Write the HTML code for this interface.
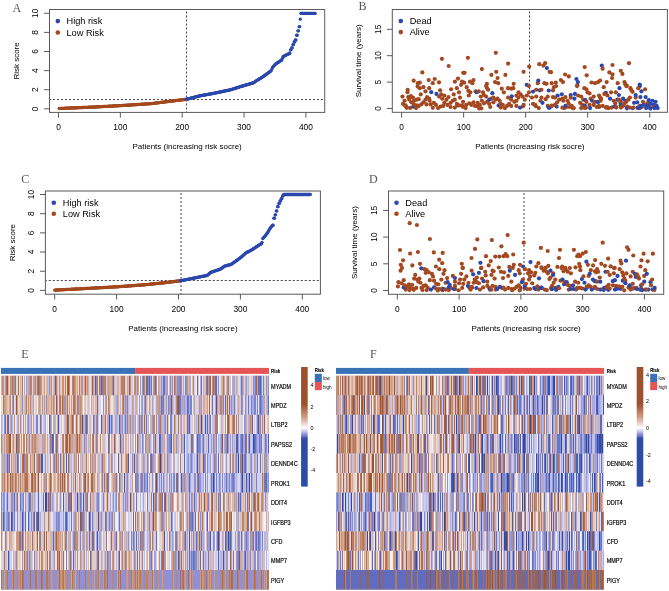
<!DOCTYPE html><html><head><meta charset="utf-8"><style>html,body{margin:0;padding:0;background:#fff}svg{display:block;will-change:transform}</style></head><body><svg width="669" height="591" viewBox="0 0 669 591" font-family="Liberation Sans, sans-serif" fill="#000">
<rect width="669" height="591" fill="#fff"/>
<line x1="186.5" y1="9.5" x2="186.5" y2="112.4" stroke="#444" stroke-width="1.0" stroke-dasharray="2 2" stroke-dashoffset="2"/>
<line x1="49.5" y1="99.5" x2="324.7" y2="99.5" stroke="#444" stroke-width="1" stroke-dasharray="2 2" stroke-dashoffset="0.6"/>
<circle cx="59.12" cy="108.49" r="1.65" fill="#a4491f"/>
<circle cx="59.74" cy="108.46" r="1.65" fill="#a4491f"/>
<circle cx="60.36" cy="108.44" r="1.65" fill="#a4491f"/>
<circle cx="60.97" cy="108.41" r="1.65" fill="#a4491f"/>
<circle cx="61.59" cy="108.38" r="1.65" fill="#a4491f"/>
<circle cx="62.21" cy="108.36" r="1.65" fill="#a4491f"/>
<circle cx="62.83" cy="108.33" r="1.65" fill="#a4491f"/>
<circle cx="63.45" cy="108.31" r="1.65" fill="#a4491f"/>
<circle cx="64.07" cy="108.28" r="1.65" fill="#a4491f"/>
<circle cx="64.69" cy="108.25" r="1.65" fill="#a4491f"/>
<circle cx="65.3" cy="108.23" r="1.65" fill="#a4491f"/>
<circle cx="65.92" cy="108.2" r="1.65" fill="#a4491f"/>
<circle cx="66.54" cy="108.18" r="1.65" fill="#a4491f"/>
<circle cx="67.16" cy="108.15" r="1.65" fill="#a4491f"/>
<circle cx="67.78" cy="108.12" r="1.65" fill="#a4491f"/>
<circle cx="68.4" cy="108.1" r="1.65" fill="#a4491f"/>
<circle cx="69.01" cy="108.07" r="1.65" fill="#a4491f"/>
<circle cx="69.63" cy="108.04" r="1.65" fill="#a4491f"/>
<circle cx="70.25" cy="108.02" r="1.65" fill="#a4491f"/>
<circle cx="70.87" cy="107.99" r="1.65" fill="#a4491f"/>
<circle cx="71.49" cy="107.97" r="1.65" fill="#a4491f"/>
<circle cx="72.11" cy="107.94" r="1.65" fill="#a4491f"/>
<circle cx="72.73" cy="107.91" r="1.65" fill="#a4491f"/>
<circle cx="73.34" cy="107.89" r="1.65" fill="#a4491f"/>
<circle cx="73.96" cy="107.86" r="1.65" fill="#a4491f"/>
<circle cx="74.58" cy="107.84" r="1.65" fill="#a4491f"/>
<circle cx="75.2" cy="107.81" r="1.65" fill="#a4491f"/>
<circle cx="75.82" cy="107.78" r="1.65" fill="#a4491f"/>
<circle cx="76.44" cy="107.76" r="1.65" fill="#a4491f"/>
<circle cx="77.06" cy="107.73" r="1.65" fill="#a4491f"/>
<circle cx="77.67" cy="107.71" r="1.65" fill="#a4491f"/>
<circle cx="78.29" cy="107.68" r="1.65" fill="#a4491f"/>
<circle cx="78.91" cy="107.65" r="1.65" fill="#a4491f"/>
<circle cx="79.53" cy="107.63" r="1.65" fill="#a4491f"/>
<circle cx="80.15" cy="107.6" r="1.65" fill="#a4491f"/>
<circle cx="80.77" cy="107.58" r="1.65" fill="#a4491f"/>
<circle cx="81.38" cy="107.55" r="1.65" fill="#a4491f"/>
<circle cx="82" cy="107.52" r="1.65" fill="#a4491f"/>
<circle cx="82.62" cy="107.5" r="1.65" fill="#a4491f"/>
<circle cx="83.24" cy="107.47" r="1.65" fill="#a4491f"/>
<circle cx="83.86" cy="107.45" r="1.65" fill="#a4491f"/>
<circle cx="84.48" cy="107.42" r="1.65" fill="#a4491f"/>
<circle cx="85.1" cy="107.39" r="1.65" fill="#a4491f"/>
<circle cx="85.71" cy="107.37" r="1.65" fill="#a4491f"/>
<circle cx="86.33" cy="107.34" r="1.65" fill="#a4491f"/>
<circle cx="86.95" cy="107.32" r="1.65" fill="#a4491f"/>
<circle cx="87.57" cy="107.29" r="1.65" fill="#a4491f"/>
<circle cx="88.19" cy="107.26" r="1.65" fill="#a4491f"/>
<circle cx="88.81" cy="107.24" r="1.65" fill="#a4491f"/>
<circle cx="89.43" cy="107.21" r="1.65" fill="#a4491f"/>
<circle cx="90.04" cy="107.19" r="1.65" fill="#a4491f"/>
<circle cx="90.66" cy="107.16" r="1.65" fill="#a4491f"/>
<circle cx="91.28" cy="107.13" r="1.65" fill="#a4491f"/>
<circle cx="91.9" cy="107.11" r="1.65" fill="#a4491f"/>
<circle cx="92.52" cy="107.08" r="1.65" fill="#a4491f"/>
<circle cx="93.14" cy="107.06" r="1.65" fill="#a4491f"/>
<circle cx="93.75" cy="107.03" r="1.65" fill="#a4491f"/>
<circle cx="94.37" cy="107" r="1.65" fill="#a4491f"/>
<circle cx="94.99" cy="106.98" r="1.65" fill="#a4491f"/>
<circle cx="95.61" cy="106.94" r="1.65" fill="#a4491f"/>
<circle cx="96.23" cy="106.91" r="1.65" fill="#a4491f"/>
<circle cx="96.85" cy="106.88" r="1.65" fill="#a4491f"/>
<circle cx="97.47" cy="106.84" r="1.65" fill="#a4491f"/>
<circle cx="98.08" cy="106.81" r="1.65" fill="#a4491f"/>
<circle cx="98.7" cy="106.78" r="1.65" fill="#a4491f"/>
<circle cx="99.32" cy="106.74" r="1.65" fill="#a4491f"/>
<circle cx="99.94" cy="106.71" r="1.65" fill="#a4491f"/>
<circle cx="100.56" cy="106.68" r="1.65" fill="#a4491f"/>
<circle cx="101.18" cy="106.64" r="1.65" fill="#a4491f"/>
<circle cx="101.8" cy="106.61" r="1.65" fill="#a4491f"/>
<circle cx="102.41" cy="106.58" r="1.65" fill="#a4491f"/>
<circle cx="103.03" cy="106.55" r="1.65" fill="#a4491f"/>
<circle cx="103.65" cy="106.51" r="1.65" fill="#a4491f"/>
<circle cx="104.27" cy="106.48" r="1.65" fill="#a4491f"/>
<circle cx="104.89" cy="106.45" r="1.65" fill="#a4491f"/>
<circle cx="105.51" cy="106.41" r="1.65" fill="#a4491f"/>
<circle cx="106.12" cy="106.38" r="1.65" fill="#a4491f"/>
<circle cx="106.74" cy="106.35" r="1.65" fill="#a4491f"/>
<circle cx="107.36" cy="106.31" r="1.65" fill="#a4491f"/>
<circle cx="107.98" cy="106.28" r="1.65" fill="#a4491f"/>
<circle cx="108.6" cy="106.25" r="1.65" fill="#a4491f"/>
<circle cx="109.22" cy="106.21" r="1.65" fill="#a4491f"/>
<circle cx="109.84" cy="106.18" r="1.65" fill="#a4491f"/>
<circle cx="110.45" cy="106.15" r="1.65" fill="#a4491f"/>
<circle cx="111.07" cy="106.12" r="1.65" fill="#a4491f"/>
<circle cx="111.69" cy="106.08" r="1.65" fill="#a4491f"/>
<circle cx="112.31" cy="106.05" r="1.65" fill="#a4491f"/>
<circle cx="112.93" cy="106.02" r="1.65" fill="#a4491f"/>
<circle cx="113.55" cy="105.98" r="1.65" fill="#a4491f"/>
<circle cx="114.17" cy="105.95" r="1.65" fill="#a4491f"/>
<circle cx="114.78" cy="105.92" r="1.65" fill="#a4491f"/>
<circle cx="115.4" cy="105.88" r="1.65" fill="#a4491f"/>
<circle cx="116.02" cy="105.85" r="1.65" fill="#a4491f"/>
<circle cx="116.64" cy="105.82" r="1.65" fill="#a4491f"/>
<circle cx="117.26" cy="105.78" r="1.65" fill="#a4491f"/>
<circle cx="117.88" cy="105.75" r="1.65" fill="#a4491f"/>
<circle cx="118.49" cy="105.72" r="1.65" fill="#a4491f"/>
<circle cx="119.11" cy="105.69" r="1.65" fill="#a4491f"/>
<circle cx="119.73" cy="105.65" r="1.65" fill="#a4491f"/>
<circle cx="120.35" cy="105.62" r="1.65" fill="#a4491f"/>
<circle cx="120.97" cy="105.59" r="1.65" fill="#a4491f"/>
<circle cx="121.59" cy="105.55" r="1.65" fill="#a4491f"/>
<circle cx="122.21" cy="105.51" r="1.65" fill="#a4491f"/>
<circle cx="122.82" cy="105.47" r="1.65" fill="#a4491f"/>
<circle cx="123.44" cy="105.43" r="1.65" fill="#a4491f"/>
<circle cx="124.06" cy="105.39" r="1.65" fill="#a4491f"/>
<circle cx="124.68" cy="105.35" r="1.65" fill="#a4491f"/>
<circle cx="125.3" cy="105.31" r="1.65" fill="#a4491f"/>
<circle cx="125.92" cy="105.27" r="1.65" fill="#a4491f"/>
<circle cx="126.54" cy="105.23" r="1.65" fill="#a4491f"/>
<circle cx="127.15" cy="105.19" r="1.65" fill="#a4491f"/>
<circle cx="127.77" cy="105.15" r="1.65" fill="#a4491f"/>
<circle cx="128.39" cy="105.11" r="1.65" fill="#a4491f"/>
<circle cx="129.01" cy="105.07" r="1.65" fill="#a4491f"/>
<circle cx="129.63" cy="105.03" r="1.65" fill="#a4491f"/>
<circle cx="130.25" cy="104.99" r="1.65" fill="#a4491f"/>
<circle cx="130.86" cy="104.95" r="1.65" fill="#a4491f"/>
<circle cx="131.48" cy="104.91" r="1.65" fill="#a4491f"/>
<circle cx="132.1" cy="104.87" r="1.65" fill="#a4491f"/>
<circle cx="132.72" cy="104.83" r="1.65" fill="#a4491f"/>
<circle cx="133.34" cy="104.79" r="1.65" fill="#a4491f"/>
<circle cx="133.96" cy="104.75" r="1.65" fill="#a4491f"/>
<circle cx="134.58" cy="104.71" r="1.65" fill="#a4491f"/>
<circle cx="135.19" cy="104.67" r="1.65" fill="#a4491f"/>
<circle cx="135.81" cy="104.63" r="1.65" fill="#a4491f"/>
<circle cx="136.43" cy="104.59" r="1.65" fill="#a4491f"/>
<circle cx="137.05" cy="104.55" r="1.65" fill="#a4491f"/>
<circle cx="137.67" cy="104.51" r="1.65" fill="#a4491f"/>
<circle cx="138.29" cy="104.47" r="1.65" fill="#a4491f"/>
<circle cx="138.91" cy="104.43" r="1.65" fill="#a4491f"/>
<circle cx="139.52" cy="104.39" r="1.65" fill="#a4491f"/>
<circle cx="140.14" cy="104.35" r="1.65" fill="#a4491f"/>
<circle cx="140.76" cy="104.31" r="1.65" fill="#a4491f"/>
<circle cx="141.38" cy="104.27" r="1.65" fill="#a4491f"/>
<circle cx="142" cy="104.23" r="1.65" fill="#a4491f"/>
<circle cx="142.62" cy="104.19" r="1.65" fill="#a4491f"/>
<circle cx="143.23" cy="104.15" r="1.65" fill="#a4491f"/>
<circle cx="143.85" cy="104.11" r="1.65" fill="#a4491f"/>
<circle cx="144.47" cy="104.07" r="1.65" fill="#a4491f"/>
<circle cx="145.09" cy="104.02" r="1.65" fill="#a4491f"/>
<circle cx="145.71" cy="103.98" r="1.65" fill="#a4491f"/>
<circle cx="146.33" cy="103.94" r="1.65" fill="#a4491f"/>
<circle cx="146.95" cy="103.9" r="1.65" fill="#a4491f"/>
<circle cx="147.56" cy="103.86" r="1.65" fill="#a4491f"/>
<circle cx="148.18" cy="103.82" r="1.65" fill="#a4491f"/>
<circle cx="148.8" cy="103.78" r="1.65" fill="#a4491f"/>
<circle cx="149.42" cy="103.74" r="1.65" fill="#a4491f"/>
<circle cx="150.04" cy="103.7" r="1.65" fill="#a4491f"/>
<circle cx="150.66" cy="103.66" r="1.65" fill="#a4491f"/>
<circle cx="151.28" cy="103.6" r="1.65" fill="#a4491f"/>
<circle cx="151.89" cy="103.53" r="1.65" fill="#a4491f"/>
<circle cx="152.51" cy="103.45" r="1.65" fill="#a4491f"/>
<circle cx="153.13" cy="103.38" r="1.65" fill="#a4491f"/>
<circle cx="153.75" cy="103.3" r="1.65" fill="#a4491f"/>
<circle cx="154.37" cy="103.22" r="1.65" fill="#a4491f"/>
<circle cx="154.99" cy="103.15" r="1.65" fill="#a4491f"/>
<circle cx="155.6" cy="103.07" r="1.65" fill="#a4491f"/>
<circle cx="156.22" cy="102.99" r="1.65" fill="#a4491f"/>
<circle cx="156.84" cy="102.92" r="1.65" fill="#a4491f"/>
<circle cx="157.46" cy="102.84" r="1.65" fill="#a4491f"/>
<circle cx="158.08" cy="102.76" r="1.65" fill="#a4491f"/>
<circle cx="158.7" cy="102.69" r="1.65" fill="#a4491f"/>
<circle cx="159.32" cy="102.61" r="1.65" fill="#a4491f"/>
<circle cx="159.93" cy="102.54" r="1.65" fill="#a4491f"/>
<circle cx="160.55" cy="102.46" r="1.65" fill="#a4491f"/>
<circle cx="161.17" cy="102.38" r="1.65" fill="#a4491f"/>
<circle cx="161.79" cy="102.31" r="1.65" fill="#a4491f"/>
<circle cx="162.41" cy="102.23" r="1.65" fill="#a4491f"/>
<circle cx="163.03" cy="102.15" r="1.65" fill="#a4491f"/>
<circle cx="163.65" cy="102.08" r="1.65" fill="#a4491f"/>
<circle cx="164.26" cy="102" r="1.65" fill="#a4491f"/>
<circle cx="164.88" cy="101.92" r="1.65" fill="#a4491f"/>
<circle cx="165.5" cy="101.85" r="1.65" fill="#a4491f"/>
<circle cx="166.12" cy="101.77" r="1.65" fill="#a4491f"/>
<circle cx="166.74" cy="101.69" r="1.65" fill="#a4491f"/>
<circle cx="167.36" cy="101.62" r="1.65" fill="#a4491f"/>
<circle cx="167.97" cy="101.54" r="1.65" fill="#a4491f"/>
<circle cx="168.59" cy="101.47" r="1.65" fill="#a4491f"/>
<circle cx="169.21" cy="101.39" r="1.65" fill="#a4491f"/>
<circle cx="169.83" cy="101.31" r="1.65" fill="#a4491f"/>
<circle cx="170.45" cy="101.24" r="1.65" fill="#a4491f"/>
<circle cx="171.07" cy="101.16" r="1.65" fill="#a4491f"/>
<circle cx="171.69" cy="101.08" r="1.65" fill="#a4491f"/>
<circle cx="172.3" cy="101.01" r="1.65" fill="#a4491f"/>
<circle cx="172.92" cy="100.93" r="1.65" fill="#a4491f"/>
<circle cx="173.54" cy="100.85" r="1.65" fill="#a4491f"/>
<circle cx="174.16" cy="100.78" r="1.65" fill="#a4491f"/>
<circle cx="174.78" cy="100.7" r="1.65" fill="#a4491f"/>
<circle cx="175.4" cy="100.63" r="1.65" fill="#a4491f"/>
<circle cx="176.02" cy="100.55" r="1.65" fill="#a4491f"/>
<circle cx="176.63" cy="100.47" r="1.65" fill="#a4491f"/>
<circle cx="177.25" cy="100.4" r="1.65" fill="#a4491f"/>
<circle cx="177.87" cy="100.32" r="1.65" fill="#a4491f"/>
<circle cx="178.49" cy="100.24" r="1.65" fill="#a4491f"/>
<circle cx="179.11" cy="100.17" r="1.65" fill="#a4491f"/>
<circle cx="179.73" cy="100.09" r="1.65" fill="#a4491f"/>
<circle cx="180.34" cy="100.01" r="1.65" fill="#a4491f"/>
<circle cx="180.96" cy="99.94" r="1.65" fill="#a4491f"/>
<circle cx="181.58" cy="99.86" r="1.65" fill="#a4491f"/>
<circle cx="182.2" cy="99.78" r="1.65" fill="#a4491f"/>
<circle cx="182.82" cy="99.71" r="1.65" fill="#a4491f"/>
<circle cx="183.44" cy="99.63" r="1.65" fill="#a4491f"/>
<circle cx="184.06" cy="99.56" r="1.65" fill="#a4491f"/>
<circle cx="184.67" cy="99.48" r="1.65" fill="#a4491f"/>
<circle cx="185.29" cy="99.4" r="1.65" fill="#a4491f"/>
<circle cx="185.91" cy="99.33" r="1.65" fill="#a4491f"/>
<circle cx="186.53" cy="99.25" r="1.65" fill="#2a48ad"/>
<circle cx="187.15" cy="99.09" r="1.65" fill="#2a48ad"/>
<circle cx="187.77" cy="98.93" r="1.65" fill="#2a48ad"/>
<circle cx="188.39" cy="98.77" r="1.65" fill="#2a48ad"/>
<circle cx="189" cy="98.61" r="1.65" fill="#2a48ad"/>
<circle cx="189.62" cy="98.45" r="1.65" fill="#2a48ad"/>
<circle cx="190.24" cy="98.29" r="1.65" fill="#2a48ad"/>
<circle cx="190.86" cy="98.13" r="1.65" fill="#2a48ad"/>
<circle cx="191.48" cy="97.97" r="1.65" fill="#2a48ad"/>
<circle cx="192.1" cy="97.81" r="1.65" fill="#2a48ad"/>
<circle cx="192.71" cy="97.65" r="1.65" fill="#2a48ad"/>
<circle cx="193.33" cy="97.49" r="1.65" fill="#2a48ad"/>
<circle cx="193.95" cy="97.33" r="1.65" fill="#2a48ad"/>
<circle cx="194.57" cy="97.17" r="1.65" fill="#2a48ad"/>
<circle cx="195.19" cy="97.01" r="1.65" fill="#2a48ad"/>
<circle cx="195.81" cy="96.85" r="1.65" fill="#2a48ad"/>
<circle cx="196.43" cy="96.69" r="1.65" fill="#2a48ad"/>
<circle cx="197.04" cy="96.53" r="1.65" fill="#2a48ad"/>
<circle cx="197.66" cy="96.37" r="1.65" fill="#2a48ad"/>
<circle cx="198.28" cy="96.21" r="1.65" fill="#2a48ad"/>
<circle cx="198.9" cy="96.05" r="1.65" fill="#2a48ad"/>
<circle cx="199.52" cy="95.92" r="1.65" fill="#2a48ad"/>
<circle cx="200.14" cy="95.81" r="1.65" fill="#2a48ad"/>
<circle cx="200.76" cy="95.69" r="1.65" fill="#2a48ad"/>
<circle cx="201.37" cy="95.58" r="1.65" fill="#2a48ad"/>
<circle cx="201.99" cy="95.47" r="1.65" fill="#2a48ad"/>
<circle cx="202.61" cy="95.35" r="1.65" fill="#2a48ad"/>
<circle cx="203.23" cy="95.24" r="1.65" fill="#2a48ad"/>
<circle cx="203.85" cy="95.12" r="1.65" fill="#2a48ad"/>
<circle cx="204.47" cy="95.01" r="1.65" fill="#2a48ad"/>
<circle cx="205.08" cy="94.89" r="1.65" fill="#2a48ad"/>
<circle cx="205.7" cy="94.78" r="1.65" fill="#2a48ad"/>
<circle cx="206.32" cy="94.66" r="1.65" fill="#2a48ad"/>
<circle cx="206.94" cy="94.55" r="1.65" fill="#2a48ad"/>
<circle cx="207.56" cy="94.43" r="1.65" fill="#2a48ad"/>
<circle cx="208.18" cy="94.32" r="1.65" fill="#2a48ad"/>
<circle cx="208.8" cy="94.21" r="1.65" fill="#2a48ad"/>
<circle cx="209.41" cy="94.09" r="1.65" fill="#2a48ad"/>
<circle cx="210.03" cy="93.98" r="1.65" fill="#2a48ad"/>
<circle cx="210.65" cy="93.86" r="1.65" fill="#2a48ad"/>
<circle cx="211.27" cy="93.75" r="1.65" fill="#2a48ad"/>
<circle cx="211.89" cy="93.63" r="1.65" fill="#2a48ad"/>
<circle cx="212.51" cy="93.52" r="1.65" fill="#2a48ad"/>
<circle cx="213.12" cy="93.4" r="1.65" fill="#2a48ad"/>
<circle cx="213.74" cy="93.29" r="1.65" fill="#2a48ad"/>
<circle cx="214.36" cy="93.18" r="1.65" fill="#2a48ad"/>
<circle cx="214.98" cy="93.06" r="1.65" fill="#2a48ad"/>
<circle cx="215.6" cy="92.95" r="1.65" fill="#2a48ad"/>
<circle cx="216.22" cy="92.82" r="1.65" fill="#2a48ad"/>
<circle cx="216.84" cy="92.68" r="1.65" fill="#2a48ad"/>
<circle cx="217.45" cy="92.55" r="1.65" fill="#2a48ad"/>
<circle cx="218.07" cy="92.42" r="1.65" fill="#2a48ad"/>
<circle cx="218.69" cy="92.29" r="1.65" fill="#2a48ad"/>
<circle cx="219.31" cy="92.16" r="1.65" fill="#2a48ad"/>
<circle cx="219.93" cy="92.02" r="1.65" fill="#2a48ad"/>
<circle cx="220.55" cy="91.89" r="1.65" fill="#2a48ad"/>
<circle cx="221.17" cy="91.76" r="1.65" fill="#2a48ad"/>
<circle cx="221.78" cy="91.63" r="1.65" fill="#2a48ad"/>
<circle cx="222.4" cy="91.5" r="1.65" fill="#2a48ad"/>
<circle cx="223.02" cy="91.36" r="1.65" fill="#2a48ad"/>
<circle cx="223.64" cy="91.23" r="1.65" fill="#2a48ad"/>
<circle cx="224.26" cy="91.1" r="1.65" fill="#2a48ad"/>
<circle cx="224.88" cy="90.97" r="1.65" fill="#2a48ad"/>
<circle cx="225.5" cy="90.84" r="1.65" fill="#2a48ad"/>
<circle cx="226.11" cy="90.7" r="1.65" fill="#2a48ad"/>
<circle cx="226.73" cy="90.57" r="1.65" fill="#2a48ad"/>
<circle cx="227.35" cy="90.44" r="1.65" fill="#2a48ad"/>
<circle cx="227.97" cy="90.31" r="1.65" fill="#2a48ad"/>
<circle cx="228.59" cy="90.18" r="1.65" fill="#2a48ad"/>
<circle cx="229.21" cy="90.04" r="1.65" fill="#2a48ad"/>
<circle cx="229.82" cy="89.91" r="1.65" fill="#2a48ad"/>
<circle cx="230.44" cy="89.78" r="1.65" fill="#2a48ad"/>
<circle cx="231.06" cy="89.62" r="1.65" fill="#2a48ad"/>
<circle cx="231.68" cy="89.42" r="1.65" fill="#2a48ad"/>
<circle cx="232.3" cy="89.22" r="1.65" fill="#2a48ad"/>
<circle cx="232.92" cy="89.03" r="1.65" fill="#2a48ad"/>
<circle cx="233.54" cy="88.83" r="1.65" fill="#2a48ad"/>
<circle cx="234.15" cy="88.63" r="1.65" fill="#2a48ad"/>
<circle cx="234.77" cy="88.43" r="1.65" fill="#2a48ad"/>
<circle cx="235.39" cy="88.23" r="1.65" fill="#2a48ad"/>
<circle cx="236.01" cy="88.04" r="1.65" fill="#2a48ad"/>
<circle cx="236.63" cy="87.84" r="1.65" fill="#2a48ad"/>
<circle cx="237.25" cy="87.64" r="1.65" fill="#2a48ad"/>
<circle cx="237.87" cy="87.44" r="1.65" fill="#2a48ad"/>
<circle cx="238.48" cy="87.24" r="1.65" fill="#2a48ad"/>
<circle cx="239.1" cy="87.05" r="1.65" fill="#2a48ad"/>
<circle cx="239.72" cy="86.85" r="1.65" fill="#2a48ad"/>
<circle cx="240.34" cy="86.65" r="1.65" fill="#2a48ad"/>
<circle cx="240.96" cy="86.45" r="1.65" fill="#2a48ad"/>
<circle cx="241.58" cy="86.27" r="1.65" fill="#2a48ad"/>
<circle cx="242.19" cy="86.09" r="1.65" fill="#2a48ad"/>
<circle cx="242.81" cy="85.91" r="1.65" fill="#2a48ad"/>
<circle cx="243.43" cy="85.73" r="1.65" fill="#2a48ad"/>
<circle cx="244.05" cy="85.55" r="1.65" fill="#2a48ad"/>
<circle cx="244.67" cy="85.37" r="1.65" fill="#2a48ad"/>
<circle cx="245.29" cy="85.19" r="1.65" fill="#2a48ad"/>
<circle cx="245.91" cy="85.01" r="1.65" fill="#2a48ad"/>
<circle cx="246.52" cy="84.83" r="1.65" fill="#2a48ad"/>
<circle cx="247.14" cy="84.64" r="1.65" fill="#2a48ad"/>
<circle cx="247.76" cy="84.46" r="1.65" fill="#2a48ad"/>
<circle cx="248.38" cy="84.28" r="1.65" fill="#2a48ad"/>
<circle cx="249" cy="84.1" r="1.65" fill="#2a48ad"/>
<circle cx="249.62" cy="83.92" r="1.65" fill="#2a48ad"/>
<circle cx="250.24" cy="83.74" r="1.65" fill="#2a48ad"/>
<circle cx="250.85" cy="83.56" r="1.65" fill="#2a48ad"/>
<circle cx="251.47" cy="83.38" r="1.65" fill="#2a48ad"/>
<circle cx="252.09" cy="83.2" r="1.65" fill="#2a48ad"/>
<circle cx="252.71" cy="83.02" r="1.65" fill="#2a48ad"/>
<circle cx="253.33" cy="82.84" r="1.65" fill="#2a48ad"/>
<circle cx="253.95" cy="82.54" r="1.65" fill="#2a48ad"/>
<circle cx="254.56" cy="82.06" r="1.65" fill="#2a48ad"/>
<circle cx="255.18" cy="81.58" r="1.65" fill="#2a48ad"/>
<circle cx="255.8" cy="81.11" r="1.65" fill="#2a48ad"/>
<circle cx="256.42" cy="80.67" r="1.65" fill="#2a48ad"/>
<circle cx="257.04" cy="80.31" r="1.65" fill="#2a48ad"/>
<circle cx="257.66" cy="79.94" r="1.65" fill="#2a48ad"/>
<circle cx="258.28" cy="79.57" r="1.65" fill="#2a48ad"/>
<circle cx="258.89" cy="79.21" r="1.65" fill="#2a48ad"/>
<circle cx="259.51" cy="78.84" r="1.65" fill="#2a48ad"/>
<circle cx="260.13" cy="78.47" r="1.65" fill="#2a48ad"/>
<circle cx="260.75" cy="78.11" r="1.65" fill="#2a48ad"/>
<circle cx="261.37" cy="77.74" r="1.65" fill="#2a48ad"/>
<circle cx="261.99" cy="77.32" r="1.65" fill="#2a48ad"/>
<circle cx="262.61" cy="76.88" r="1.65" fill="#2a48ad"/>
<circle cx="263.22" cy="76.44" r="1.65" fill="#2a48ad"/>
<circle cx="263.84" cy="76.01" r="1.65" fill="#2a48ad"/>
<circle cx="264.46" cy="75.57" r="1.65" fill="#2a48ad"/>
<circle cx="265.08" cy="75.13" r="1.65" fill="#2a48ad"/>
<circle cx="265.7" cy="74.7" r="1.65" fill="#2a48ad"/>
<circle cx="266.32" cy="74.26" r="1.65" fill="#2a48ad"/>
<circle cx="266.93" cy="73.83" r="1.65" fill="#2a48ad"/>
<circle cx="267.55" cy="73.39" r="1.65" fill="#2a48ad"/>
<circle cx="268.17" cy="72.94" r="1.65" fill="#2a48ad"/>
<circle cx="268.79" cy="72.46" r="1.65" fill="#2a48ad"/>
<circle cx="269.41" cy="71.98" r="1.65" fill="#2a48ad"/>
<circle cx="270.03" cy="71.51" r="1.65" fill="#2a48ad"/>
<circle cx="270.65" cy="71.03" r="1.65" fill="#2a48ad"/>
<circle cx="271.26" cy="70.55" r="1.65" fill="#2a48ad"/>
<circle cx="271.88" cy="69.11" r="1.65" fill="#2a48ad"/>
<circle cx="272.5" cy="67.57" r="1.65" fill="#2a48ad"/>
<circle cx="273.12" cy="66.72" r="1.65" fill="#2a48ad"/>
<circle cx="273.74" cy="66.04" r="1.65" fill="#2a48ad"/>
<circle cx="274.36" cy="65.37" r="1.65" fill="#2a48ad"/>
<circle cx="274.98" cy="64.7" r="1.65" fill="#2a48ad"/>
<circle cx="275.59" cy="64.02" r="1.65" fill="#2a48ad"/>
<circle cx="276.21" cy="63.55" r="1.65" fill="#2a48ad"/>
<circle cx="276.83" cy="63.16" r="1.65" fill="#2a48ad"/>
<circle cx="277.45" cy="62.77" r="1.65" fill="#2a48ad"/>
<circle cx="278.07" cy="62.38" r="1.65" fill="#2a48ad"/>
<circle cx="278.69" cy="61.99" r="1.65" fill="#2a48ad"/>
<circle cx="279.3" cy="61.6" r="1.65" fill="#2a48ad"/>
<circle cx="279.92" cy="61.22" r="1.65" fill="#2a48ad"/>
<circle cx="280.54" cy="60.83" r="1.65" fill="#2a48ad"/>
<circle cx="281.16" cy="60.44" r="1.65" fill="#2a48ad"/>
<circle cx="281.78" cy="59.94" r="1.65" fill="#2a48ad"/>
<circle cx="282.4" cy="58.34" r="1.65" fill="#2a48ad"/>
<circle cx="283.02" cy="56.75" r="1.65" fill="#2a48ad"/>
<circle cx="283.63" cy="56.39" r="1.65" fill="#2a48ad"/>
<circle cx="284.25" cy="56.02" r="1.65" fill="#2a48ad"/>
<circle cx="284.87" cy="55.66" r="1.65" fill="#2a48ad"/>
<circle cx="285.49" cy="55.3" r="1.65" fill="#2a48ad"/>
<circle cx="286.11" cy="54.99" r="1.65" fill="#2a48ad"/>
<circle cx="286.73" cy="54.7" r="1.65" fill="#2a48ad"/>
<circle cx="287.35" cy="54.41" r="1.65" fill="#2a48ad"/>
<circle cx="287.96" cy="54.12" r="1.65" fill="#2a48ad"/>
<circle cx="288.58" cy="54.12" r="1.65" fill="#2a48ad"/>
<circle cx="289.2" cy="53.23" r="1.65" fill="#2a48ad"/>
<circle cx="289.82" cy="53.23" r="1.65" fill="#2a48ad"/>
<circle cx="290.44" cy="49.85" r="1.65" fill="#2a48ad"/>
<circle cx="291.06" cy="49.85" r="1.65" fill="#2a48ad"/>
<circle cx="291.67" cy="47.82" r="1.65" fill="#2a48ad"/>
<circle cx="292.29" cy="47.82" r="1.65" fill="#2a48ad"/>
<circle cx="292.91" cy="44.68" r="1.65" fill="#2a48ad"/>
<circle cx="293.53" cy="44.68" r="1.65" fill="#2a48ad"/>
<circle cx="294.15" cy="41.97" r="1.65" fill="#2a48ad"/>
<circle cx="294.77" cy="41.97" r="1.65" fill="#2a48ad"/>
<circle cx="295.39" cy="39.94" r="1.65" fill="#2a48ad"/>
<circle cx="296" cy="39.94" r="1.65" fill="#2a48ad"/>
<circle cx="296.62" cy="35.27" r="1.65" fill="#2a48ad"/>
<circle cx="297.24" cy="35.27" r="1.65" fill="#2a48ad"/>
<circle cx="297.86" cy="30.82" r="1.65" fill="#2a48ad"/>
<circle cx="298.48" cy="30.82" r="1.65" fill="#2a48ad"/>
<circle cx="299.1" cy="26.68" r="1.65" fill="#2a48ad"/>
<circle cx="299.72" cy="26.68" r="1.65" fill="#2a48ad"/>
<circle cx="300.33" cy="19.13" r="1.65" fill="#2a48ad"/>
<circle cx="300.95" cy="13.3" r="1.65" fill="#2a48ad"/>
<circle cx="301.57" cy="13.3" r="1.65" fill="#2a48ad"/>
<circle cx="302.19" cy="13.3" r="1.65" fill="#2a48ad"/>
<circle cx="302.81" cy="13.3" r="1.65" fill="#2a48ad"/>
<circle cx="303.43" cy="13.3" r="1.65" fill="#2a48ad"/>
<circle cx="304.04" cy="13.3" r="1.65" fill="#2a48ad"/>
<circle cx="304.66" cy="13.3" r="1.65" fill="#2a48ad"/>
<circle cx="305.28" cy="13.3" r="1.65" fill="#2a48ad"/>
<circle cx="305.9" cy="13.3" r="1.65" fill="#2a48ad"/>
<circle cx="306.52" cy="13.3" r="1.65" fill="#2a48ad"/>
<circle cx="307.14" cy="13.3" r="1.65" fill="#2a48ad"/>
<circle cx="307.76" cy="13.3" r="1.65" fill="#2a48ad"/>
<circle cx="308.37" cy="13.3" r="1.65" fill="#2a48ad"/>
<circle cx="308.99" cy="13.3" r="1.65" fill="#2a48ad"/>
<circle cx="309.61" cy="13.3" r="1.65" fill="#2a48ad"/>
<circle cx="310.23" cy="13.3" r="1.65" fill="#2a48ad"/>
<circle cx="310.85" cy="13.3" r="1.65" fill="#2a48ad"/>
<circle cx="311.47" cy="13.3" r="1.65" fill="#2a48ad"/>
<circle cx="312.09" cy="13.3" r="1.65" fill="#2a48ad"/>
<circle cx="312.7" cy="13.3" r="1.65" fill="#2a48ad"/>
<circle cx="313.32" cy="13.3" r="1.65" fill="#2a48ad"/>
<circle cx="313.94" cy="13.3" r="1.65" fill="#2a48ad"/>
<circle cx="314.56" cy="13.3" r="1.65" fill="#2a48ad"/>
<circle cx="315.18" cy="13.3" r="1.65" fill="#2a48ad"/>
<rect x="49.5" y="9.5" width="275.2" height="102.9" fill="none" stroke="#5a5a5a" stroke-width="1"/>
<line x1="58.5" y1="112.4" x2="58.5" y2="117.7" stroke="#5a5a5a"/>
<text x="58.5" y="129.8" text-anchor="middle" font-size="8.4">0</text>
<line x1="120.35" y1="112.4" x2="120.35" y2="117.7" stroke="#5a5a5a"/>
<text x="120.35" y="129.8" text-anchor="middle" font-size="8.4">100</text>
<line x1="182.2" y1="112.4" x2="182.2" y2="117.7" stroke="#5a5a5a"/>
<text x="182.2" y="129.8" text-anchor="middle" font-size="8.4">200</text>
<line x1="244.05" y1="112.4" x2="244.05" y2="117.7" stroke="#5a5a5a"/>
<text x="244.05" y="129.8" text-anchor="middle" font-size="8.4">300</text>
<line x1="305.9" y1="112.4" x2="305.9" y2="117.7" stroke="#5a5a5a"/>
<text x="305.9" y="129.8" text-anchor="middle" font-size="8.4">400</text>
<line x1="44.1" y1="108.8" x2="49.5" y2="108.8" stroke="#5a5a5a"/>
<text transform="translate(38.2 108.8) rotate(-90)" text-anchor="middle" font-size="8.4">0</text>
<line x1="44.1" y1="89.7" x2="49.5" y2="89.7" stroke="#5a5a5a"/>
<text transform="translate(38.2 89.7) rotate(-90)" text-anchor="middle" font-size="8.4">2</text>
<line x1="44.1" y1="70.6" x2="49.5" y2="70.6" stroke="#5a5a5a"/>
<text transform="translate(38.2 70.6) rotate(-90)" text-anchor="middle" font-size="8.4">4</text>
<line x1="44.1" y1="51.5" x2="49.5" y2="51.5" stroke="#5a5a5a"/>
<text transform="translate(38.2 51.5) rotate(-90)" text-anchor="middle" font-size="8.4">6</text>
<line x1="44.1" y1="32.4" x2="49.5" y2="32.4" stroke="#5a5a5a"/>
<text transform="translate(38.2 32.4) rotate(-90)" text-anchor="middle" font-size="8.4">8</text>
<line x1="44.1" y1="13.3" x2="49.5" y2="13.3" stroke="#5a5a5a"/>
<text transform="translate(38.2 13.3) rotate(-90)" text-anchor="middle" font-size="8.4">10</text>
<text x="187.1" y="149.4" text-anchor="middle" font-size="8.0">Patients (increasing risk socre)</text>
<text transform="translate(19.2 60.95) rotate(-90)" text-anchor="middle" font-size="8.0">Risk score</text>
<text x="12.6" y="11.7" font-family="Liberation Serif, serif" font-size="12" fill="#555">A</text>
<circle cx="57.8" cy="21.1" r="2.3" fill="#2a48ad"/>
<circle cx="57.8" cy="32.5" r="2.3" fill="#a4491f"/>
<text x="66.5" y="24.4" font-size="9.2">High risk</text>
<text x="66.5" y="35.8" font-size="9.2">Low Risk</text>
<line x1="181" y1="191" x2="181" y2="294.2" stroke="#444" stroke-width="1.0" stroke-dasharray="2 2" stroke-dashoffset="2"/>
<line x1="45.4" y1="280.5" x2="320.4" y2="280.5" stroke="#444" stroke-width="1" stroke-dasharray="2 2" stroke-dashoffset="0.6"/>
<circle cx="54.7" cy="290.11" r="1.65" fill="#a4491f"/>
<circle cx="55.32" cy="290.08" r="1.65" fill="#a4491f"/>
<circle cx="55.94" cy="290.05" r="1.65" fill="#a4491f"/>
<circle cx="56.56" cy="290.02" r="1.65" fill="#a4491f"/>
<circle cx="57.18" cy="289.98" r="1.65" fill="#a4491f"/>
<circle cx="57.8" cy="289.95" r="1.65" fill="#a4491f"/>
<circle cx="58.41" cy="289.92" r="1.65" fill="#a4491f"/>
<circle cx="59.03" cy="289.89" r="1.65" fill="#a4491f"/>
<circle cx="59.65" cy="289.86" r="1.65" fill="#a4491f"/>
<circle cx="60.27" cy="289.82" r="1.65" fill="#a4491f"/>
<circle cx="60.89" cy="289.79" r="1.65" fill="#a4491f"/>
<circle cx="61.51" cy="289.76" r="1.65" fill="#a4491f"/>
<circle cx="62.13" cy="289.73" r="1.65" fill="#a4491f"/>
<circle cx="62.75" cy="289.69" r="1.65" fill="#a4491f"/>
<circle cx="63.37" cy="289.66" r="1.65" fill="#a4491f"/>
<circle cx="63.98" cy="289.63" r="1.65" fill="#a4491f"/>
<circle cx="64.6" cy="289.6" r="1.65" fill="#a4491f"/>
<circle cx="65.22" cy="289.57" r="1.65" fill="#a4491f"/>
<circle cx="65.84" cy="289.53" r="1.65" fill="#a4491f"/>
<circle cx="66.46" cy="289.5" r="1.65" fill="#a4491f"/>
<circle cx="67.08" cy="289.47" r="1.65" fill="#a4491f"/>
<circle cx="67.7" cy="289.44" r="1.65" fill="#a4491f"/>
<circle cx="68.32" cy="289.41" r="1.65" fill="#a4491f"/>
<circle cx="68.94" cy="289.37" r="1.65" fill="#a4491f"/>
<circle cx="69.56" cy="289.34" r="1.65" fill="#a4491f"/>
<circle cx="70.17" cy="289.31" r="1.65" fill="#a4491f"/>
<circle cx="70.79" cy="289.28" r="1.65" fill="#a4491f"/>
<circle cx="71.41" cy="289.24" r="1.65" fill="#a4491f"/>
<circle cx="72.03" cy="289.21" r="1.65" fill="#a4491f"/>
<circle cx="72.65" cy="289.18" r="1.65" fill="#a4491f"/>
<circle cx="73.27" cy="289.15" r="1.65" fill="#a4491f"/>
<circle cx="73.89" cy="289.12" r="1.65" fill="#a4491f"/>
<circle cx="74.51" cy="289.08" r="1.65" fill="#a4491f"/>
<circle cx="75.13" cy="289.05" r="1.65" fill="#a4491f"/>
<circle cx="75.75" cy="289.02" r="1.65" fill="#a4491f"/>
<circle cx="76.37" cy="288.99" r="1.65" fill="#a4491f"/>
<circle cx="76.98" cy="288.96" r="1.65" fill="#a4491f"/>
<circle cx="77.6" cy="288.92" r="1.65" fill="#a4491f"/>
<circle cx="78.22" cy="288.89" r="1.65" fill="#a4491f"/>
<circle cx="78.84" cy="288.86" r="1.65" fill="#a4491f"/>
<circle cx="79.46" cy="288.83" r="1.65" fill="#a4491f"/>
<circle cx="80.08" cy="288.79" r="1.65" fill="#a4491f"/>
<circle cx="80.7" cy="288.76" r="1.65" fill="#a4491f"/>
<circle cx="81.32" cy="288.73" r="1.65" fill="#a4491f"/>
<circle cx="81.94" cy="288.7" r="1.65" fill="#a4491f"/>
<circle cx="82.56" cy="288.67" r="1.65" fill="#a4491f"/>
<circle cx="83.17" cy="288.63" r="1.65" fill="#a4491f"/>
<circle cx="83.79" cy="288.6" r="1.65" fill="#a4491f"/>
<circle cx="84.41" cy="288.57" r="1.65" fill="#a4491f"/>
<circle cx="85.03" cy="288.54" r="1.65" fill="#a4491f"/>
<circle cx="85.65" cy="288.51" r="1.65" fill="#a4491f"/>
<circle cx="86.27" cy="288.47" r="1.65" fill="#a4491f"/>
<circle cx="86.89" cy="288.44" r="1.65" fill="#a4491f"/>
<circle cx="87.51" cy="288.41" r="1.65" fill="#a4491f"/>
<circle cx="88.13" cy="288.38" r="1.65" fill="#a4491f"/>
<circle cx="88.75" cy="288.34" r="1.65" fill="#a4491f"/>
<circle cx="89.36" cy="288.31" r="1.65" fill="#a4491f"/>
<circle cx="89.98" cy="288.28" r="1.65" fill="#a4491f"/>
<circle cx="90.6" cy="288.25" r="1.65" fill="#a4491f"/>
<circle cx="91.22" cy="288.21" r="1.65" fill="#a4491f"/>
<circle cx="91.84" cy="288.18" r="1.65" fill="#a4491f"/>
<circle cx="92.46" cy="288.14" r="1.65" fill="#a4491f"/>
<circle cx="93.08" cy="288.11" r="1.65" fill="#a4491f"/>
<circle cx="93.7" cy="288.07" r="1.65" fill="#a4491f"/>
<circle cx="94.32" cy="288.04" r="1.65" fill="#a4491f"/>
<circle cx="94.94" cy="288" r="1.65" fill="#a4491f"/>
<circle cx="95.55" cy="287.97" r="1.65" fill="#a4491f"/>
<circle cx="96.17" cy="287.93" r="1.65" fill="#a4491f"/>
<circle cx="96.79" cy="287.9" r="1.65" fill="#a4491f"/>
<circle cx="97.41" cy="287.87" r="1.65" fill="#a4491f"/>
<circle cx="98.03" cy="287.83" r="1.65" fill="#a4491f"/>
<circle cx="98.65" cy="287.8" r="1.65" fill="#a4491f"/>
<circle cx="99.27" cy="287.76" r="1.65" fill="#a4491f"/>
<circle cx="99.89" cy="287.73" r="1.65" fill="#a4491f"/>
<circle cx="100.51" cy="287.69" r="1.65" fill="#a4491f"/>
<circle cx="101.12" cy="287.66" r="1.65" fill="#a4491f"/>
<circle cx="101.74" cy="287.62" r="1.65" fill="#a4491f"/>
<circle cx="102.36" cy="287.59" r="1.65" fill="#a4491f"/>
<circle cx="102.98" cy="287.55" r="1.65" fill="#a4491f"/>
<circle cx="103.6" cy="287.52" r="1.65" fill="#a4491f"/>
<circle cx="104.22" cy="287.49" r="1.65" fill="#a4491f"/>
<circle cx="104.84" cy="287.45" r="1.65" fill="#a4491f"/>
<circle cx="105.46" cy="287.42" r="1.65" fill="#a4491f"/>
<circle cx="106.08" cy="287.38" r="1.65" fill="#a4491f"/>
<circle cx="106.7" cy="287.35" r="1.65" fill="#a4491f"/>
<circle cx="107.31" cy="287.31" r="1.65" fill="#a4491f"/>
<circle cx="107.93" cy="287.28" r="1.65" fill="#a4491f"/>
<circle cx="108.55" cy="287.24" r="1.65" fill="#a4491f"/>
<circle cx="109.17" cy="287.21" r="1.65" fill="#a4491f"/>
<circle cx="109.79" cy="287.17" r="1.65" fill="#a4491f"/>
<circle cx="110.41" cy="287.14" r="1.65" fill="#a4491f"/>
<circle cx="111.03" cy="287.11" r="1.65" fill="#a4491f"/>
<circle cx="111.65" cy="287.07" r="1.65" fill="#a4491f"/>
<circle cx="112.27" cy="287.04" r="1.65" fill="#a4491f"/>
<circle cx="112.89" cy="287" r="1.65" fill="#a4491f"/>
<circle cx="113.5" cy="286.97" r="1.65" fill="#a4491f"/>
<circle cx="114.12" cy="286.93" r="1.65" fill="#a4491f"/>
<circle cx="114.74" cy="286.9" r="1.65" fill="#a4491f"/>
<circle cx="115.36" cy="286.86" r="1.65" fill="#a4491f"/>
<circle cx="115.98" cy="286.83" r="1.65" fill="#a4491f"/>
<circle cx="116.6" cy="286.79" r="1.65" fill="#a4491f"/>
<circle cx="117.22" cy="286.76" r="1.65" fill="#a4491f"/>
<circle cx="117.84" cy="286.73" r="1.65" fill="#a4491f"/>
<circle cx="118.46" cy="286.69" r="1.65" fill="#a4491f"/>
<circle cx="119.08" cy="286.66" r="1.65" fill="#a4491f"/>
<circle cx="119.7" cy="286.61" r="1.65" fill="#a4491f"/>
<circle cx="120.31" cy="286.56" r="1.65" fill="#a4491f"/>
<circle cx="120.93" cy="286.52" r="1.65" fill="#a4491f"/>
<circle cx="121.55" cy="286.47" r="1.65" fill="#a4491f"/>
<circle cx="122.17" cy="286.42" r="1.65" fill="#a4491f"/>
<circle cx="122.79" cy="286.38" r="1.65" fill="#a4491f"/>
<circle cx="123.41" cy="286.33" r="1.65" fill="#a4491f"/>
<circle cx="124.03" cy="286.28" r="1.65" fill="#a4491f"/>
<circle cx="124.65" cy="286.24" r="1.65" fill="#a4491f"/>
<circle cx="125.27" cy="286.19" r="1.65" fill="#a4491f"/>
<circle cx="125.89" cy="286.14" r="1.65" fill="#a4491f"/>
<circle cx="126.5" cy="286.1" r="1.65" fill="#a4491f"/>
<circle cx="127.12" cy="286.05" r="1.65" fill="#a4491f"/>
<circle cx="127.74" cy="286.01" r="1.65" fill="#a4491f"/>
<circle cx="128.36" cy="285.96" r="1.65" fill="#a4491f"/>
<circle cx="128.98" cy="285.91" r="1.65" fill="#a4491f"/>
<circle cx="129.6" cy="285.87" r="1.65" fill="#a4491f"/>
<circle cx="130.22" cy="285.82" r="1.65" fill="#a4491f"/>
<circle cx="130.84" cy="285.77" r="1.65" fill="#a4491f"/>
<circle cx="131.46" cy="285.73" r="1.65" fill="#a4491f"/>
<circle cx="132.07" cy="285.68" r="1.65" fill="#a4491f"/>
<circle cx="132.69" cy="285.63" r="1.65" fill="#a4491f"/>
<circle cx="133.31" cy="285.59" r="1.65" fill="#a4491f"/>
<circle cx="133.93" cy="285.54" r="1.65" fill="#a4491f"/>
<circle cx="134.55" cy="285.5" r="1.65" fill="#a4491f"/>
<circle cx="135.17" cy="285.45" r="1.65" fill="#a4491f"/>
<circle cx="135.79" cy="285.4" r="1.65" fill="#a4491f"/>
<circle cx="136.41" cy="285.36" r="1.65" fill="#a4491f"/>
<circle cx="137.03" cy="285.31" r="1.65" fill="#a4491f"/>
<circle cx="137.65" cy="285.26" r="1.65" fill="#a4491f"/>
<circle cx="138.26" cy="285.22" r="1.65" fill="#a4491f"/>
<circle cx="138.88" cy="285.17" r="1.65" fill="#a4491f"/>
<circle cx="139.5" cy="285.12" r="1.65" fill="#a4491f"/>
<circle cx="140.12" cy="285.08" r="1.65" fill="#a4491f"/>
<circle cx="140.74" cy="285.03" r="1.65" fill="#a4491f"/>
<circle cx="141.36" cy="284.98" r="1.65" fill="#a4491f"/>
<circle cx="141.98" cy="284.94" r="1.65" fill="#a4491f"/>
<circle cx="142.6" cy="284.89" r="1.65" fill="#a4491f"/>
<circle cx="143.22" cy="284.85" r="1.65" fill="#a4491f"/>
<circle cx="143.84" cy="284.8" r="1.65" fill="#a4491f"/>
<circle cx="144.45" cy="284.75" r="1.65" fill="#a4491f"/>
<circle cx="145.07" cy="284.71" r="1.65" fill="#a4491f"/>
<circle cx="145.69" cy="284.66" r="1.65" fill="#a4491f"/>
<circle cx="146.31" cy="284.6" r="1.65" fill="#a4491f"/>
<circle cx="146.93" cy="284.54" r="1.65" fill="#a4491f"/>
<circle cx="147.55" cy="284.47" r="1.65" fill="#a4491f"/>
<circle cx="148.17" cy="284.41" r="1.65" fill="#a4491f"/>
<circle cx="148.79" cy="284.34" r="1.65" fill="#a4491f"/>
<circle cx="149.41" cy="284.28" r="1.65" fill="#a4491f"/>
<circle cx="150.03" cy="284.21" r="1.65" fill="#a4491f"/>
<circle cx="150.64" cy="284.15" r="1.65" fill="#a4491f"/>
<circle cx="151.26" cy="284.08" r="1.65" fill="#a4491f"/>
<circle cx="151.88" cy="284.02" r="1.65" fill="#a4491f"/>
<circle cx="152.5" cy="283.96" r="1.65" fill="#a4491f"/>
<circle cx="153.12" cy="283.89" r="1.65" fill="#a4491f"/>
<circle cx="153.74" cy="283.83" r="1.65" fill="#a4491f"/>
<circle cx="154.36" cy="283.76" r="1.65" fill="#a4491f"/>
<circle cx="154.98" cy="283.7" r="1.65" fill="#a4491f"/>
<circle cx="155.6" cy="283.63" r="1.65" fill="#a4491f"/>
<circle cx="156.22" cy="283.57" r="1.65" fill="#a4491f"/>
<circle cx="156.84" cy="283.5" r="1.65" fill="#a4491f"/>
<circle cx="157.45" cy="283.44" r="1.65" fill="#a4491f"/>
<circle cx="158.07" cy="283.37" r="1.65" fill="#a4491f"/>
<circle cx="158.69" cy="283.31" r="1.65" fill="#a4491f"/>
<circle cx="159.31" cy="283.25" r="1.65" fill="#a4491f"/>
<circle cx="159.93" cy="283.18" r="1.65" fill="#a4491f"/>
<circle cx="160.55" cy="283.12" r="1.65" fill="#a4491f"/>
<circle cx="161.17" cy="283.05" r="1.65" fill="#a4491f"/>
<circle cx="161.79" cy="282.99" r="1.65" fill="#a4491f"/>
<circle cx="162.41" cy="282.92" r="1.65" fill="#a4491f"/>
<circle cx="163.03" cy="282.86" r="1.65" fill="#a4491f"/>
<circle cx="163.64" cy="282.79" r="1.65" fill="#a4491f"/>
<circle cx="164.26" cy="282.73" r="1.65" fill="#a4491f"/>
<circle cx="164.88" cy="282.67" r="1.65" fill="#a4491f"/>
<circle cx="165.5" cy="282.6" r="1.65" fill="#a4491f"/>
<circle cx="166.12" cy="282.54" r="1.65" fill="#a4491f"/>
<circle cx="166.74" cy="282.46" r="1.65" fill="#a4491f"/>
<circle cx="167.36" cy="282.38" r="1.65" fill="#a4491f"/>
<circle cx="167.98" cy="282.3" r="1.65" fill="#a4491f"/>
<circle cx="168.6" cy="282.22" r="1.65" fill="#a4491f"/>
<circle cx="169.22" cy="282.14" r="1.65" fill="#a4491f"/>
<circle cx="169.83" cy="282.06" r="1.65" fill="#a4491f"/>
<circle cx="170.45" cy="281.98" r="1.65" fill="#a4491f"/>
<circle cx="171.07" cy="281.9" r="1.65" fill="#a4491f"/>
<circle cx="171.69" cy="281.82" r="1.65" fill="#a4491f"/>
<circle cx="172.31" cy="281.74" r="1.65" fill="#a4491f"/>
<circle cx="172.93" cy="281.66" r="1.65" fill="#a4491f"/>
<circle cx="173.55" cy="281.59" r="1.65" fill="#a4491f"/>
<circle cx="174.17" cy="281.51" r="1.65" fill="#a4491f"/>
<circle cx="174.79" cy="281.43" r="1.65" fill="#a4491f"/>
<circle cx="175.41" cy="281.35" r="1.65" fill="#a4491f"/>
<circle cx="176.02" cy="281.27" r="1.65" fill="#a4491f"/>
<circle cx="176.64" cy="281.19" r="1.65" fill="#a4491f"/>
<circle cx="177.26" cy="281.11" r="1.65" fill="#a4491f"/>
<circle cx="177.88" cy="281.03" r="1.65" fill="#a4491f"/>
<circle cx="178.5" cy="280.95" r="1.65" fill="#a4491f"/>
<circle cx="179.12" cy="280.87" r="1.65" fill="#a4491f"/>
<circle cx="179.74" cy="280.79" r="1.65" fill="#a4491f"/>
<circle cx="180.36" cy="280.81" r="1.65" fill="#2a48ad"/>
<circle cx="180.98" cy="280.68" r="1.65" fill="#2a48ad"/>
<circle cx="181.59" cy="280.56" r="1.65" fill="#2a48ad"/>
<circle cx="182.21" cy="280.43" r="1.65" fill="#2a48ad"/>
<circle cx="182.83" cy="280.3" r="1.65" fill="#2a48ad"/>
<circle cx="183.45" cy="280.18" r="1.65" fill="#2a48ad"/>
<circle cx="184.07" cy="280.05" r="1.65" fill="#2a48ad"/>
<circle cx="184.69" cy="279.92" r="1.65" fill="#2a48ad"/>
<circle cx="185.31" cy="279.8" r="1.65" fill="#2a48ad"/>
<circle cx="185.93" cy="279.67" r="1.65" fill="#2a48ad"/>
<circle cx="186.55" cy="279.54" r="1.65" fill="#2a48ad"/>
<circle cx="187.17" cy="279.42" r="1.65" fill="#2a48ad"/>
<circle cx="187.79" cy="279.29" r="1.65" fill="#2a48ad"/>
<circle cx="188.4" cy="279.16" r="1.65" fill="#2a48ad"/>
<circle cx="189.02" cy="279.04" r="1.65" fill="#2a48ad"/>
<circle cx="189.64" cy="278.91" r="1.65" fill="#2a48ad"/>
<circle cx="190.26" cy="278.78" r="1.65" fill="#2a48ad"/>
<circle cx="190.88" cy="278.66" r="1.65" fill="#2a48ad"/>
<circle cx="191.5" cy="278.54" r="1.65" fill="#2a48ad"/>
<circle cx="192.12" cy="278.42" r="1.65" fill="#2a48ad"/>
<circle cx="192.74" cy="278.3" r="1.65" fill="#2a48ad"/>
<circle cx="193.36" cy="278.17" r="1.65" fill="#2a48ad"/>
<circle cx="193.98" cy="278.05" r="1.65" fill="#2a48ad"/>
<circle cx="194.59" cy="277.93" r="1.65" fill="#2a48ad"/>
<circle cx="195.21" cy="277.81" r="1.65" fill="#2a48ad"/>
<circle cx="195.83" cy="277.69" r="1.65" fill="#2a48ad"/>
<circle cx="196.45" cy="277.56" r="1.65" fill="#2a48ad"/>
<circle cx="197.07" cy="277.44" r="1.65" fill="#2a48ad"/>
<circle cx="197.69" cy="277.32" r="1.65" fill="#2a48ad"/>
<circle cx="198.31" cy="277.2" r="1.65" fill="#2a48ad"/>
<circle cx="198.93" cy="277.08" r="1.65" fill="#2a48ad"/>
<circle cx="199.55" cy="276.95" r="1.65" fill="#2a48ad"/>
<circle cx="200.17" cy="276.83" r="1.65" fill="#2a48ad"/>
<circle cx="200.78" cy="276.71" r="1.65" fill="#2a48ad"/>
<circle cx="201.4" cy="276.58" r="1.65" fill="#2a48ad"/>
<circle cx="202.02" cy="276.45" r="1.65" fill="#2a48ad"/>
<circle cx="202.64" cy="276.32" r="1.65" fill="#2a48ad"/>
<circle cx="203.26" cy="276.2" r="1.65" fill="#2a48ad"/>
<circle cx="203.88" cy="276.07" r="1.65" fill="#2a48ad"/>
<circle cx="204.5" cy="275.94" r="1.65" fill="#2a48ad"/>
<circle cx="205.12" cy="275.81" r="1.65" fill="#2a48ad"/>
<circle cx="205.74" cy="275.69" r="1.65" fill="#2a48ad"/>
<circle cx="206.36" cy="275.56" r="1.65" fill="#2a48ad"/>
<circle cx="206.97" cy="275.43" r="1.65" fill="#2a48ad"/>
<circle cx="207.59" cy="275.17" r="1.65" fill="#2a48ad"/>
<circle cx="208.21" cy="274.6" r="1.65" fill="#2a48ad"/>
<circle cx="208.83" cy="274.03" r="1.65" fill="#2a48ad"/>
<circle cx="209.45" cy="273.46" r="1.65" fill="#2a48ad"/>
<circle cx="210.07" cy="272.89" r="1.65" fill="#2a48ad"/>
<circle cx="210.69" cy="272.35" r="1.65" fill="#2a48ad"/>
<circle cx="211.31" cy="272.14" r="1.65" fill="#2a48ad"/>
<circle cx="211.93" cy="271.94" r="1.65" fill="#2a48ad"/>
<circle cx="212.55" cy="271.73" r="1.65" fill="#2a48ad"/>
<circle cx="213.16" cy="271.53" r="1.65" fill="#2a48ad"/>
<circle cx="213.78" cy="271.32" r="1.65" fill="#2a48ad"/>
<circle cx="214.4" cy="271.11" r="1.65" fill="#2a48ad"/>
<circle cx="215.02" cy="270.91" r="1.65" fill="#2a48ad"/>
<circle cx="215.64" cy="270.7" r="1.65" fill="#2a48ad"/>
<circle cx="216.26" cy="270.5" r="1.65" fill="#2a48ad"/>
<circle cx="216.88" cy="270.29" r="1.65" fill="#2a48ad"/>
<circle cx="217.5" cy="270.09" r="1.65" fill="#2a48ad"/>
<circle cx="218.12" cy="269.88" r="1.65" fill="#2a48ad"/>
<circle cx="218.74" cy="269.67" r="1.65" fill="#2a48ad"/>
<circle cx="219.35" cy="269.47" r="1.65" fill="#2a48ad"/>
<circle cx="219.97" cy="269.26" r="1.65" fill="#2a48ad"/>
<circle cx="220.59" cy="269.06" r="1.65" fill="#2a48ad"/>
<circle cx="221.21" cy="268.64" r="1.65" fill="#2a48ad"/>
<circle cx="221.83" cy="268.16" r="1.65" fill="#2a48ad"/>
<circle cx="222.45" cy="267.69" r="1.65" fill="#2a48ad"/>
<circle cx="223.07" cy="267.22" r="1.65" fill="#2a48ad"/>
<circle cx="223.69" cy="266.75" r="1.65" fill="#2a48ad"/>
<circle cx="224.31" cy="266.28" r="1.65" fill="#2a48ad"/>
<circle cx="224.93" cy="265.97" r="1.65" fill="#2a48ad"/>
<circle cx="225.54" cy="265.82" r="1.65" fill="#2a48ad"/>
<circle cx="226.16" cy="265.67" r="1.65" fill="#2a48ad"/>
<circle cx="226.78" cy="265.51" r="1.65" fill="#2a48ad"/>
<circle cx="227.4" cy="265.36" r="1.65" fill="#2a48ad"/>
<circle cx="228.02" cy="265.21" r="1.65" fill="#2a48ad"/>
<circle cx="228.64" cy="265.06" r="1.65" fill="#2a48ad"/>
<circle cx="229.26" cy="264.91" r="1.65" fill="#2a48ad"/>
<circle cx="229.88" cy="264.76" r="1.65" fill="#2a48ad"/>
<circle cx="230.5" cy="264.61" r="1.65" fill="#2a48ad"/>
<circle cx="231.12" cy="264.38" r="1.65" fill="#2a48ad"/>
<circle cx="231.73" cy="263.94" r="1.65" fill="#2a48ad"/>
<circle cx="232.35" cy="263.51" r="1.65" fill="#2a48ad"/>
<circle cx="232.97" cy="263.08" r="1.65" fill="#2a48ad"/>
<circle cx="233.59" cy="262.65" r="1.65" fill="#2a48ad"/>
<circle cx="234.21" cy="262.21" r="1.65" fill="#2a48ad"/>
<circle cx="234.83" cy="261.78" r="1.65" fill="#2a48ad"/>
<circle cx="235.45" cy="261.35" r="1.65" fill="#2a48ad"/>
<circle cx="236.07" cy="260.91" r="1.65" fill="#2a48ad"/>
<circle cx="236.69" cy="260.46" r="1.65" fill="#2a48ad"/>
<circle cx="237.31" cy="260" r="1.65" fill="#2a48ad"/>
<circle cx="237.92" cy="259.54" r="1.65" fill="#2a48ad"/>
<circle cx="238.54" cy="259.09" r="1.65" fill="#2a48ad"/>
<circle cx="239.16" cy="258.63" r="1.65" fill="#2a48ad"/>
<circle cx="239.78" cy="258.18" r="1.65" fill="#2a48ad"/>
<circle cx="240.4" cy="257.72" r="1.65" fill="#2a48ad"/>
<circle cx="241.02" cy="257.26" r="1.65" fill="#2a48ad"/>
<circle cx="241.64" cy="256.73" r="1.65" fill="#2a48ad"/>
<circle cx="242.26" cy="256.19" r="1.65" fill="#2a48ad"/>
<circle cx="242.88" cy="255.64" r="1.65" fill="#2a48ad"/>
<circle cx="243.5" cy="255.1" r="1.65" fill="#2a48ad"/>
<circle cx="244.11" cy="254.56" r="1.65" fill="#2a48ad"/>
<circle cx="244.73" cy="254.01" r="1.65" fill="#2a48ad"/>
<circle cx="245.35" cy="253.47" r="1.65" fill="#2a48ad"/>
<circle cx="245.97" cy="252.93" r="1.65" fill="#2a48ad"/>
<circle cx="246.59" cy="252.52" r="1.65" fill="#2a48ad"/>
<circle cx="247.21" cy="252.21" r="1.65" fill="#2a48ad"/>
<circle cx="247.83" cy="251.9" r="1.65" fill="#2a48ad"/>
<circle cx="248.45" cy="251.59" r="1.65" fill="#2a48ad"/>
<circle cx="249.07" cy="251.28" r="1.65" fill="#2a48ad"/>
<circle cx="249.69" cy="250.97" r="1.65" fill="#2a48ad"/>
<circle cx="250.3" cy="250.65" r="1.65" fill="#2a48ad"/>
<circle cx="250.92" cy="250.34" r="1.65" fill="#2a48ad"/>
<circle cx="251.54" cy="249.97" r="1.65" fill="#2a48ad"/>
<circle cx="252.16" cy="249.57" r="1.65" fill="#2a48ad"/>
<circle cx="252.78" cy="249.16" r="1.65" fill="#2a48ad"/>
<circle cx="253.4" cy="248.75" r="1.65" fill="#2a48ad"/>
<circle cx="254.02" cy="248.35" r="1.65" fill="#2a48ad"/>
<circle cx="254.64" cy="247.94" r="1.65" fill="#2a48ad"/>
<circle cx="255.26" cy="247.53" r="1.65" fill="#2a48ad"/>
<circle cx="255.88" cy="247.13" r="1.65" fill="#2a48ad"/>
<circle cx="256.49" cy="246.72" r="1.65" fill="#2a48ad"/>
<circle cx="257.11" cy="246.31" r="1.65" fill="#2a48ad"/>
<circle cx="257.73" cy="245.91" r="1.65" fill="#2a48ad"/>
<circle cx="258.35" cy="245.5" r="1.65" fill="#2a48ad"/>
<circle cx="258.97" cy="245.1" r="1.65" fill="#2a48ad"/>
<circle cx="259.59" cy="244.74" r="1.65" fill="#2a48ad"/>
<circle cx="260.21" cy="244.38" r="1.65" fill="#2a48ad"/>
<circle cx="260.83" cy="244.02" r="1.65" fill="#2a48ad"/>
<circle cx="261.45" cy="243.66" r="1.65" fill="#2a48ad"/>
<circle cx="262.06" cy="242.3" r="1.65" fill="#2a48ad"/>
<circle cx="262.68" cy="238.61" r="1.65" fill="#2a48ad"/>
<circle cx="263.3" cy="237.99" r="1.65" fill="#2a48ad"/>
<circle cx="263.92" cy="237.36" r="1.65" fill="#2a48ad"/>
<circle cx="264.54" cy="236.71" r="1.65" fill="#2a48ad"/>
<circle cx="265.16" cy="235.87" r="1.65" fill="#2a48ad"/>
<circle cx="265.78" cy="235.04" r="1.65" fill="#2a48ad"/>
<circle cx="266.4" cy="234.2" r="1.65" fill="#2a48ad"/>
<circle cx="267.02" cy="233.37" r="1.65" fill="#2a48ad"/>
<circle cx="267.64" cy="232.54" r="1.65" fill="#2a48ad"/>
<circle cx="268.25" cy="231.52" r="1.65" fill="#2a48ad"/>
<circle cx="268.87" cy="230.42" r="1.65" fill="#2a48ad"/>
<circle cx="269.49" cy="229.33" r="1.65" fill="#2a48ad"/>
<circle cx="270.11" cy="228.23" r="1.65" fill="#2a48ad"/>
<circle cx="270.73" cy="227.33" r="1.65" fill="#2a48ad"/>
<circle cx="271.35" cy="226.63" r="1.65" fill="#2a48ad"/>
<circle cx="271.97" cy="225.93" r="1.65" fill="#2a48ad"/>
<circle cx="272.59" cy="225.23" r="1.65" fill="#2a48ad"/>
<circle cx="273.21" cy="225.23" r="1.65" fill="#2a48ad"/>
<circle cx="273.83" cy="218.19" r="1.65" fill="#2a48ad"/>
<circle cx="274.44" cy="218.19" r="1.65" fill="#2a48ad"/>
<circle cx="275.06" cy="214.83" r="1.65" fill="#2a48ad"/>
<circle cx="275.68" cy="214.83" r="1.65" fill="#2a48ad"/>
<circle cx="276.3" cy="210.95" r="1.65" fill="#2a48ad"/>
<circle cx="276.92" cy="210.95" r="1.65" fill="#2a48ad"/>
<circle cx="277.54" cy="206.71" r="1.65" fill="#2a48ad"/>
<circle cx="278.16" cy="206.71" r="1.65" fill="#2a48ad"/>
<circle cx="278.78" cy="203.42" r="1.65" fill="#2a48ad"/>
<circle cx="279.4" cy="203.42" r="1.65" fill="#2a48ad"/>
<circle cx="280.02" cy="200.97" r="1.65" fill="#2a48ad"/>
<circle cx="280.63" cy="200.97" r="1.65" fill="#2a48ad"/>
<circle cx="281.25" cy="198.69" r="1.65" fill="#2a48ad"/>
<circle cx="281.87" cy="198.69" r="1.65" fill="#2a48ad"/>
<circle cx="282.49" cy="195.88" r="1.65" fill="#2a48ad"/>
<circle cx="283.11" cy="195.88" r="1.65" fill="#2a48ad"/>
<circle cx="283.73" cy="194.5" r="1.65" fill="#2a48ad"/>
<circle cx="284.35" cy="194.5" r="1.65" fill="#2a48ad"/>
<circle cx="284.97" cy="194.5" r="1.65" fill="#2a48ad"/>
<circle cx="285.59" cy="194.5" r="1.65" fill="#2a48ad"/>
<circle cx="286.21" cy="194.5" r="1.65" fill="#2a48ad"/>
<circle cx="286.82" cy="194.5" r="1.65" fill="#2a48ad"/>
<circle cx="287.44" cy="194.5" r="1.65" fill="#2a48ad"/>
<circle cx="288.06" cy="194.5" r="1.65" fill="#2a48ad"/>
<circle cx="288.68" cy="194.5" r="1.65" fill="#2a48ad"/>
<circle cx="289.3" cy="194.5" r="1.65" fill="#2a48ad"/>
<circle cx="289.92" cy="194.5" r="1.65" fill="#2a48ad"/>
<circle cx="290.54" cy="194.5" r="1.65" fill="#2a48ad"/>
<circle cx="291.16" cy="194.5" r="1.65" fill="#2a48ad"/>
<circle cx="291.78" cy="194.5" r="1.65" fill="#2a48ad"/>
<circle cx="292.4" cy="194.5" r="1.65" fill="#2a48ad"/>
<circle cx="293.01" cy="194.5" r="1.65" fill="#2a48ad"/>
<circle cx="293.63" cy="194.5" r="1.65" fill="#2a48ad"/>
<circle cx="294.25" cy="194.5" r="1.65" fill="#2a48ad"/>
<circle cx="294.87" cy="194.5" r="1.65" fill="#2a48ad"/>
<circle cx="295.49" cy="194.5" r="1.65" fill="#2a48ad"/>
<circle cx="296.11" cy="194.5" r="1.65" fill="#2a48ad"/>
<circle cx="296.73" cy="194.5" r="1.65" fill="#2a48ad"/>
<circle cx="297.35" cy="194.5" r="1.65" fill="#2a48ad"/>
<circle cx="297.97" cy="194.5" r="1.65" fill="#2a48ad"/>
<circle cx="298.59" cy="194.5" r="1.65" fill="#2a48ad"/>
<circle cx="299.2" cy="194.5" r="1.65" fill="#2a48ad"/>
<circle cx="299.82" cy="194.5" r="1.65" fill="#2a48ad"/>
<circle cx="300.44" cy="194.5" r="1.65" fill="#2a48ad"/>
<circle cx="301.06" cy="194.5" r="1.65" fill="#2a48ad"/>
<circle cx="301.68" cy="194.5" r="1.65" fill="#2a48ad"/>
<circle cx="302.3" cy="194.5" r="1.65" fill="#2a48ad"/>
<circle cx="302.92" cy="194.5" r="1.65" fill="#2a48ad"/>
<circle cx="303.54" cy="194.5" r="1.65" fill="#2a48ad"/>
<circle cx="304.16" cy="194.5" r="1.65" fill="#2a48ad"/>
<circle cx="304.78" cy="194.5" r="1.65" fill="#2a48ad"/>
<circle cx="305.39" cy="194.5" r="1.65" fill="#2a48ad"/>
<circle cx="306.01" cy="194.5" r="1.65" fill="#2a48ad"/>
<circle cx="306.63" cy="194.5" r="1.65" fill="#2a48ad"/>
<circle cx="307.25" cy="194.5" r="1.65" fill="#2a48ad"/>
<circle cx="307.87" cy="194.5" r="1.65" fill="#2a48ad"/>
<circle cx="308.49" cy="194.5" r="1.65" fill="#2a48ad"/>
<circle cx="309.11" cy="194.5" r="1.65" fill="#2a48ad"/>
<circle cx="309.73" cy="194.5" r="1.65" fill="#2a48ad"/>
<circle cx="310.35" cy="194.5" r="1.65" fill="#2a48ad"/>
<rect x="45.4" y="191" width="275" height="103.2" fill="none" stroke="#5a5a5a" stroke-width="1"/>
<line x1="54.7" y1="294.2" x2="54.7" y2="299.5" stroke="#5a5a5a"/>
<text x="54.7" y="311.6" text-anchor="middle" font-size="8.4">0</text>
<line x1="116.6" y1="294.2" x2="116.6" y2="299.5" stroke="#5a5a5a"/>
<text x="116.6" y="311.6" text-anchor="middle" font-size="8.4">100</text>
<line x1="178.5" y1="294.2" x2="178.5" y2="299.5" stroke="#5a5a5a"/>
<text x="178.5" y="311.6" text-anchor="middle" font-size="8.4">200</text>
<line x1="240.4" y1="294.2" x2="240.4" y2="299.5" stroke="#5a5a5a"/>
<text x="240.4" y="311.6" text-anchor="middle" font-size="8.4">300</text>
<line x1="302.3" y1="294.2" x2="302.3" y2="299.5" stroke="#5a5a5a"/>
<text x="302.3" y="311.6" text-anchor="middle" font-size="8.4">400</text>
<line x1="40" y1="290.4" x2="45.4" y2="290.4" stroke="#5a5a5a"/>
<text transform="translate(34.1 290.4) rotate(-90)" text-anchor="middle" font-size="8.4">0</text>
<line x1="40" y1="271.22" x2="45.4" y2="271.22" stroke="#5a5a5a"/>
<text transform="translate(34.1 271.22) rotate(-90)" text-anchor="middle" font-size="8.4">2</text>
<line x1="40" y1="252.04" x2="45.4" y2="252.04" stroke="#5a5a5a"/>
<text transform="translate(34.1 252.04) rotate(-90)" text-anchor="middle" font-size="8.4">4</text>
<line x1="40" y1="232.86" x2="45.4" y2="232.86" stroke="#5a5a5a"/>
<text transform="translate(34.1 232.86) rotate(-90)" text-anchor="middle" font-size="8.4">6</text>
<line x1="40" y1="213.68" x2="45.4" y2="213.68" stroke="#5a5a5a"/>
<text transform="translate(34.1 213.68) rotate(-90)" text-anchor="middle" font-size="8.4">8</text>
<line x1="40" y1="194.5" x2="45.4" y2="194.5" stroke="#5a5a5a"/>
<text transform="translate(34.1 194.5) rotate(-90)" text-anchor="middle" font-size="8.4">10</text>
<text x="182.9" y="331.2" text-anchor="middle" font-size="8.0">Patients (increasing risk socre)</text>
<text transform="translate(14.5 242.6) rotate(-90)" text-anchor="middle" font-size="8.0">Risk score</text>
<text x="21.2" y="182.9" font-family="Liberation Serif, serif" font-size="12" fill="#555">C</text>
<circle cx="53.8" cy="202.7" r="2.3" fill="#2a48ad"/>
<circle cx="53.8" cy="213.8" r="2.3" fill="#a4491f"/>
<text x="62.8" y="206" font-size="9.2">High risk</text>
<text x="62.8" y="217.1" font-size="9.2">Low Risk</text>
<line x1="529.5" y1="9.5" x2="529.5" y2="112.3" stroke="#444" stroke-width="1.0" stroke-dasharray="2 2" stroke-dashoffset="2"/>
<circle cx="402.46" cy="96.56" r="2.1" fill="#a4491f"/>
<circle cx="405.37" cy="105.92" r="2.1" fill="#a4491f"/>
<circle cx="402.99" cy="103.88" r="2.1" fill="#a4491f"/>
<circle cx="404.56" cy="100.74" r="2.1" fill="#a4491f"/>
<circle cx="406.65" cy="107.86" r="2.1" fill="#a4491f"/>
<circle cx="407.7" cy="89.75" r="2.1" fill="#a4491f"/>
<circle cx="405.6" cy="105.45" r="2.1" fill="#a4491f"/>
<circle cx="409.26" cy="99.7" r="2.1" fill="#a4491f"/>
<circle cx="408.22" cy="97.08" r="2.1" fill="#a4491f"/>
<circle cx="410.03" cy="107.97" r="2.1" fill="#a4491f"/>
<circle cx="407.49" cy="92.16" r="2.1" fill="#a4491f"/>
<circle cx="411.36" cy="102.31" r="2.1" fill="#a4491f"/>
<circle cx="410.83" cy="96.03" r="2.1" fill="#a4491f"/>
<circle cx="413.7" cy="80.7" r="2.1" fill="#a4491f"/>
<circle cx="417.11" cy="105.45" r="2.1" fill="#a4491f"/>
<circle cx="413.31" cy="106.63" r="2.1" fill="#2a48ad"/>
<circle cx="416.07" cy="108.07" r="2.1" fill="#a4491f"/>
<circle cx="412.93" cy="97.6" r="2.1" fill="#a4491f"/>
<circle cx="413.97" cy="100.74" r="2.1" fill="#a4491f"/>
<circle cx="418.68" cy="99.17" r="2.1" fill="#a4491f"/>
<circle cx="413.97" cy="104.4" r="2.1" fill="#a4491f"/>
<circle cx="418.39" cy="106.17" r="2.1" fill="#a4491f"/>
<circle cx="419.8" cy="82.7" r="2.1" fill="#a4491f"/>
<circle cx="417.8" cy="83.2" r="2.1" fill="#a4491f"/>
<circle cx="416.59" cy="99.7" r="2.1" fill="#a4491f"/>
<circle cx="421.3" cy="104.4" r="2.1" fill="#a4491f"/>
<circle cx="417.64" cy="86.62" r="2.1" fill="#a4491f"/>
<circle cx="423.39" cy="102.31" r="2.1" fill="#a4491f"/>
<circle cx="420.77" cy="94.46" r="2.1" fill="#a4491f"/>
<circle cx="419.73" cy="88.19" r="2.1" fill="#a4491f"/>
<circle cx="423.39" cy="87.14" r="2.1" fill="#a4491f"/>
<circle cx="425.48" cy="99.7" r="2.1" fill="#a4491f"/>
<circle cx="422.3" cy="72.4" r="2.1" fill="#a4491f"/>
<circle cx="427.05" cy="97.08" r="2.1" fill="#a4491f"/>
<circle cx="428.7" cy="80.1" r="2.1" fill="#a4491f"/>
<circle cx="426.53" cy="104.4" r="2.1" fill="#a4491f"/>
<circle cx="425.48" cy="91.32" r="2.1" fill="#a4491f"/>
<circle cx="429.15" cy="98.65" r="2.1" fill="#a4491f"/>
<circle cx="430.72" cy="104.4" r="2.1" fill="#a4491f"/>
<circle cx="429.15" cy="88.19" r="2.1" fill="#a4491f"/>
<circle cx="433.85" cy="102.83" r="2.1" fill="#a4491f"/>
<circle cx="429.67" cy="100.74" r="2.1" fill="#a4491f"/>
<circle cx="432.81" cy="107.86" r="2.1" fill="#a4491f"/>
<circle cx="434.7" cy="79" r="2.1" fill="#a4491f"/>
<circle cx="431.24" cy="92.16" r="2.1" fill="#2a48ad"/>
<circle cx="432.8" cy="83.2" r="2.1" fill="#a4491f"/>
<circle cx="438.04" cy="108.07" r="2.1" fill="#a4491f"/>
<circle cx="440.13" cy="90.28" r="2.1" fill="#a4491f"/>
<circle cx="436.47" cy="93.94" r="2.1" fill="#2a48ad"/>
<circle cx="435.95" cy="104.93" r="2.1" fill="#a4491f"/>
<circle cx="439.09" cy="96.56" r="2.1" fill="#a4491f"/>
<circle cx="443.27" cy="105.97" r="2.1" fill="#a4491f"/>
<circle cx="439" cy="82.3" r="2.1" fill="#a4491f"/>
<circle cx="442.22" cy="98.65" r="2.1" fill="#a4491f"/>
<circle cx="441.18" cy="94.46" r="2.1" fill="#a4491f"/>
<circle cx="440.56" cy="106.57" r="2.1" fill="#a4491f"/>
<circle cx="441.9" cy="58.8" r="2.1" fill="#a4491f"/>
<circle cx="446.41" cy="99.7" r="2.1" fill="#a4491f"/>
<circle cx="444.32" cy="95.51" r="2.1" fill="#a4491f"/>
<circle cx="444.32" cy="102.83" r="2.1" fill="#a4491f"/>
<circle cx="448.5" cy="97.08" r="2.1" fill="#a4491f"/>
<circle cx="447.46" cy="104.93" r="2.1" fill="#a4491f"/>
<circle cx="450.6" cy="107.02" r="2.1" fill="#a4491f"/>
<circle cx="452.69" cy="100.74" r="2.1" fill="#a4491f"/>
<circle cx="448.7" cy="66" r="2.1" fill="#a4491f"/>
<circle cx="453.73" cy="94.46" r="2.1" fill="#a4491f"/>
<circle cx="450.6" cy="102.83" r="2.1" fill="#a4491f"/>
<circle cx="451.12" cy="89.23" r="2.1" fill="#a4491f"/>
<circle cx="458" cy="78.6" r="2.1" fill="#a4491f"/>
<circle cx="454.78" cy="99.7" r="2.1" fill="#a4491f"/>
<circle cx="457.55" cy="105.51" r="2.1" fill="#a4491f"/>
<circle cx="456.87" cy="88.19" r="2.1" fill="#a4491f"/>
<circle cx="454.9" cy="81.7" r="2.1" fill="#a4491f"/>
<circle cx="458.97" cy="92.37" r="2.1" fill="#a4491f"/>
<circle cx="454.78" cy="107.54" r="2.1" fill="#a4491f"/>
<circle cx="461.1" cy="84.8" r="2.1" fill="#a4491f"/>
<circle cx="456.87" cy="103.88" r="2.1" fill="#a4491f"/>
<circle cx="458.97" cy="105.45" r="2.1" fill="#a4491f"/>
<circle cx="462.1" cy="81.7" r="2.1" fill="#a4491f"/>
<circle cx="463.2" cy="72.8" r="2.1" fill="#a4491f"/>
<circle cx="463.05" cy="101.79" r="2.1" fill="#a4491f"/>
<circle cx="460.01" cy="97.6" r="2.1" fill="#a4491f"/>
<circle cx="461.99" cy="105.41" r="2.1" fill="#a4491f"/>
<circle cx="466.19" cy="104.93" r="2.1" fill="#a4491f"/>
<circle cx="465.66" cy="108.07" r="2.1" fill="#a4491f"/>
<circle cx="464.6" cy="72.8" r="2.1" fill="#a4491f"/>
<circle cx="462.92" cy="106.86" r="2.1" fill="#a4491f"/>
<circle cx="464.2" cy="82.7" r="2.1" fill="#a4491f"/>
<circle cx="470" cy="81.7" r="2.1" fill="#a4491f"/>
<circle cx="468.28" cy="90.8" r="2.1" fill="#a4491f"/>
<circle cx="466.71" cy="87.14" r="2.1" fill="#a4491f"/>
<circle cx="467.9" cy="57.8" r="2.1" fill="#a4491f"/>
<circle cx="468.8" cy="95.51" r="2.1" fill="#a4491f"/>
<circle cx="470.37" cy="92.37" r="2.1" fill="#a4491f"/>
<circle cx="469.32" cy="103.36" r="2.1" fill="#a4491f"/>
<circle cx="473.5" cy="80.1" r="2.1" fill="#a4491f"/>
<circle cx="473.51" cy="102.31" r="2.1" fill="#a4491f"/>
<circle cx="471.42" cy="104.93" r="2.1" fill="#a4491f"/>
<circle cx="475.6" cy="91.32" r="2.1" fill="#a4491f"/>
<circle cx="472.4" cy="83.2" r="2.1" fill="#a4491f"/>
<circle cx="477.24" cy="106.14" r="2.1" fill="#a4491f"/>
<circle cx="475.08" cy="105.97" r="2.1" fill="#a4491f"/>
<circle cx="476.65" cy="92.16" r="2.1" fill="#2a48ad"/>
<circle cx="479.12" cy="108.5" r="2.1" fill="#a4491f"/>
<circle cx="478.74" cy="91.32" r="2.1" fill="#a4491f"/>
<circle cx="477.7" cy="102.83" r="2.1" fill="#a4491f"/>
<circle cx="481.28" cy="108.35" r="2.1" fill="#a4491f"/>
<circle cx="480.83" cy="96.56" r="2.1" fill="#a4491f"/>
<circle cx="479.79" cy="104.93" r="2.1" fill="#a4491f"/>
<circle cx="483.97" cy="94.99" r="2.1" fill="#a4491f"/>
<circle cx="482.93" cy="92.37" r="2.1" fill="#a4491f"/>
<circle cx="481.88" cy="100.74" r="2.1" fill="#a4491f"/>
<circle cx="481.9" cy="69.1" r="2.1" fill="#a4491f"/>
<circle cx="486.9" cy="83.8" r="2.1" fill="#a4491f"/>
<circle cx="483.97" cy="103.36" r="2.1" fill="#a4491f"/>
<circle cx="487.11" cy="101.79" r="2.1" fill="#a4491f"/>
<circle cx="486.07" cy="86.09" r="2.1" fill="#a4491f"/>
<circle cx="488.16" cy="89.75" r="2.1" fill="#a4491f"/>
<circle cx="486.07" cy="96.56" r="2.1" fill="#a4491f"/>
<circle cx="492.34" cy="93.21" r="2.1" fill="#2a48ad"/>
<circle cx="487.11" cy="88.19" r="2.1" fill="#a4491f"/>
<circle cx="491.3" cy="98.65" r="2.1" fill="#a4491f"/>
<circle cx="490.25" cy="107.02" r="2.1" fill="#a4491f"/>
<circle cx="489.21" cy="103.88" r="2.1" fill="#a4491f"/>
<circle cx="489.21" cy="99.7" r="2.1" fill="#2a48ad"/>
<circle cx="493.39" cy="97.6" r="2.1" fill="#a4491f"/>
<circle cx="491.4" cy="74.9" r="2.1" fill="#a4491f"/>
<circle cx="493.39" cy="102.31" r="2.1" fill="#a4491f"/>
<circle cx="495.8" cy="52.8" r="2.1" fill="#a4491f"/>
<circle cx="498.2" cy="83.2" r="2.1" fill="#a4491f"/>
<circle cx="496.2" cy="71.8" r="2.1" fill="#a4491f"/>
<circle cx="495.48" cy="99.7" r="2.1" fill="#a4491f"/>
<circle cx="495.1" cy="82.1" r="2.1" fill="#a4491f"/>
<circle cx="498.62" cy="105.45" r="2.1" fill="#2a48ad"/>
<circle cx="499.67" cy="100.74" r="2.1" fill="#a4491f"/>
<circle cx="497.58" cy="98.65" r="2.1" fill="#a4491f"/>
<circle cx="497.6" cy="78" r="2.1" fill="#a4491f"/>
<circle cx="500.78" cy="107.48" r="2.1" fill="#a4491f"/>
<circle cx="505.4" cy="74.9" r="2.1" fill="#a4491f"/>
<circle cx="500.72" cy="103.88" r="2.1" fill="#a4491f"/>
<circle cx="501.76" cy="88.71" r="2.1" fill="#a4491f"/>
<circle cx="502.81" cy="104.93" r="2.1" fill="#a4491f"/>
<circle cx="506.99" cy="105.97" r="2.1" fill="#a4491f"/>
<circle cx="503.85" cy="92.37" r="2.1" fill="#a4491f"/>
<circle cx="504.9" cy="108.07" r="2.1" fill="#a4491f"/>
<circle cx="509.09" cy="103.88" r="2.1" fill="#a4491f"/>
<circle cx="508.04" cy="97.6" r="2.1" fill="#a4491f"/>
<circle cx="508.1" cy="63.6" r="2.1" fill="#a4491f"/>
<circle cx="511.18" cy="105.97" r="2.1" fill="#a4491f"/>
<circle cx="508.04" cy="88.19" r="2.1" fill="#a4491f"/>
<circle cx="511.18" cy="88.71" r="2.1" fill="#a4491f"/>
<circle cx="511.7" cy="96.35" r="2.1" fill="#2a48ad"/>
<circle cx="511.18" cy="99.7" r="2.1" fill="#a4491f"/>
<circle cx="514.32" cy="101.79" r="2.1" fill="#a4491f"/>
<circle cx="513.27" cy="88.19" r="2.1" fill="#a4491f"/>
<circle cx="516.41" cy="105.97" r="2.1" fill="#a4491f"/>
<circle cx="513.7" cy="83.8" r="2.1" fill="#a4491f"/>
<circle cx="516.41" cy="100.74" r="2.1" fill="#a4491f"/>
<circle cx="516.41" cy="95.51" r="2.1" fill="#a4491f"/>
<circle cx="518.5" cy="92.37" r="2.1" fill="#a4491f"/>
<circle cx="523.02" cy="106.3" r="2.1" fill="#a4491f"/>
<circle cx="518.5" cy="97.6" r="2.1" fill="#a4491f"/>
<circle cx="520.07" cy="107.54" r="2.1" fill="#2a48ad"/>
<circle cx="520.6" cy="94.46" r="2.1" fill="#a4491f"/>
<circle cx="522.69" cy="96.56" r="2.1" fill="#a4491f"/>
<circle cx="523.6" cy="71.8" r="2.1" fill="#a4491f"/>
<circle cx="526.87" cy="95.51" r="2.1" fill="#a4491f"/>
<circle cx="524.78" cy="99.7" r="2.1" fill="#a4491f"/>
<circle cx="523.73" cy="104.93" r="2.1" fill="#a4491f"/>
<circle cx="526.7" cy="84.8" r="2.1" fill="#2a48ad"/>
<circle cx="529.2" cy="66.7" r="2.1" fill="#a4491f"/>
<circle cx="528.97" cy="86.09" r="2.1" fill="#a4491f"/>
<circle cx="528.97" cy="92.37" r="2.1" fill="#a4491f"/>
<circle cx="533.05" cy="103.88" r="2.1" fill="#a4491f"/>
<circle cx="532" cy="97.6" r="2.1" fill="#a4491f"/>
<circle cx="533.05" cy="91.53" r="2.1" fill="#2a48ad"/>
<circle cx="535.14" cy="104.93" r="2.1" fill="#a4491f"/>
<circle cx="537.8" cy="83.2" r="2.1" fill="#a4491f"/>
<circle cx="536.19" cy="96.56" r="2.1" fill="#a4491f"/>
<circle cx="536.19" cy="89.75" r="2.1" fill="#a4491f"/>
<circle cx="535.93" cy="106.23" r="2.1" fill="#a4491f"/>
<circle cx="538.3" cy="80.5" r="2.1" fill="#2a48ad"/>
<circle cx="539.3" cy="64.2" r="2.1" fill="#a4491f"/>
<circle cx="538.8" cy="108.07" r="2.1" fill="#a4491f"/>
<circle cx="539.85" cy="90.28" r="2.1" fill="#2a48ad"/>
<circle cx="541.42" cy="97.6" r="2.1" fill="#a4491f"/>
<circle cx="540.37" cy="100.74" r="2.1" fill="#a4491f"/>
<circle cx="542.46" cy="102.83" r="2.1" fill="#2a48ad"/>
<circle cx="541.42" cy="89.75" r="2.1" fill="#a4491f"/>
<circle cx="544.4" cy="83.2" r="2.1" fill="#a4491f"/>
<circle cx="545.1" cy="63.2" r="2.1" fill="#a4491f"/>
<circle cx="543.4" cy="65.6" r="2.1" fill="#a4491f"/>
<circle cx="547.7" cy="105.97" r="2.1" fill="#a4491f"/>
<circle cx="546.9" cy="68.1" r="2.1" fill="#2a48ad"/>
<circle cx="548.82" cy="107.69" r="2.1" fill="#2a48ad"/>
<circle cx="545.6" cy="99.17" r="2.1" fill="#a4491f"/>
<circle cx="546.5" cy="83.8" r="2.1" fill="#a4491f"/>
<circle cx="549.79" cy="107.54" r="2.1" fill="#2a48ad"/>
<circle cx="547.7" cy="96.56" r="2.1" fill="#a4491f"/>
<circle cx="552.93" cy="90.28" r="2.1" fill="#a4491f"/>
<circle cx="548.74" cy="90.49" r="2.1" fill="#2a48ad"/>
<circle cx="551.7" cy="83.2" r="2.1" fill="#a4491f"/>
<circle cx="551" cy="72.2" r="2.1" fill="#a4491f"/>
<circle cx="555.02" cy="97.6" r="2.1" fill="#a4491f"/>
<circle cx="549.6" cy="71.8" r="2.1" fill="#a4491f"/>
<circle cx="551.57" cy="105.71" r="2.1" fill="#a4491f"/>
<circle cx="551.88" cy="105.97" r="2.1" fill="#a4491f"/>
<circle cx="556.6" cy="106.6" r="2.1" fill="#2a48ad"/>
<circle cx="552.93" cy="97.08" r="2.1" fill="#a4491f"/>
<circle cx="557.11" cy="102.31" r="2.1" fill="#a4491f"/>
<circle cx="553.97" cy="87.14" r="2.1" fill="#a4491f"/>
<circle cx="555.8" cy="82.5" r="2.1" fill="#a4491f"/>
<circle cx="555.02" cy="104.93" r="2.1" fill="#a4491f"/>
<circle cx="557.64" cy="95.51" r="2.1" fill="#2a48ad"/>
<circle cx="556.07" cy="86.09" r="2.1" fill="#a4491f"/>
<circle cx="559.21" cy="99.7" r="2.1" fill="#a4491f"/>
<circle cx="562.34" cy="98.65" r="2.1" fill="#a4491f"/>
<circle cx="560.9" cy="80.1" r="2.1" fill="#a4491f"/>
<circle cx="563.39" cy="100.74" r="2.1" fill="#a4491f"/>
<circle cx="564.44" cy="108.07" r="2.1" fill="#a4491f"/>
<circle cx="565.48" cy="97.08" r="2.1" fill="#a4491f"/>
<circle cx="562.42" cy="107.64" r="2.1" fill="#a4491f"/>
<circle cx="561.82" cy="94.25" r="2.1" fill="#2a48ad"/>
<circle cx="563" cy="82.1" r="2.1" fill="#a4491f"/>
<circle cx="566.53" cy="107.02" r="2.1" fill="#a4491f"/>
<circle cx="565.48" cy="105.97" r="2.1" fill="#2a48ad"/>
<circle cx="565.1" cy="74.5" r="2.1" fill="#a4491f"/>
<circle cx="568.8" cy="76.4" r="2.1" fill="#a4491f"/>
<circle cx="567.58" cy="100.74" r="2.1" fill="#a4491f"/>
<circle cx="568.62" cy="103.36" r="2.1" fill="#a4491f"/>
<circle cx="570.72" cy="94.99" r="2.1" fill="#2a48ad"/>
<circle cx="569.67" cy="107.02" r="2.1" fill="#a4491f"/>
<circle cx="571.76" cy="105.97" r="2.1" fill="#a4491f"/>
<circle cx="570.72" cy="97.6" r="2.1" fill="#a4491f"/>
<circle cx="572.81" cy="108.07" r="2.1" fill="#a4491f"/>
<circle cx="576.4" cy="79" r="2.1" fill="#2a48ad"/>
<circle cx="574.9" cy="93.94" r="2.1" fill="#2a48ad"/>
<circle cx="577.4" cy="85.2" r="2.1" fill="#a4491f"/>
<circle cx="573.85" cy="108.08" r="2.1" fill="#a4491f"/>
<circle cx="576.99" cy="86.09" r="2.1" fill="#a4491f"/>
<circle cx="574.38" cy="98.65" r="2.1" fill="#2a48ad"/>
<circle cx="577.9" cy="82.1" r="2.1" fill="#2a48ad"/>
<circle cx="581.18" cy="96.56" r="2.1" fill="#a4491f"/>
<circle cx="580.13" cy="102.83" r="2.1" fill="#a4491f"/>
<circle cx="578.04" cy="95.51" r="2.1" fill="#a4491f"/>
<circle cx="581.18" cy="108.07" r="2.1" fill="#a4491f"/>
<circle cx="582.22" cy="104.93" r="2.1" fill="#a4491f"/>
<circle cx="584.32" cy="88.19" r="2.1" fill="#a4491f"/>
<circle cx="584.82" cy="105.65" r="2.1" fill="#2a48ad"/>
<circle cx="583.27" cy="99.7" r="2.1" fill="#a4491f"/>
<circle cx="585.36" cy="100.22" r="2.1" fill="#2a48ad"/>
<circle cx="585.92" cy="107.54" r="2.1" fill="#a4491f"/>
<circle cx="584.74" cy="107.92" r="2.1" fill="#a4491f"/>
<circle cx="586.41" cy="101.79" r="2.1" fill="#a4491f"/>
<circle cx="587.46" cy="92.37" r="2.1" fill="#a4491f"/>
<circle cx="589.55" cy="93.42" r="2.1" fill="#a4491f"/>
<circle cx="584.7" cy="67.1" r="2.1" fill="#a4491f"/>
<circle cx="586.7" cy="75.3" r="2.1" fill="#a4491f"/>
<circle cx="590.6" cy="98.65" r="2.1" fill="#a4491f"/>
<circle cx="586.41" cy="89.23" r="2.1" fill="#a4491f"/>
<circle cx="589.55" cy="104.93" r="2.1" fill="#a4491f"/>
<circle cx="590.07" cy="108.07" r="2.1" fill="#2a48ad"/>
<circle cx="595" cy="83.2" r="2.1" fill="#a4491f"/>
<circle cx="592.17" cy="100.74" r="2.1" fill="#2a48ad"/>
<circle cx="591.5" cy="82.5" r="2.1" fill="#a4491f"/>
<circle cx="593.73" cy="96.56" r="2.1" fill="#a4491f"/>
<circle cx="596.87" cy="107.02" r="2.1" fill="#a4491f"/>
<circle cx="593.73" cy="104.93" r="2.1" fill="#a4491f"/>
<circle cx="594.78" cy="101.79" r="2.1" fill="#a4491f"/>
<circle cx="599.05" cy="107.02" r="2.1" fill="#a4491f"/>
<circle cx="597.4" cy="101.79" r="2.1" fill="#2a48ad"/>
<circle cx="598.52" cy="101.79" r="2.1" fill="#2a48ad"/>
<circle cx="598.1" cy="82.1" r="2.1" fill="#a4491f"/>
<circle cx="599.05" cy="95.51" r="2.1" fill="#a4491f"/>
<circle cx="598.97" cy="105.97" r="2.1" fill="#a4491f"/>
<circle cx="600.01" cy="97.6" r="2.1" fill="#a4491f"/>
<circle cx="601.14" cy="98.65" r="2.1" fill="#a4491f"/>
<circle cx="603.75" cy="87.14" r="2.1" fill="#a4491f"/>
<circle cx="600.1" cy="80.5" r="2.1" fill="#a4491f"/>
<circle cx="601.8" cy="65.6" r="2.1" fill="#2a48ad"/>
<circle cx="600.62" cy="100.74" r="2.1" fill="#a4491f"/>
<circle cx="605.85" cy="92.89" r="2.1" fill="#2a48ad"/>
<circle cx="606.7" cy="82.1" r="2.1" fill="#a4491f"/>
<circle cx="602.6" cy="68.7" r="2.1" fill="#a4491f"/>
<circle cx="602.71" cy="105.97" r="2.1" fill="#a4491f"/>
<circle cx="604.28" cy="93.94" r="2.1" fill="#a4491f"/>
<circle cx="609.4" cy="72.4" r="2.1" fill="#a4491f"/>
<circle cx="606.95" cy="107.29" r="2.1" fill="#2a48ad"/>
<circle cx="607.42" cy="95.51" r="2.1" fill="#a4491f"/>
<circle cx="605.85" cy="107.54" r="2.1" fill="#a4491f"/>
<circle cx="608.46" cy="108.07" r="2.1" fill="#a4491f"/>
<circle cx="610.03" cy="98.65" r="2.1" fill="#2a48ad"/>
<circle cx="607.03" cy="107.18" r="2.1" fill="#a4491f"/>
<circle cx="611.6" cy="107.54" r="2.1" fill="#a4491f"/>
<circle cx="611.08" cy="92.37" r="2.1" fill="#a4491f"/>
<circle cx="612.5" cy="74.3" r="2.1" fill="#a4491f"/>
<circle cx="613.7" cy="100.74" r="2.1" fill="#a4491f"/>
<circle cx="612.5" cy="65" r="2.1" fill="#a4491f"/>
<circle cx="614.22" cy="106.5" r="2.1" fill="#2a48ad"/>
<circle cx="615.26" cy="103.36" r="2.1" fill="#a4491f"/>
<circle cx="612.1" cy="78" r="2.1" fill="#a4491f"/>
<circle cx="616.13" cy="107.08" r="2.1" fill="#a4491f"/>
<circle cx="617.7" cy="83.2" r="2.1" fill="#a4491f"/>
<circle cx="617.36" cy="99.7" r="2.1" fill="#2a48ad"/>
<circle cx="620.61" cy="105.43" r="2.1" fill="#2a48ad"/>
<circle cx="615.79" cy="92.37" r="2.1" fill="#a4491f"/>
<circle cx="620.8" cy="70.8" r="2.1" fill="#a4491f"/>
<circle cx="616.31" cy="107.54" r="2.1" fill="#a4491f"/>
<circle cx="618.93" cy="94.99" r="2.1" fill="#2a48ad"/>
<circle cx="618.93" cy="99.7" r="2.1" fill="#a4491f"/>
<circle cx="621.02" cy="107.54" r="2.1" fill="#a4491f"/>
<circle cx="620.5" cy="102.83" r="2.1" fill="#2a48ad"/>
<circle cx="620.5" cy="101.26" r="2.1" fill="#a4491f"/>
<circle cx="622.4" cy="73.9" r="2.1" fill="#a4491f"/>
<circle cx="619.45" cy="88.19" r="2.1" fill="#2a48ad"/>
<circle cx="624.16" cy="103.88" r="2.1" fill="#a4491f"/>
<circle cx="623.11" cy="98.65" r="2.1" fill="#2a48ad"/>
<circle cx="625.3" cy="84.2" r="2.1" fill="#a4491f"/>
<circle cx="623.11" cy="105.97" r="2.1" fill="#a4491f"/>
<circle cx="625.21" cy="100.74" r="2.1" fill="#2a48ad"/>
<circle cx="626.9" cy="85.8" r="2.1" fill="#a4491f"/>
<circle cx="624.5" cy="82.1" r="2.1" fill="#a4491f"/>
<circle cx="627.3" cy="106.5" r="2.1" fill="#a4491f"/>
<circle cx="626.25" cy="86.09" r="2.1" fill="#a4491f"/>
<circle cx="626.99" cy="108.29" r="2.1" fill="#2a48ad"/>
<circle cx="626.25" cy="101.79" r="2.1" fill="#a4491f"/>
<circle cx="629" cy="63.2" r="2.1" fill="#a4491f"/>
<circle cx="629.91" cy="97.6" r="2.1" fill="#a4491f"/>
<circle cx="630.44" cy="88.19" r="2.1" fill="#a4491f"/>
<circle cx="632.53" cy="108.07" r="2.1" fill="#2a48ad"/>
<circle cx="631.48" cy="90.28" r="2.1" fill="#a4491f"/>
<circle cx="628.34" cy="99.7" r="2.1" fill="#a4491f"/>
<circle cx="629.39" cy="107.54" r="2.1" fill="#a4491f"/>
<circle cx="637.24" cy="102.31" r="2.1" fill="#2a48ad"/>
<circle cx="633.58" cy="107.54" r="2.1" fill="#a4491f"/>
<circle cx="632.53" cy="91.85" r="2.1" fill="#a4491f"/>
<circle cx="635.67" cy="97.6" r="2.1" fill="#a4491f"/>
<circle cx="634.1" cy="102.83" r="2.1" fill="#2a48ad"/>
<circle cx="637.76" cy="108.07" r="2.1" fill="#a4491f"/>
<circle cx="635.67" cy="94.99" r="2.1" fill="#2a48ad"/>
<circle cx="639.85" cy="86.09" r="2.1" fill="#2a48ad"/>
<circle cx="638.28" cy="88.19" r="2.1" fill="#a4491f"/>
<circle cx="637.76" cy="107.54" r="2.1" fill="#2a48ad"/>
<circle cx="639.7" cy="84.6" r="2.1" fill="#2a48ad"/>
<circle cx="639.81" cy="105.86" r="2.1" fill="#a4491f"/>
<circle cx="642.99" cy="101.79" r="2.1" fill="#a4491f"/>
<circle cx="640.38" cy="97.08" r="2.1" fill="#2a48ad"/>
<circle cx="641.95" cy="107.02" r="2.1" fill="#a4491f"/>
<circle cx="640.9" cy="105.97" r="2.1" fill="#2a48ad"/>
<circle cx="644.04" cy="104.93" r="2.1" fill="#2a48ad"/>
<circle cx="639.85" cy="108.07" r="2.1" fill="#2a48ad"/>
<circle cx="645.61" cy="97.08" r="2.1" fill="#2a48ad"/>
<circle cx="641.42" cy="91.32" r="2.1" fill="#2a48ad"/>
<circle cx="645.09" cy="89.23" r="2.1" fill="#a4491f"/>
<circle cx="646.13" cy="108.07" r="2.1" fill="#2a48ad"/>
<circle cx="648.95" cy="105.7" r="2.1" fill="#a4491f"/>
<circle cx="647.18" cy="103.36" r="2.1" fill="#a4491f"/>
<circle cx="647.7" cy="105.97" r="2.1" fill="#2a48ad"/>
<circle cx="648.75" cy="100.22" r="2.1" fill="#2a48ad"/>
<circle cx="653.46" cy="104.93" r="2.1" fill="#2a48ad"/>
<circle cx="650.32" cy="103.88" r="2.1" fill="#2a48ad"/>
<circle cx="653.04" cy="106.98" r="2.1" fill="#a4491f"/>
<circle cx="654.5" cy="108.07" r="2.1" fill="#2a48ad"/>
<circle cx="650.32" cy="108.59" r="2.1" fill="#2a48ad"/>
<circle cx="652.41" cy="100.74" r="2.1" fill="#2a48ad"/>
<circle cx="656.6" cy="105.97" r="2.1" fill="#2a48ad"/>
<circle cx="657.64" cy="108.07" r="2.1" fill="#2a48ad"/>
<circle cx="655.55" cy="101.79" r="2.1" fill="#2a48ad"/>
<rect x="392.3" y="9.5" width="275.1" height="102.8" fill="none" stroke="#5a5a5a" stroke-width="1"/>
<line x1="401.6" y1="112.3" x2="401.6" y2="117.6" stroke="#5a5a5a"/>
<text x="401.6" y="129.7" text-anchor="middle" font-size="8.4">0</text>
<line x1="463.63" y1="112.3" x2="463.63" y2="117.6" stroke="#5a5a5a"/>
<text x="463.63" y="129.7" text-anchor="middle" font-size="8.4">100</text>
<line x1="525.66" y1="112.3" x2="525.66" y2="117.6" stroke="#5a5a5a"/>
<text x="525.66" y="129.7" text-anchor="middle" font-size="8.4">200</text>
<line x1="587.69" y1="112.3" x2="587.69" y2="117.6" stroke="#5a5a5a"/>
<text x="587.69" y="129.7" text-anchor="middle" font-size="8.4">300</text>
<line x1="649.72" y1="112.3" x2="649.72" y2="117.6" stroke="#5a5a5a"/>
<text x="649.72" y="129.7" text-anchor="middle" font-size="8.4">400</text>
<line x1="386.9" y1="108.5" x2="392.3" y2="108.5" stroke="#5a5a5a"/>
<text transform="translate(381 108.5) rotate(-90)" text-anchor="middle" font-size="8.4">0</text>
<line x1="386.9" y1="82.1" x2="392.3" y2="82.1" stroke="#5a5a5a"/>
<text transform="translate(381 82.1) rotate(-90)" text-anchor="middle" font-size="8.4">5</text>
<line x1="386.9" y1="55.7" x2="392.3" y2="55.7" stroke="#5a5a5a"/>
<text transform="translate(381 55.7) rotate(-90)" text-anchor="middle" font-size="8.4">10</text>
<line x1="386.9" y1="29.3" x2="392.3" y2="29.3" stroke="#5a5a5a"/>
<text transform="translate(381 29.3) rotate(-90)" text-anchor="middle" font-size="8.4">15</text>
<text x="529.85" y="149.3" text-anchor="middle" font-size="8.0">Patients (increasing risk socre)</text>
<text transform="translate(361.3 60.9) rotate(-90)" text-anchor="middle" font-size="8.0">Survival time (years)</text>
<text x="358.4" y="9.6" font-family="Liberation Serif, serif" font-size="12" fill="#555">B</text>
<circle cx="400.8" cy="21" r="2.3" fill="#2a48ad"/>
<circle cx="400.8" cy="32.1" r="2.3" fill="#a4491f"/>
<text x="409.7" y="24.3" font-size="9.2">Dead</text>
<text x="409.7" y="35.4" font-size="9.2">Alive</text>
<line x1="524" y1="191" x2="524" y2="294.3" stroke="#444" stroke-width="1.0" stroke-dasharray="2 2" stroke-dashoffset="2"/>
<circle cx="397.94" cy="286.4" r="2.1" fill="#a4491f"/>
<circle cx="400" cy="250" r="2.1" fill="#a4491f"/>
<circle cx="402" cy="267.9" r="2.1" fill="#a4491f"/>
<circle cx="398.46" cy="282.22" r="2.1" fill="#a4491f"/>
<circle cx="401.6" cy="283.26" r="2.1" fill="#a4491f"/>
<circle cx="400.56" cy="270.71" r="2.1" fill="#a4491f"/>
<circle cx="400.8" cy="264.8" r="2.1" fill="#a4491f"/>
<circle cx="403.1" cy="260.3" r="2.1" fill="#a4491f"/>
<circle cx="403.7" cy="280.13" r="2.1" fill="#a4491f"/>
<circle cx="405.79" cy="289.54" r="2.1" fill="#a4491f"/>
<circle cx="406.83" cy="286.93" r="2.1" fill="#a4491f"/>
<circle cx="403.7" cy="287.45" r="2.1" fill="#2a48ad"/>
<circle cx="404.74" cy="285.36" r="2.1" fill="#a4491f"/>
<circle cx="409.51" cy="290.06" r="2.1" fill="#a4491f"/>
<circle cx="408.93" cy="284.31" r="2.1" fill="#a4491f"/>
<circle cx="409.7" cy="223.2" r="2.1" fill="#a4491f"/>
<circle cx="412.3" cy="265.4" r="2.1" fill="#a4491f"/>
<circle cx="409.97" cy="287.97" r="2.1" fill="#a4491f"/>
<circle cx="410.1" cy="253.5" r="2.1" fill="#a4491f"/>
<circle cx="409.9" cy="288.6" r="2.1" fill="#a4491f"/>
<circle cx="414.16" cy="278.56" r="2.1" fill="#a4491f"/>
<circle cx="412.07" cy="284.83" r="2.1" fill="#a4491f"/>
<circle cx="413.83" cy="289.87" r="2.1" fill="#a4491f"/>
<circle cx="415.21" cy="274.89" r="2.1" fill="#a4491f"/>
<circle cx="413.11" cy="288.5" r="2.1" fill="#a4491f"/>
<circle cx="418.34" cy="281.7" r="2.1" fill="#a4491f"/>
<circle cx="417.3" cy="279.6" r="2.1" fill="#a4491f"/>
<circle cx="416.25" cy="287.97" r="2.1" fill="#a4491f"/>
<circle cx="419.39" cy="278.56" r="2.1" fill="#a4491f"/>
<circle cx="420.44" cy="282.74" r="2.1" fill="#a4491f"/>
<circle cx="416.9" cy="225" r="2.1" fill="#a4491f"/>
<circle cx="417.9" cy="252" r="2.1" fill="#a4491f"/>
<circle cx="423.58" cy="285.88" r="2.1" fill="#a4491f"/>
<circle cx="421.27" cy="268.3" r="2.1" fill="#2a48ad"/>
<circle cx="420" cy="263.8" r="2.1" fill="#a4491f"/>
<circle cx="421.48" cy="287.97" r="2.1" fill="#a4491f"/>
<circle cx="426.72" cy="270.19" r="2.1" fill="#a4491f"/>
<circle cx="422.53" cy="290.07" r="2.1" fill="#a4491f"/>
<circle cx="425.67" cy="285.36" r="2.1" fill="#a4491f"/>
<circle cx="426.72" cy="290.07" r="2.1" fill="#a4491f"/>
<circle cx="427.76" cy="287.97" r="2.1" fill="#a4491f"/>
<circle cx="428.81" cy="272.28" r="2.1" fill="#a4491f"/>
<circle cx="424.62" cy="269.14" r="2.1" fill="#a4491f"/>
<circle cx="430.9" cy="289.54" r="2.1" fill="#2a48ad"/>
<circle cx="425.67" cy="272.8" r="2.1" fill="#a4491f"/>
<circle cx="429.85" cy="280.13" r="2.1" fill="#a4491f"/>
<circle cx="431.95" cy="273.85" r="2.1" fill="#a4491f"/>
<circle cx="429.9" cy="239" r="2.1" fill="#a4491f"/>
<circle cx="434.04" cy="287.45" r="2.1" fill="#2a48ad"/>
<circle cx="432.99" cy="276.46" r="2.1" fill="#a4491f"/>
<circle cx="436.13" cy="283.79" r="2.1" fill="#a4491f"/>
<circle cx="438.22" cy="284.31" r="2.1" fill="#a4491f"/>
<circle cx="436.13" cy="288.5" r="2.1" fill="#a4491f"/>
<circle cx="433.8" cy="252.4" r="2.1" fill="#a4491f"/>
<circle cx="434.04" cy="280.65" r="2.1" fill="#a4491f"/>
<circle cx="435.9" cy="266.5" r="2.1" fill="#a4491f"/>
<circle cx="442.2" cy="263.2" r="2.1" fill="#a4491f"/>
<circle cx="437.83" cy="290.39" r="2.1" fill="#a4491f"/>
<circle cx="439.2" cy="259.7" r="2.1" fill="#a4491f"/>
<circle cx="442.7" cy="252.9" r="2.1" fill="#a4491f"/>
<circle cx="439.27" cy="269.14" r="2.1" fill="#a4491f"/>
<circle cx="439.27" cy="289.02" r="2.1" fill="#a4491f"/>
<circle cx="442.37" cy="290.26" r="2.1" fill="#a4491f"/>
<circle cx="444.5" cy="270.19" r="2.1" fill="#a4491f"/>
<circle cx="441.36" cy="279.6" r="2.1" fill="#a4491f"/>
<circle cx="442.41" cy="288.5" r="2.1" fill="#a4491f"/>
<circle cx="443.63" cy="289.13" r="2.1" fill="#2a48ad"/>
<circle cx="445.55" cy="282.74" r="2.1" fill="#a4491f"/>
<circle cx="443.46" cy="273.85" r="2.1" fill="#a4491f"/>
<circle cx="447.12" cy="278.03" r="2.1" fill="#a4491f"/>
<circle cx="447.64" cy="282.22" r="2.1" fill="#2a48ad"/>
<circle cx="445.55" cy="289.54" r="2.1" fill="#a4491f"/>
<circle cx="448.69" cy="290.07" r="2.1" fill="#a4491f"/>
<circle cx="450.78" cy="287.97" r="2.1" fill="#a4491f"/>
<circle cx="450.09" cy="288.58" r="2.1" fill="#a4491f"/>
<circle cx="448.69" cy="287.45" r="2.1" fill="#2a48ad"/>
<circle cx="452.87" cy="275.94" r="2.1" fill="#a4491f"/>
<circle cx="454.97" cy="278.03" r="2.1" fill="#2a48ad"/>
<circle cx="455.04" cy="288.88" r="2.1" fill="#a4491f"/>
<circle cx="449.73" cy="284.83" r="2.1" fill="#2a48ad"/>
<circle cx="453.92" cy="289.02" r="2.1" fill="#2a48ad"/>
<circle cx="454.97" cy="281.7" r="2.1" fill="#a4491f"/>
<circle cx="454.97" cy="285.88" r="2.1" fill="#a4491f"/>
<circle cx="458.66" cy="290.27" r="2.1" fill="#a4491f"/>
<circle cx="460.09" cy="279.6" r="2.1" fill="#a4491f"/>
<circle cx="461.14" cy="273.85" r="2.1" fill="#a4491f"/>
<circle cx="461.8" cy="263.8" r="2.1" fill="#a4491f"/>
<circle cx="459.05" cy="283.26" r="2.1" fill="#a4491f"/>
<circle cx="464.28" cy="279.6" r="2.1" fill="#a4491f"/>
<circle cx="462.71" cy="268.09" r="2.1" fill="#a4491f"/>
<circle cx="462.19" cy="287.97" r="2.1" fill="#a4491f"/>
<circle cx="462.7" cy="267.9" r="2.1" fill="#a4491f"/>
<circle cx="466.37" cy="276.46" r="2.1" fill="#a4491f"/>
<circle cx="463.23" cy="283.79" r="2.1" fill="#a4491f"/>
<circle cx="469.51" cy="287.97" r="2.1" fill="#a4491f"/>
<circle cx="467.94" cy="285.88" r="2.1" fill="#2a48ad"/>
<circle cx="468.46" cy="282.74" r="2.1" fill="#a4491f"/>
<circle cx="471.6" cy="270.71" r="2.1" fill="#a4491f"/>
<circle cx="470.56" cy="289.54" r="2.1" fill="#a4491f"/>
<circle cx="471.5" cy="258" r="2.1" fill="#a4491f"/>
<circle cx="474.74" cy="279.6" r="2.1" fill="#a4491f"/>
<circle cx="471.6" cy="286.93" r="2.1" fill="#a4491f"/>
<circle cx="472.27" cy="287.51" r="2.1" fill="#a4491f"/>
<circle cx="475" cy="248.9" r="2.1" fill="#a4491f"/>
<circle cx="473.17" cy="274.37" r="2.1" fill="#2a48ad"/>
<circle cx="473.7" cy="282.74" r="2.1" fill="#a4491f"/>
<circle cx="476.83" cy="282.22" r="2.1" fill="#a4491f"/>
<circle cx="476.41" cy="288" r="2.1" fill="#2a48ad"/>
<circle cx="478.93" cy="272.8" r="2.1" fill="#2a48ad"/>
<circle cx="476.83" cy="277.51" r="2.1" fill="#a4491f"/>
<circle cx="480.4" cy="262.8" r="2.1" fill="#2a48ad"/>
<circle cx="477.3" cy="239.4" r="2.1" fill="#a4491f"/>
<circle cx="478.93" cy="283.26" r="2.1" fill="#a4491f"/>
<circle cx="479.97" cy="289.54" r="2.1" fill="#a4491f"/>
<circle cx="481.4" cy="267.9" r="2.1" fill="#a4491f"/>
<circle cx="481.02" cy="268.09" r="2.1" fill="#a4491f"/>
<circle cx="482.07" cy="278.56" r="2.1" fill="#a4491f"/>
<circle cx="483.11" cy="287.45" r="2.1" fill="#a4491f"/>
<circle cx="485.21" cy="271.75" r="2.1" fill="#a4491f"/>
<circle cx="486" cy="256.2" r="2.1" fill="#a4491f"/>
<circle cx="483.64" cy="281.17" r="2.1" fill="#2a48ad"/>
<circle cx="488.7" cy="265.4" r="2.1" fill="#a4491f"/>
<circle cx="487.3" cy="281.7" r="2.1" fill="#a4491f"/>
<circle cx="485.73" cy="275.42" r="2.1" fill="#a4491f"/>
<circle cx="487.3" cy="285.88" r="2.1" fill="#a4491f"/>
<circle cx="490.7" cy="261.1" r="2.1" fill="#a4491f"/>
<circle cx="489.45" cy="288.21" r="2.1" fill="#a4491f"/>
<circle cx="489.91" cy="289.54" r="2.1" fill="#2a48ad"/>
<circle cx="492.53" cy="270.71" r="2.1" fill="#a4491f"/>
<circle cx="491.22" cy="289.67" r="2.1" fill="#a4491f"/>
<circle cx="491.48" cy="274.89" r="2.1" fill="#a4491f"/>
<circle cx="491.8" cy="240.1" r="2.1" fill="#a4491f"/>
<circle cx="492.53" cy="285.88" r="2.1" fill="#a4491f"/>
<circle cx="493.58" cy="271.23" r="2.1" fill="#a4491f"/>
<circle cx="495.67" cy="286.93" r="2.1" fill="#a4491f"/>
<circle cx="495.67" cy="289.54" r="2.1" fill="#a4491f"/>
<circle cx="497.24" cy="289.02" r="2.1" fill="#2a48ad"/>
<circle cx="494.62" cy="278.56" r="2.1" fill="#a4491f"/>
<circle cx="495.3" cy="256.6" r="2.1" fill="#a4491f"/>
<circle cx="500.9" cy="271.75" r="2.1" fill="#a4491f"/>
<circle cx="498.8" cy="267.5" r="2.1" fill="#a4491f"/>
<circle cx="501.4" cy="246.3" r="2.1" fill="#a4491f"/>
<circle cx="499.4" cy="256.6" r="2.1" fill="#a4491f"/>
<circle cx="503.48" cy="287.58" r="2.1" fill="#a4491f"/>
<circle cx="503.5" cy="256.2" r="2.1" fill="#a4491f"/>
<circle cx="502.99" cy="278.03" r="2.1" fill="#a4491f"/>
<circle cx="501.95" cy="287.97" r="2.1" fill="#a4491f"/>
<circle cx="499.85" cy="286.93" r="2.1" fill="#2a48ad"/>
<circle cx="504.04" cy="272.28" r="2.1" fill="#a4491f"/>
<circle cx="507.2" cy="256.2" r="2.1" fill="#a4491f"/>
<circle cx="505.09" cy="289.54" r="2.1" fill="#a4491f"/>
<circle cx="505.6" cy="254.1" r="2.1" fill="#a4491f"/>
<circle cx="509.3" cy="266.9" r="2.1" fill="#a4491f"/>
<circle cx="509.79" cy="270.71" r="2.1" fill="#2a48ad"/>
<circle cx="508.22" cy="287.97" r="2.1" fill="#a4491f"/>
<circle cx="507.6" cy="235.1" r="2.1" fill="#a4491f"/>
<circle cx="508.22" cy="275.94" r="2.1" fill="#a4491f"/>
<circle cx="511.36" cy="289.02" r="2.1" fill="#a4491f"/>
<circle cx="511.36" cy="281.7" r="2.1" fill="#a4491f"/>
<circle cx="514.5" cy="288.5" r="2.1" fill="#a4491f"/>
<circle cx="512.14" cy="290.16" r="2.1" fill="#a4491f"/>
<circle cx="513.2" cy="254.5" r="2.1" fill="#a4491f"/>
<circle cx="512.8" cy="267.9" r="2.1" fill="#a4491f"/>
<circle cx="515.03" cy="274.89" r="2.1" fill="#2a48ad"/>
<circle cx="513.8" cy="264.8" r="2.1" fill="#a4491f"/>
<circle cx="516.6" cy="286.93" r="2.1" fill="#a4491f"/>
<circle cx="519.71" cy="290.31" r="2.1" fill="#a4491f"/>
<circle cx="518.69" cy="270.19" r="2.1" fill="#a4491f"/>
<circle cx="518.69" cy="285.36" r="2.1" fill="#a4491f"/>
<circle cx="523.7" cy="242.7" r="2.1" fill="#a4491f"/>
<circle cx="523.1" cy="266.5" r="2.1" fill="#2a48ad"/>
<circle cx="522.87" cy="279.6" r="2.1" fill="#a4491f"/>
<circle cx="519.73" cy="273.32" r="2.1" fill="#a4491f"/>
<circle cx="520.78" cy="287.97" r="2.1" fill="#a4491f"/>
<circle cx="520" cy="264.8" r="2.1" fill="#a4491f"/>
<circle cx="524.97" cy="285.36" r="2.1" fill="#2a48ad"/>
<circle cx="524.97" cy="287.97" r="2.1" fill="#2a48ad"/>
<circle cx="521.83" cy="282.22" r="2.1" fill="#2a48ad"/>
<circle cx="526.01" cy="283.79" r="2.1" fill="#a4491f"/>
<circle cx="529.05" cy="279.6" r="2.1" fill="#a4491f"/>
<circle cx="527.06" cy="289.02" r="2.1" fill="#a4491f"/>
<circle cx="528" cy="273.32" r="2.1" fill="#a4491f"/>
<circle cx="524.97" cy="269.14" r="2.1" fill="#a4491f"/>
<circle cx="530.09" cy="289.02" r="2.1" fill="#a4491f"/>
<circle cx="530.5" cy="262.1" r="2.1" fill="#2a48ad"/>
<circle cx="531.14" cy="272.28" r="2.1" fill="#a4491f"/>
<circle cx="530.09" cy="276.46" r="2.1" fill="#a4491f"/>
<circle cx="529.05" cy="270.19" r="2.1" fill="#a4491f"/>
<circle cx="532.19" cy="283.26" r="2.1" fill="#a4491f"/>
<circle cx="534.28" cy="287.97" r="2.1" fill="#2a48ad"/>
<circle cx="534.28" cy="275.42" r="2.1" fill="#a4491f"/>
<circle cx="538.99" cy="278.35" r="2.1" fill="#2a48ad"/>
<circle cx="535.32" cy="272.8" r="2.1" fill="#a4491f"/>
<circle cx="536.3" cy="266.5" r="2.1" fill="#a4491f"/>
<circle cx="535.4" cy="289.09" r="2.1" fill="#2a48ad"/>
<circle cx="537.42" cy="286.4" r="2.1" fill="#a4491f"/>
<circle cx="541.6" cy="287.97" r="2.1" fill="#a4491f"/>
<circle cx="538.46" cy="289.54" r="2.1" fill="#a4491f"/>
<circle cx="540.56" cy="287.97" r="2.1" fill="#2a48ad"/>
<circle cx="540.9" cy="247.9" r="2.1" fill="#a4491f"/>
<circle cx="541.5" cy="267.3" r="2.1" fill="#a4491f"/>
<circle cx="541.54" cy="287.71" r="2.1" fill="#2a48ad"/>
<circle cx="538.4" cy="263.2" r="2.1" fill="#a4491f"/>
<circle cx="541.6" cy="268.09" r="2.1" fill="#a4491f"/>
<circle cx="544.74" cy="289.54" r="2.1" fill="#a4491f"/>
<circle cx="543.7" cy="270.71" r="2.1" fill="#a4491f"/>
<circle cx="546.83" cy="290.07" r="2.1" fill="#a4491f"/>
<circle cx="548.3" cy="265.8" r="2.1" fill="#a4491f"/>
<circle cx="545.6" cy="267.9" r="2.1" fill="#a4491f"/>
<circle cx="546.83" cy="271.75" r="2.1" fill="#a4491f"/>
<circle cx="547.7" cy="251" r="2.1" fill="#a4491f"/>
<circle cx="551.02" cy="287.97" r="2.1" fill="#a4491f"/>
<circle cx="547.88" cy="273.32" r="2.1" fill="#a4491f"/>
<circle cx="549.45" cy="279.08" r="2.1" fill="#a4491f"/>
<circle cx="550.5" cy="277.51" r="2.1" fill="#a4491f"/>
<circle cx="553.64" cy="282.74" r="2.1" fill="#a4491f"/>
<circle cx="552.07" cy="285.88" r="2.1" fill="#a4491f"/>
<circle cx="555.21" cy="279.6" r="2.1" fill="#a4491f"/>
<circle cx="550.5" cy="270.71" r="2.1" fill="#2a48ad"/>
<circle cx="551.92" cy="289.22" r="2.1" fill="#2a48ad"/>
<circle cx="556.17" cy="289.84" r="2.1" fill="#2a48ad"/>
<circle cx="557.4" cy="266.9" r="2.1" fill="#a4491f"/>
<circle cx="553.11" cy="273.32" r="2.1" fill="#a4491f"/>
<circle cx="553.11" cy="274.89" r="2.1" fill="#2a48ad"/>
<circle cx="555.21" cy="287.97" r="2.1" fill="#a4491f"/>
<circle cx="556.25" cy="288.5" r="2.1" fill="#2a48ad"/>
<circle cx="560.44" cy="280.65" r="2.1" fill="#a4491f"/>
<circle cx="560" cy="249.8" r="2.1" fill="#a4491f"/>
<circle cx="558.34" cy="286.93" r="2.1" fill="#2a48ad"/>
<circle cx="559" cy="258" r="2.1" fill="#a4491f"/>
<circle cx="561.48" cy="268.09" r="2.1" fill="#a4491f"/>
<circle cx="562.1" cy="266.5" r="2.1" fill="#a4491f"/>
<circle cx="559.13" cy="288.26" r="2.1" fill="#a4491f"/>
<circle cx="563.58" cy="271.23" r="2.1" fill="#a4491f"/>
<circle cx="564.1" cy="284.31" r="2.1" fill="#2a48ad"/>
<circle cx="562.53" cy="279.6" r="2.1" fill="#2a48ad"/>
<circle cx="565.67" cy="269.14" r="2.1" fill="#a4491f"/>
<circle cx="564.62" cy="282.22" r="2.1" fill="#a4491f"/>
<circle cx="567.76" cy="271.75" r="2.1" fill="#a4491f"/>
<circle cx="566.72" cy="282.22" r="2.1" fill="#2a48ad"/>
<circle cx="567.76" cy="284.83" r="2.1" fill="#a4491f"/>
<circle cx="568.81" cy="289.54" r="2.1" fill="#a4491f"/>
<circle cx="565.2" cy="267.9" r="2.1" fill="#a4491f"/>
<circle cx="570.9" cy="273.32" r="2.1" fill="#a4491f"/>
<circle cx="569.85" cy="285.88" r="2.1" fill="#a4491f"/>
<circle cx="569.85" cy="268.09" r="2.1" fill="#a4491f"/>
<circle cx="570.63" cy="288.98" r="2.1" fill="#2a48ad"/>
<circle cx="573.9" cy="249.8" r="2.1" fill="#a4491f"/>
<circle cx="576.13" cy="289.54" r="2.1" fill="#a4491f"/>
<circle cx="575.5" cy="267.3" r="2.1" fill="#a4491f"/>
<circle cx="572.99" cy="285.36" r="2.1" fill="#2a48ad"/>
<circle cx="577.7" cy="287.97" r="2.1" fill="#2a48ad"/>
<circle cx="573.52" cy="289.02" r="2.1" fill="#2a48ad"/>
<circle cx="577.2" cy="256.2" r="2.1" fill="#a4491f"/>
<circle cx="575.09" cy="281.7" r="2.1" fill="#a4491f"/>
<circle cx="578.22" cy="282.74" r="2.1" fill="#a4491f"/>
<circle cx="577.2" cy="287.73" r="2.1" fill="#a4491f"/>
<circle cx="580" cy="256.2" r="2.1" fill="#a4491f"/>
<circle cx="580.32" cy="270.19" r="2.1" fill="#a4491f"/>
<circle cx="578.6" cy="254.5" r="2.1" fill="#a4491f"/>
<circle cx="582.7" cy="253.7" r="2.1" fill="#a4491f"/>
<circle cx="581.89" cy="279.08" r="2.1" fill="#2a48ad"/>
<circle cx="582.41" cy="288.5" r="2.1" fill="#a4491f"/>
<circle cx="579.2" cy="263.8" r="2.1" fill="#a4491f"/>
<circle cx="580.32" cy="287.97" r="2.1" fill="#a4491f"/>
<circle cx="580" cy="266.5" r="2.1" fill="#a4491f"/>
<circle cx="583.46" cy="276.46" r="2.1" fill="#a4491f"/>
<circle cx="586.86" cy="287.53" r="2.1" fill="#2a48ad"/>
<circle cx="584.5" cy="282.74" r="2.1" fill="#2a48ad"/>
<circle cx="586.4" cy="261.7" r="2.1" fill="#2a48ad"/>
<circle cx="585.8" cy="252" r="2.1" fill="#a4491f"/>
<circle cx="586.6" cy="286.93" r="2.1" fill="#a4491f"/>
<circle cx="585.55" cy="289.54" r="2.1" fill="#2a48ad"/>
<circle cx="588.69" cy="285.36" r="2.1" fill="#a4491f"/>
<circle cx="590.78" cy="270.19" r="2.1" fill="#a4491f"/>
<circle cx="588.69" cy="275.94" r="2.1" fill="#a4491f"/>
<circle cx="592.87" cy="279.6" r="2.1" fill="#2a48ad"/>
<circle cx="587.9" cy="264.8" r="2.1" fill="#a4491f"/>
<circle cx="590.78" cy="286.93" r="2.1" fill="#a4491f"/>
<circle cx="589.73" cy="273.85" r="2.1" fill="#2a48ad"/>
<circle cx="593" cy="265.4" r="2.1" fill="#a4491f"/>
<circle cx="595.05" cy="281.17" r="2.1" fill="#2a48ad"/>
<circle cx="595.1" cy="260.1" r="2.1" fill="#a4491f"/>
<circle cx="595.05" cy="287.97" r="2.1" fill="#2a48ad"/>
<circle cx="594.97" cy="281.17" r="2.1" fill="#2a48ad"/>
<circle cx="591.83" cy="289.54" r="2.1" fill="#2a48ad"/>
<circle cx="597.14" cy="289.02" r="2.1" fill="#a4491f"/>
<circle cx="596.09" cy="272.28" r="2.1" fill="#a4491f"/>
<circle cx="594.97" cy="271.23" r="2.1" fill="#a4491f"/>
<circle cx="598.19" cy="271.75" r="2.1" fill="#a4491f"/>
<circle cx="599.75" cy="277.51" r="2.1" fill="#a4491f"/>
<circle cx="594.97" cy="286.93" r="2.1" fill="#a4491f"/>
<circle cx="597.06" cy="281.7" r="2.1" fill="#a4491f"/>
<circle cx="597.14" cy="269.14" r="2.1" fill="#a4491f"/>
<circle cx="601.3" cy="263.8" r="2.1" fill="#a4491f"/>
<circle cx="600.28" cy="289.54" r="2.1" fill="#2a48ad"/>
<circle cx="603.72" cy="289.98" r="2.1" fill="#2a48ad"/>
<circle cx="600.28" cy="281.7" r="2.1" fill="#2a48ad"/>
<circle cx="603.42" cy="288.5" r="2.1" fill="#a4491f"/>
<circle cx="604.46" cy="287.97" r="2.1" fill="#2a48ad"/>
<circle cx="602.7" cy="242.7" r="2.1" fill="#a4491f"/>
<circle cx="605" cy="265.8" r="2.1" fill="#a4491f"/>
<circle cx="605.51" cy="271.75" r="2.1" fill="#2a48ad"/>
<circle cx="608.65" cy="289.54" r="2.1" fill="#2a48ad"/>
<circle cx="608.21" cy="289.66" r="2.1" fill="#2a48ad"/>
<circle cx="608.1" cy="258.6" r="2.1" fill="#a4491f"/>
<circle cx="606.56" cy="286.93" r="2.1" fill="#a4491f"/>
<circle cx="609.7" cy="288.5" r="2.1" fill="#a4491f"/>
<circle cx="607.6" cy="271.75" r="2.1" fill="#a4491f"/>
<circle cx="608.65" cy="284.83" r="2.1" fill="#a4491f"/>
<circle cx="610.6" cy="266.3" r="2.1" fill="#a4491f"/>
<circle cx="614.7" cy="267.9" r="2.1" fill="#a4491f"/>
<circle cx="609.7" cy="274.89" r="2.1" fill="#a4491f"/>
<circle cx="612.83" cy="285.36" r="2.1" fill="#a4491f"/>
<circle cx="615.95" cy="288.97" r="2.1" fill="#a4491f"/>
<circle cx="613.88" cy="268.09" r="2.1" fill="#a4491f"/>
<circle cx="615.97" cy="285.88" r="2.1" fill="#a4491f"/>
<circle cx="613.88" cy="273.32" r="2.1" fill="#a4491f"/>
<circle cx="618.07" cy="288.5" r="2.1" fill="#2a48ad"/>
<circle cx="614.93" cy="289.54" r="2.1" fill="#2a48ad"/>
<circle cx="612.83" cy="281.17" r="2.1" fill="#2a48ad"/>
<circle cx="620.5" cy="260.7" r="2.1" fill="#a4491f"/>
<circle cx="614.93" cy="280.13" r="2.1" fill="#2a48ad"/>
<circle cx="617.54" cy="275.94" r="2.1" fill="#2a48ad"/>
<circle cx="620.43" cy="288.85" r="2.1" fill="#2a48ad"/>
<circle cx="619.64" cy="269.14" r="2.1" fill="#a4491f"/>
<circle cx="622.77" cy="280.65" r="2.1" fill="#2a48ad"/>
<circle cx="622.25" cy="272.28" r="2.1" fill="#a4491f"/>
<circle cx="624.34" cy="278.56" r="2.1" fill="#a4491f"/>
<circle cx="619.11" cy="286.4" r="2.1" fill="#a4491f"/>
<circle cx="622.25" cy="286.93" r="2.1" fill="#a4491f"/>
<circle cx="621.3" cy="263.4" r="2.1" fill="#a4491f"/>
<circle cx="626.44" cy="273.32" r="2.1" fill="#a4491f"/>
<circle cx="627.1" cy="247.3" r="2.1" fill="#a4491f"/>
<circle cx="626" cy="260.7" r="2.1" fill="#2a48ad"/>
<circle cx="623.3" cy="275.42" r="2.1" fill="#a4491f"/>
<circle cx="625.39" cy="280.65" r="2.1" fill="#a4491f"/>
<circle cx="624.17" cy="290.32" r="2.1" fill="#a4491f"/>
<circle cx="628.53" cy="287.45" r="2.1" fill="#a4491f"/>
<circle cx="628.5" cy="249.8" r="2.1" fill="#a4491f"/>
<circle cx="625.39" cy="283.26" r="2.1" fill="#2a48ad"/>
<circle cx="629.58" cy="285.36" r="2.1" fill="#2a48ad"/>
<circle cx="630.62" cy="287.97" r="2.1" fill="#2a48ad"/>
<circle cx="631.58" cy="288.77" r="2.1" fill="#a4491f"/>
<circle cx="630.62" cy="289.54" r="2.1" fill="#a4491f"/>
<circle cx="632.72" cy="271.75" r="2.1" fill="#a4491f"/>
<circle cx="630.62" cy="276.46" r="2.1" fill="#a4491f"/>
<circle cx="633.76" cy="288.5" r="2.1" fill="#a4491f"/>
<circle cx="632.72" cy="283.79" r="2.1" fill="#a4491f"/>
<circle cx="636.36" cy="287.95" r="2.1" fill="#a4491f"/>
<circle cx="633.3" cy="255.5" r="2.1" fill="#a4491f"/>
<circle cx="634.81" cy="273.85" r="2.1" fill="#2a48ad"/>
<circle cx="633.91" cy="288.04" r="2.1" fill="#a4491f"/>
<circle cx="636.9" cy="289.02" r="2.1" fill="#2a48ad"/>
<circle cx="640.04" cy="289.54" r="2.1" fill="#2a48ad"/>
<circle cx="636.9" cy="274.37" r="2.1" fill="#a4491f"/>
<circle cx="638.99" cy="278.56" r="2.1" fill="#a4491f"/>
<circle cx="635.85" cy="276.99" r="2.1" fill="#2a48ad"/>
<circle cx="637.95" cy="276.46" r="2.1" fill="#a4491f"/>
<circle cx="641.09" cy="288.5" r="2.1" fill="#a4491f"/>
<circle cx="640.5" cy="266.5" r="2.1" fill="#a4491f"/>
<circle cx="644.22" cy="281.7" r="2.1" fill="#2a48ad"/>
<circle cx="644.22" cy="275.94" r="2.1" fill="#a4491f"/>
<circle cx="643.6" cy="253.7" r="2.1" fill="#a4491f"/>
<circle cx="641.5" cy="260.3" r="2.1" fill="#a4491f"/>
<circle cx="641.09" cy="285.36" r="2.1" fill="#2a48ad"/>
<circle cx="642.13" cy="290.07" r="2.1" fill="#2a48ad"/>
<circle cx="647.7" cy="261.3" r="2.1" fill="#a4491f"/>
<circle cx="645.27" cy="270.19" r="2.1" fill="#a4491f"/>
<circle cx="642.13" cy="284.31" r="2.1" fill="#a4491f"/>
<circle cx="645.19" cy="289.54" r="2.1" fill="#2a48ad"/>
<circle cx="648.41" cy="289.54" r="2.1" fill="#2a48ad"/>
<circle cx="646.32" cy="289.54" r="2.1" fill="#a4491f"/>
<circle cx="646.84" cy="273.85" r="2.1" fill="#2a48ad"/>
<circle cx="650.5" cy="282.22" r="2.1" fill="#2a48ad"/>
<circle cx="652.07" cy="279.6" r="2.1" fill="#a4491f"/>
<circle cx="652.9" cy="253.7" r="2.1" fill="#a4491f"/>
<circle cx="652.6" cy="289.54" r="2.1" fill="#2a48ad"/>
<circle cx="654.3" cy="289.97" r="2.1" fill="#a4491f"/>
<circle cx="651.03" cy="285.36" r="2.1" fill="#a4491f"/>
<circle cx="654.69" cy="287.97" r="2.1" fill="#2a48ad"/>
<rect x="388.5" y="191" width="275.2" height="103.3" fill="none" stroke="#5a5a5a" stroke-width="1"/>
<line x1="397.3" y1="294.3" x2="397.3" y2="299.6" stroke="#5a5a5a"/>
<text x="397.3" y="311.7" text-anchor="middle" font-size="8.4">0</text>
<line x1="459.08" y1="294.3" x2="459.08" y2="299.6" stroke="#5a5a5a"/>
<text x="459.08" y="311.7" text-anchor="middle" font-size="8.4">100</text>
<line x1="520.86" y1="294.3" x2="520.86" y2="299.6" stroke="#5a5a5a"/>
<text x="520.86" y="311.7" text-anchor="middle" font-size="8.4">200</text>
<line x1="582.64" y1="294.3" x2="582.64" y2="299.6" stroke="#5a5a5a"/>
<text x="582.64" y="311.7" text-anchor="middle" font-size="8.4">300</text>
<line x1="644.42" y1="294.3" x2="644.42" y2="299.6" stroke="#5a5a5a"/>
<text x="644.42" y="311.7" text-anchor="middle" font-size="8.4">400</text>
<line x1="383.1" y1="290.5" x2="388.5" y2="290.5" stroke="#5a5a5a"/>
<text transform="translate(377.2 290.5) rotate(-90)" text-anchor="middle" font-size="8.4">0</text>
<line x1="383.1" y1="263.8" x2="388.5" y2="263.8" stroke="#5a5a5a"/>
<text transform="translate(377.2 263.8) rotate(-90)" text-anchor="middle" font-size="8.4">5</text>
<line x1="383.1" y1="237.1" x2="388.5" y2="237.1" stroke="#5a5a5a"/>
<text transform="translate(377.2 237.1) rotate(-90)" text-anchor="middle" font-size="8.4">10</text>
<line x1="383.1" y1="210.4" x2="388.5" y2="210.4" stroke="#5a5a5a"/>
<text transform="translate(377.2 210.4) rotate(-90)" text-anchor="middle" font-size="8.4">15</text>
<text x="526.1" y="331.3" text-anchor="middle" font-size="8.0">Patients (increasing risk socre)</text>
<text transform="translate(356.7 242.65) rotate(-90)" text-anchor="middle" font-size="8.0">Survival time (years)</text>
<text x="369.1" y="182.9" font-family="Liberation Serif, serif" font-size="12" fill="#555">D</text>
<circle cx="396.5" cy="202.7" r="2.3" fill="#2a48ad"/>
<circle cx="396.5" cy="213.8" r="2.3" fill="#a4491f"/>
<text x="405.3" y="206" font-size="9.2">Dead</text>
<text x="405.3" y="217.1" font-size="9.2">Alive</text>
<text x="21.2" y="357.8" font-family="Liberation Serif, serif" font-size="12" fill="#555">E</text>
<rect x="1" y="367.9" width="134.1" height="6" fill="#3a72b8"/>
<rect x="135.1" y="367.9" width="133.9" height="6" fill="#e55555"/>
<g transform="translate(1.00 375.80) scale(1.00000 19.4300)" shape-rendering="auto">
<rect y="0" width="268" height="1" fill="#bea4ac"/>
<rect y="1" width="268" height="1" fill="#c1adb9"/>
<rect y="2" width="268" height="1" fill="#bdadbf"/>
<rect y="3" width="268" height="1" fill="#b9a7ba"/>
<rect y="4" width="268" height="1" fill="#beadbf"/>
<rect y="5" width="268" height="1" fill="#b8a6b8"/>
<rect y="6" width="268" height="1" fill="#bcacbf"/>
<rect y="7" width="268" height="1" fill="#beadbe"/>
<rect y="8" width="268" height="1" fill="#bbabbd"/>
<rect y="9" width="268" height="1" fill="#c0afbf"/>
<rect y="10" width="268" height="1" fill="#a58c9e"/>
<path fill="#d8a890" d="M0 0h1v1h-1zM19 0h1v1h-1zM46 0h1v1h-1zM53 0h1v1h-1zM76 0h1v1h-1zM85 0h1v1h-1zM110 0h1v1h-1zM8 1h1v1h-1zM24 1h1v1h-1zM37 1h1v1h-1zM39 1h1v1h-1zM117 1h1v1h-1zM53 2h1v1h-1zM160 2h1v1h-1zM174 2h1v1h-1zM30 3h1v1h-1zM73 3h1v1h-1zM163 3h1v1h-1zM31 4h1v1h-1zM124 4h1v1h-1zM153 4h1v1h-1zM172 4h1v1h-1zM254 4h1v1h-1zM36 5h1v1h-1zM53 5h1v1h-1zM77 6h1v1h-1zM92 6h1v1h-1zM165 6h1v1h-1zM247 6h1v1h-1zM262 6h1v1h-1zM85 7h1v1h-1zM99 7h1v1h-1zM124 7h1v1h-1zM208 7h1v1h-1zM265 7h1v1h-1zM26 8h1v1h-1zM181 8h1v1h-1zM199 8h1v1h-1zM236 8h1v1h-1zM80 9h1v1h-1zM100 9h1v1h-1zM240 9h1v1h-1zM261 9h1v1h-1z"/>
<path fill="#c09078" d="M1 0h2v1h-2zM13 0h1v1h-1zM81 0h1v1h-1zM129 0h1v1h-1zM133 0h1v1h-1zM152 0h1v1h-1zM174 0h1v1h-1zM226 0h1v1h-1zM241 0h1v1h-1zM27 1h1v1h-1zM41 1h1v1h-1zM50 1h1v1h-1zM62 1h2v1h-2zM105 1h1v1h-1zM121 1h1v1h-1zM200 1h1v1h-1zM13 2h1v1h-1zM22 2h1v1h-1zM228 2h1v1h-1zM231 2h1v1h-1zM249 2h1v1h-1zM5 3h1v1h-1zM12 3h1v1h-1zM18 3h1v1h-1zM33 3h1v1h-1zM61 3h1v1h-1zM172 3h1v1h-1zM24 4h1v1h-1zM126 4h1v1h-1zM1 5h1v1h-1zM15 5h1v1h-1zM17 5h1v1h-1zM23 5h1v1h-1zM78 5h1v1h-1zM105 5h1v1h-1zM24 6h1v1h-1zM84 6h1v1h-1zM117 6h1v1h-1zM132 6h1v1h-1zM170 6h1v1h-1zM184 6h1v1h-1zM223 6h1v1h-1zM260 6h1v1h-1zM122 7h1v1h-1zM154 7h1v1h-1zM180 7h1v1h-1zM182 7h1v1h-1zM219 7h1v1h-1zM54 8h1v1h-1zM57 8h1v1h-1zM75 8h2v1h-2zM21 9h1v1h-1zM38 9h1v1h-1zM41 9h1v1h-1zM76 9h1v1h-1zM79 9h1v1h-1zM83 9h1v1h-1zM107 9h1v1h-1zM148 9h1v1h-1zM173 9h1v1h-1zM184 9h1v1h-1zM225 9h1v1h-1zM13 10h1v1h-1zM27 10h1v1h-1zM51 10h1v1h-1zM140 10h1v1h-1zM202 10h1v1h-1zM251 10h1v1h-1zM258 10h1v1h-1z"/>
<path fill="#e4ccc0" d="M3 0h1v1h-1zM41 0h2v1h-2zM88 0h1v1h-1zM114 0h2v1h-2zM118 0h1v1h-1zM130 0h1v1h-1zM197 0h1v1h-1zM234 0h1v1h-1zM243 0h1v1h-1zM263 0h1v1h-1zM7 1h1v1h-1zM18 1h1v1h-1zM26 1h1v1h-1zM42 1h1v1h-1zM83 1h1v1h-1zM88 1h1v1h-1zM91 1h1v1h-1zM109 1h1v1h-1zM112 1h1v1h-1zM146 1h1v1h-1zM166 1h1v1h-1zM74 2h1v1h-1zM167 2h1v1h-1zM191 2h1v1h-1zM194 2h1v1h-1zM222 2h1v1h-1zM230 2h1v1h-1zM240 2h1v1h-1zM266 2h1v1h-1zM13 3h2v1h-2zM57 3h1v1h-1zM104 3h1v1h-1zM130 3h1v1h-1zM165 3h1v1h-1zM179 3h1v1h-1zM262 3h1v1h-1zM20 4h1v1h-1zM43 4h1v1h-1zM61 4h1v1h-1zM96 4h1v1h-1zM104 4h1v1h-1zM109 4h1v1h-1zM145 4h1v1h-1zM162 4h1v1h-1zM165 4h1v1h-1zM222 4h1v1h-1zM247 4h1v1h-1zM5 5h1v1h-1zM47 5h1v1h-1zM85 5h1v1h-1zM89 5h1v1h-1zM94 5h1v1h-1zM110 5h1v1h-1zM138 5h1v1h-1zM254 5h1v1h-1zM58 6h1v1h-1zM60 6h1v1h-1zM72 6h1v1h-1zM100 6h1v1h-1zM107 6h1v1h-1zM120 6h2v1h-2zM128 6h1v1h-1zM166 6h1v1h-1zM189 6h1v1h-1zM212 6h1v1h-1zM241 6h1v1h-1zM255 6h1v1h-1zM23 7h1v1h-1zM44 7h1v1h-1zM93 7h1v1h-1zM121 7h1v1h-1zM130 7h1v1h-1zM144 7h1v1h-1zM158 7h1v1h-1zM164 7h1v1h-1zM176 7h1v1h-1zM198 7h1v1h-1zM215 7h1v1h-1zM240 7h1v1h-1zM256 7h2v1h-2zM11 8h2v1h-2zM41 8h1v1h-1zM48 8h1v1h-1zM77 8h1v1h-1zM84 8h1v1h-1zM128 8h1v1h-1zM138 8h1v1h-1zM153 8h1v1h-1zM177 8h1v1h-1zM191 8h1v1h-1zM2 9h1v1h-1zM18 9h1v1h-1zM31 9h1v1h-1zM42 9h1v1h-1zM50 9h2v1h-2zM91 9h3v1h-3zM113 9h1v1h-1zM168 9h1v1h-1zM181 9h1v1h-1zM185 9h1v1h-1zM187 9h1v1h-1z"/>
<path fill="#9c9cd8" d="M4 0h1v1h-1zM25 0h1v1h-1zM186 0h1v1h-1zM207 0h1v1h-1zM233 0h1v1h-1zM56 1h1v1h-1zM138 1h1v1h-1zM165 1h1v1h-1zM168 1h1v1h-1zM183 1h1v1h-1zM198 1h1v1h-1zM111 2h1v1h-1zM131 2h1v1h-1zM134 2h1v1h-1zM157 2h1v1h-1zM163 2h1v1h-1zM244 2h1v1h-1zM85 3h1v1h-1zM167 3h1v1h-1zM201 3h1v1h-1zM210 3h1v1h-1zM213 3h1v1h-1zM227 3h1v1h-1zM229 3h1v1h-1zM231 3h1v1h-1zM237 3h1v1h-1zM247 3h1v1h-1zM44 4h1v1h-1zM52 4h1v1h-1zM107 4h1v1h-1zM111 4h1v1h-1zM142 4h1v1h-1zM152 4h1v1h-1zM209 4h1v1h-1zM215 4h1v1h-1zM225 4h1v1h-1zM249 4h1v1h-1zM253 4h1v1h-1zM70 5h1v1h-1zM139 5h1v1h-1zM144 5h1v1h-1zM181 5h1v1h-1zM219 5h1v1h-1zM21 6h1v1h-1zM27 6h1v1h-1zM51 6h1v1h-1zM191 6h1v1h-1zM235 6h1v1h-1zM5 7h1v1h-1zM56 7h1v1h-1zM83 7h1v1h-1zM171 7h1v1h-1zM192 7h1v1h-1zM82 8h1v1h-1zM98 8h1v1h-1zM114 8h1v1h-1zM137 8h1v1h-1zM148 8h1v1h-1zM171 8h1v1h-1zM207 8h1v1h-1zM213 8h1v1h-1zM234 8h1v1h-1zM244 8h1v1h-1zM246 8h1v1h-1zM259 8h1v1h-1zM53 9h1v1h-1zM104 9h1v1h-1zM149 9h1v1h-1zM153 9h1v1h-1zM163 9h1v1h-1zM175 9h1v1h-1zM226 9h1v1h-1z"/>
<path fill="#b46c54" d="M5 0h1v1h-1zM72 0h1v1h-1zM98 0h1v1h-1zM173 0h1v1h-1zM12 1h1v1h-1zM73 1h1v1h-1zM122 1h1v1h-1zM79 2h1v1h-1zM104 2h1v1h-1zM232 2h1v1h-1zM78 3h1v1h-1zM21 4h1v1h-1zM38 4h1v1h-1zM55 4h1v1h-1zM62 4h1v1h-1zM77 4h1v1h-1zM101 4h1v1h-1zM149 4h1v1h-1zM24 5h2v1h-2zM30 5h1v1h-1zM34 5h1v1h-1zM59 5h1v1h-1zM115 5h1v1h-1zM134 5h1v1h-1zM89 6h1v1h-1zM188 7h1v1h-1zM211 7h1v1h-1zM228 7h1v1h-1zM258 7h1v1h-1zM18 8h1v1h-1zM73 8h1v1h-1zM3 9h1v1h-1zM23 9h1v1h-1zM46 9h1v1h-1z"/>
<path fill="#a8543c" d="M6 0h1v1h-1zM84 5h1v1h-1zM203 6h1v1h-1zM58 9h1v1h-1z"/>
<path fill="#d8b49c" d="M7 0h1v1h-1zM49 0h1v1h-1zM109 0h1v1h-1zM113 0h1v1h-1zM117 0h1v1h-1zM5 1h1v1h-1zM20 1h1v1h-1zM46 1h1v1h-1zM69 2h1v1h-1zM78 2h1v1h-1zM150 2h1v1h-1zM220 2h1v1h-1zM1 3h1v1h-1zM36 3h1v1h-1zM80 3h1v1h-1zM132 3h1v1h-1zM173 3h1v1h-1zM12 4h1v1h-1zM15 4h1v1h-1zM32 4h1v1h-1zM60 4h1v1h-1zM70 4h1v1h-1zM261 4h1v1h-1zM266 4h1v1h-1zM4 5h1v1h-1zM40 5h1v1h-1zM111 5h1v1h-1zM262 5h1v1h-1zM229 6h1v1h-1zM48 7h1v1h-1zM167 7h1v1h-1zM243 7h1v1h-1zM260 7h1v1h-1zM49 8h2v1h-2zM63 8h1v1h-1zM123 8h1v1h-1zM162 8h1v1h-1zM193 8h1v1h-1zM241 8h1v1h-1zM30 9h1v1h-1zM44 9h1v1h-1zM146 9h1v1h-1zM209 9h1v1h-1zM252 9h1v1h-1z"/>
<path fill="#f0d8cc" d="M8 0h1v1h-1zM60 0h1v1h-1zM63 0h1v1h-1zM125 0h1v1h-1zM93 1h1v1h-1zM196 1h1v1h-1zM5 2h1v1h-1zM112 2h1v1h-1zM178 2h1v1h-1zM181 2h1v1h-1zM202 2h1v1h-1zM229 2h1v1h-1zM238 2h1v1h-1zM47 3h1v1h-1zM93 3h1v1h-1zM98 3h1v1h-1zM51 4h1v1h-1zM114 4h1v1h-1zM119 4h1v1h-1zM122 4h1v1h-1zM226 4h1v1h-1zM55 5h1v1h-1zM108 5h1v1h-1zM147 5h1v1h-1zM205 5h1v1h-1zM41 6h1v1h-1zM104 6h1v1h-1zM175 6h1v1h-1zM201 6h1v1h-1zM17 7h1v1h-1zM45 7h1v1h-1zM78 7h1v1h-1zM261 7h1v1h-1zM25 8h1v1h-1zM30 8h1v1h-1zM34 8h1v1h-1zM44 8h1v1h-1zM160 8h1v1h-1zM180 8h1v1h-1zM210 8h1v1h-1zM0 9h1v1h-1zM17 9h1v1h-1zM19 9h1v1h-1zM39 9h1v1h-1zM71 9h1v1h-1zM98 9h1v1h-1zM102 9h1v1h-1zM139 9h1v1h-1zM142 9h1v1h-1zM157 9h1v1h-1zM166 9h1v1h-1z"/>
<path fill="#c0906c" d="M9 0h1v1h-1zM73 0h1v1h-1zM136 0h1v1h-1zM79 1h1v1h-1zM169 1h1v1h-1zM241 1h1v1h-1zM99 3h1v1h-1zM148 3h1v1h-1zM50 5h1v1h-1zM57 5h1v1h-1zM158 9h1v1h-1zM1 10h1v1h-1zM5 10h1v1h-1zM59 10h1v1h-1zM64 10h1v1h-1zM72 10h1v1h-1zM87 10h2v1h-2zM110 10h1v1h-1zM162 10h1v1h-1zM216 10h1v1h-1zM242 10h1v1h-1z"/>
<path fill="#cc9c84" d="M10 0h1v1h-1zM28 0h1v1h-1zM32 0h2v1h-2zM40 0h1v1h-1zM92 0h1v1h-1zM107 0h1v1h-1zM137 0h1v1h-1zM157 0h1v1h-1zM3 1h2v1h-2zM16 1h1v1h-1zM38 1h1v1h-1zM68 1h1v1h-1zM70 1h1v1h-1zM78 1h1v1h-1zM80 1h1v1h-1zM108 1h1v1h-1zM131 1h1v1h-1zM148 1h1v1h-1zM156 1h2v1h-2zM171 1h1v1h-1zM193 1h1v1h-1zM206 1h1v1h-1zM216 1h1v1h-1zM221 1h1v1h-1zM263 1h1v1h-1zM65 2h1v1h-1zM80 2h1v1h-1zM132 2h1v1h-1zM180 2h1v1h-1zM201 2h1v1h-1zM248 2h1v1h-1zM250 2h1v1h-1zM258 2h1v1h-1zM3 3h1v1h-1zM43 3h1v1h-1zM54 3h1v1h-1zM71 3h1v1h-1zM79 3h1v1h-1zM89 3h1v1h-1zM137 3h1v1h-1zM145 3h1v1h-1zM192 3h1v1h-1zM3 4h1v1h-1zM14 4h1v1h-1zM39 4h1v1h-1zM75 4h1v1h-1zM103 4h1v1h-1zM135 4h1v1h-1zM157 4h1v1h-1zM163 4h1v1h-1zM219 4h1v1h-1zM234 4h1v1h-1zM242 4h1v1h-1zM264 4h1v1h-1zM7 5h1v1h-1zM10 5h1v1h-1zM12 5h1v1h-1zM21 5h1v1h-1zM32 5h1v1h-1zM44 5h1v1h-1zM48 5h1v1h-1zM92 5h2v1h-2zM96 5h1v1h-1zM112 5h1v1h-1zM131 5h1v1h-1zM182 5h1v1h-1zM31 6h1v1h-1zM130 6h1v1h-1zM153 6h1v1h-1zM218 6h1v1h-1zM238 6h1v1h-1zM73 7h1v1h-1zM77 7h1v1h-1zM140 7h1v1h-1zM155 7h1v1h-1zM165 7h1v1h-1zM223 7h1v1h-1zM237 7h1v1h-1zM5 8h1v1h-1zM8 8h1v1h-1zM15 8h1v1h-1zM17 8h1v1h-1zM20 8h1v1h-1zM56 8h1v1h-1zM59 8h1v1h-1zM61 8h1v1h-1zM85 8h1v1h-1zM118 8h1v1h-1zM176 8h1v1h-1zM190 8h1v1h-1zM226 8h1v1h-1zM250 8h1v1h-1zM60 9h1v1h-1zM68 9h1v1h-1zM70 9h1v1h-1zM134 9h1v1h-1zM50 10h1v1h-1zM63 10h1v1h-1zM93 10h1v1h-1zM126 10h1v1h-1zM131 10h1v1h-1zM137 10h1v1h-1zM161 10h1v1h-1zM184 10h1v1h-1zM207 10h1v1h-1zM209 10h1v1h-1zM263 10h1v1h-1z"/>
<path fill="#b47860" d="M11 0h1v1h-1zM21 0h1v1h-1zM29 0h1v1h-1zM38 0h1v1h-1zM78 0h1v1h-1zM101 0h1v1h-1zM104 0h1v1h-1zM121 0h1v1h-1zM205 0h1v1h-1zM208 0h1v1h-1zM222 0h1v1h-1zM59 1h1v1h-1zM66 1h1v1h-1zM72 1h1v1h-1zM126 1h1v1h-1zM173 2h1v1h-1zM177 2h1v1h-1zM216 2h1v1h-1zM25 3h1v1h-1zM62 3h1v1h-1zM26 4h1v1h-1zM37 4h1v1h-1zM85 4h1v1h-1zM158 4h1v1h-1zM239 4h1v1h-1zM3 5h1v1h-1zM87 5h1v1h-1zM101 5h1v1h-1zM154 5h1v1h-1zM154 6h1v1h-1zM159 6h1v1h-1zM210 6h1v1h-1zM254 6h1v1h-1zM256 6h1v1h-1zM105 7h1v1h-1zM111 7h1v1h-1zM151 8h1v1h-1zM218 8h1v1h-1zM48 9h1v1h-1zM96 9h1v1h-1zM124 9h1v1h-1zM138 9h1v1h-1z"/>
<path fill="#c0846c" d="M12 0h1v1h-1zM30 0h1v1h-1zM34 0h1v1h-1zM39 0h1v1h-1zM68 0h1v1h-1zM95 0h1v1h-1zM111 0h1v1h-1zM120 0h1v1h-1zM143 0h1v1h-1zM155 0h1v1h-1zM185 0h1v1h-1zM192 0h1v1h-1zM211 0h1v1h-1zM213 0h1v1h-1zM29 1h1v1h-1zM45 1h1v1h-1zM52 1h1v1h-1zM175 1h1v1h-1zM219 1h2v1h-2zM72 2h1v1h-1zM95 2h1v1h-1zM129 2h1v1h-1zM155 2h1v1h-1zM261 2h1v1h-1zM22 3h1v1h-1zM31 3h1v1h-1zM34 3h1v1h-1zM75 3h1v1h-1zM180 3h1v1h-1zM225 3h1v1h-1zM29 4h1v1h-1zM89 4h1v1h-1zM125 4h1v1h-1zM160 4h1v1h-1zM214 4h1v1h-1zM232 4h1v1h-1zM33 5h1v1h-1zM66 5h2v1h-2zM126 5h1v1h-1zM10 6h1v1h-1zM48 6h1v1h-1zM85 6h1v1h-1zM158 6h1v1h-1zM160 6h1v1h-1zM171 6h1v1h-1zM227 6h1v1h-1zM244 6h1v1h-1zM136 7h1v1h-1zM160 7h1v1h-1zM186 7h1v1h-1zM218 7h1v1h-1zM229 7h1v1h-1zM242 7h1v1h-1zM254 7h1v1h-1zM0 8h1v1h-1zM121 8h1v1h-1zM142 8h1v1h-1zM149 8h1v1h-1zM206 8h1v1h-1zM251 8h1v1h-1zM15 9h1v1h-1zM112 9h1v1h-1zM236 9h1v1h-1zM249 9h1v1h-1zM128 10h1v1h-1zM146 10h1v1h-1zM208 10h1v1h-1z"/>
<path fill="#6c78c0" d="M14 0h1v1h-1zM142 0h1v1h-1zM162 0h1v1h-1zM258 0h1v1h-1zM144 1h1v1h-1zM162 1h1v1h-1zM187 1h1v1h-1zM247 1h1v1h-1zM110 2h1v1h-1zM124 2h1v1h-1zM209 2h1v1h-1zM191 3h1v1h-1zM240 3h1v1h-1zM258 3h1v1h-1zM264 3h1v1h-1zM256 4h1v1h-1zM259 4h1v1h-1zM103 5h1v1h-1zM143 5h1v1h-1zM210 5h1v1h-1zM232 5h1v1h-1zM250 5h1v1h-1zM263 5h2v1h-2zM19 6h1v1h-1zM29 6h1v1h-1zM42 6h1v1h-1zM135 6h1v1h-1zM146 6h1v1h-1zM188 6h1v1h-1zM217 6h1v1h-1zM219 6h1v1h-1zM7 7h1v1h-1zM19 8h1v1h-1zM92 8h1v1h-1zM132 8h1v1h-1zM245 8h1v1h-1zM252 8h1v1h-1zM106 9h1v1h-1zM150 9h1v1h-1zM180 9h1v1h-1zM193 9h1v1h-1zM207 9h1v1h-1zM237 9h1v1h-1z"/>
<path fill="#e4d8cc" d="M15 0h1v1h-1zM237 0h1v1h-1zM264 0h1v1h-1zM0 1h1v1h-1zM17 1h1v1h-1zM34 1h1v1h-1zM40 1h1v1h-1zM54 1h1v1h-1zM67 1h1v1h-1zM98 1h1v1h-1zM27 4h1v1h-1zM45 4h1v1h-1zM118 4h1v1h-1zM176 4h1v1h-1zM68 5h1v1h-1zM71 5h1v1h-1zM149 5h1v1h-1zM249 5h1v1h-1zM143 6h1v1h-1zM135 7h1v1h-1zM233 7h1v1h-1zM6 8h1v1h-1zM46 8h1v1h-1zM80 8h1v1h-1zM134 8h1v1h-1zM159 8h1v1h-1zM59 9h1v1h-1zM99 9h1v1h-1zM135 9h1v1h-1z"/>
<path fill="#f0d8d8" d="M16 0h1v1h-1zM44 0h1v1h-1zM51 0h1v1h-1zM172 0h1v1h-1zM251 0h1v1h-1zM57 1h1v1h-1zM118 1h1v1h-1zM150 1h1v1h-1zM213 1h1v1h-1zM18 2h1v1h-1zM46 2h1v1h-1zM184 2h1v1h-1zM234 2h1v1h-1zM260 2h1v1h-1zM264 2h1v1h-1zM126 3h1v1h-1zM58 4h1v1h-1zM86 4h1v1h-1zM123 4h1v1h-1zM130 4h1v1h-1zM29 5h1v1h-1zM77 5h1v1h-1zM128 5h1v1h-1zM119 6h1v1h-1zM136 6h1v1h-1zM144 6h1v1h-1zM178 6h1v1h-1zM209 6h1v1h-1zM245 6h1v1h-1zM9 7h1v1h-1zM76 7h1v1h-1zM212 7h1v1h-1zM164 8h1v1h-1zM187 8h1v1h-1z"/>
<path fill="#a86c48" d="M17 0h1v1h-1zM61 1h1v1h-1zM178 1h1v1h-1zM226 1h1v1h-1zM67 2h1v1h-1zM75 2h1v1h-1zM92 2h1v1h-1zM143 2h1v1h-1zM166 2h1v1h-1zM226 2h1v1h-1zM55 3h1v1h-1zM92 3h1v1h-1zM74 5h1v1h-1zM90 5h2v1h-2zM106 5h1v1h-1zM16 6h1v1h-1zM257 6h1v1h-1zM35 7h1v1h-1zM226 7h1v1h-1zM110 8h1v1h-1zM62 9h1v1h-1zM161 9h1v1h-1zM202 9h1v1h-1z"/>
<path fill="#f0e4d8" d="M18 0h1v1h-1zM65 0h1v1h-1zM77 0h1v1h-1zM97 0h1v1h-1zM218 0h1v1h-1zM1 1h1v1h-1zM33 1h1v1h-1zM69 1h1v1h-1zM85 1h1v1h-1zM23 2h1v1h-1zM62 2h1v1h-1zM254 2h1v1h-1zM19 3h1v1h-1zM45 3h1v1h-1zM63 3h1v1h-1zM90 3h1v1h-1zM97 3h1v1h-1zM230 4h1v1h-1zM257 4h1v1h-1zM38 5h1v1h-1zM41 5h1v1h-1zM46 5h1v1h-1zM167 5h1v1h-1zM230 6h1v1h-1zM114 7h1v1h-1zM175 7h1v1h-1zM232 7h1v1h-1zM3 8h1v1h-1zM13 8h1v1h-1zM62 8h1v1h-1zM70 8h1v1h-1zM94 8h1v1h-1zM156 8h1v1h-1zM232 8h1v1h-1zM54 9h2v1h-2zM63 9h1v1h-1zM200 9h1v1h-1zM213 9h1v1h-1zM234 9h1v1h-1z"/>
<path fill="#e4cccc" d="M20 0h1v1h-1zM105 0h1v1h-1zM224 7h1v1h-1z"/>
<path fill="#f0f0e4" d="M22 0h1v1h-1zM210 0h1v1h-1zM36 1h1v1h-1zM218 2h1v1h-1zM135 3h1v1h-1zM34 4h1v1h-1zM112 4h1v1h-1zM65 5h1v1h-1zM99 5h1v1h-1zM117 5h1v1h-1zM138 6h1v1h-1zM221 6h1v1h-1zM249 6h1v1h-1zM267 6h1v1h-1zM172 7h1v1h-1zM216 7h1v1h-1zM221 7h1v1h-1zM248 7h1v1h-1zM129 8h1v1h-1zM66 9h1v1h-1zM147 9h1v1h-1zM255 9h1v1h-1z"/>
<path fill="#a8a8e4" d="M23 0h1v1h-1zM27 0h1v1h-1zM149 0h1v1h-1zM164 0h2v1h-2zM182 0h1v1h-1zM189 0h1v1h-1zM231 0h2v1h-2zM253 0h1v1h-1zM90 1h1v1h-1zM115 1h1v1h-1zM125 1h1v1h-1zM155 1h1v1h-1zM159 1h1v1h-1zM180 1h1v1h-1zM182 1h1v1h-1zM188 1h1v1h-1zM199 1h1v1h-1zM214 1h1v1h-1zM252 1h1v1h-1zM262 1h1v1h-1zM26 2h1v1h-1zM44 2h1v1h-1zM50 2h1v1h-1zM52 2h1v1h-1zM114 2h2v1h-2zM139 2h1v1h-1zM179 2h1v1h-1zM195 2h1v1h-1zM42 3h1v1h-1zM129 3h1v1h-1zM142 3h1v1h-1zM153 3h1v1h-1zM161 3h1v1h-1zM242 3h1v1h-1zM256 3h1v1h-1zM1 4h1v1h-1zM5 4h1v1h-1zM35 4h1v1h-1zM54 4h1v1h-1zM68 4h1v1h-1zM92 4h1v1h-1zM100 4h1v1h-1zM108 4h1v1h-1zM143 4h1v1h-1zM167 4h1v1h-1zM173 4h1v1h-1zM186 4h1v1h-1zM191 4h1v1h-1zM195 4h1v1h-1zM212 4h1v1h-1zM221 4h1v1h-1zM245 4h1v1h-1zM148 5h1v1h-1zM177 5h1v1h-1zM187 5h1v1h-1zM202 5h1v1h-1zM223 5h1v1h-1zM226 5h1v1h-1zM247 5h1v1h-1zM266 5h1v1h-1zM12 6h1v1h-1zM15 6h1v1h-1zM20 6h1v1h-1zM33 6h1v1h-1zM74 6h1v1h-1zM109 6h1v1h-1zM125 6h1v1h-1zM142 6h1v1h-1zM195 6h1v1h-1zM39 7h1v1h-1zM163 7h1v1h-1zM93 8h1v1h-1zM95 8h1v1h-1zM113 8h1v1h-1zM120 8h1v1h-1zM125 8h1v1h-1zM182 8h1v1h-1zM202 8h1v1h-1zM221 8h1v1h-1zM243 8h1v1h-1zM256 8h1v1h-1zM8 9h1v1h-1zM29 9h1v1h-1zM74 9h1v1h-1zM85 9h1v1h-1zM154 9h1v1h-1zM204 9h1v1h-1zM223 9h1v1h-1zM259 9h1v1h-1z"/>
<path fill="#f0e4e4" d="M24 0h1v1h-1zM69 0h1v1h-1zM89 0h1v1h-1zM224 0h1v1h-1zM10 1h1v1h-1zM110 1h2v1h-2zM147 1h1v1h-1zM209 1h1v1h-1zM12 2h1v1h-1zM31 2h1v1h-1zM252 2h1v1h-1zM10 3h1v1h-1zM21 3h1v1h-1zM100 3h1v1h-1zM123 3h1v1h-1zM28 4h1v1h-1zM48 4h1v1h-1zM139 4h1v1h-1zM174 4h1v1h-1zM39 5h1v1h-1zM51 5h1v1h-1zM88 5h1v1h-1zM122 5h1v1h-1zM57 6h1v1h-1zM179 6h1v1h-1zM227 7h1v1h-1zM252 7h1v1h-1zM262 7h1v1h-1zM23 8h1v1h-1zM107 8h1v1h-1zM167 8h1v1h-1zM219 8h1v1h-1zM37 9h1v1h-1zM47 9h1v1h-1zM77 9h1v1h-1zM84 9h1v1h-1zM86 9h1v1h-1zM114 9h1v1h-1z"/>
<path fill="#d8b4a8" d="M26 0h1v1h-1zM52 0h1v1h-1zM56 0h1v1h-1zM87 0h1v1h-1zM119 0h1v1h-1zM187 0h1v1h-1zM247 0h1v1h-1zM30 1h1v1h-1zM65 1h1v1h-1zM92 1h1v1h-1zM94 1h1v1h-1zM119 1h1v1h-1zM64 2h1v1h-1zM102 2h2v1h-2zM183 2h1v1h-1zM213 2h1v1h-1zM267 2h1v1h-1zM11 3h1v1h-1zM26 3h1v1h-1zM77 3h1v1h-1zM125 3h1v1h-1zM127 3h1v1h-1zM176 3h1v1h-1zM203 3h1v1h-1zM98 4h1v1h-1zM132 4h1v1h-1zM141 4h1v1h-1zM161 4h1v1h-1zM199 4h1v1h-1zM13 5h1v1h-1zM22 5h1v1h-1zM27 5h1v1h-1zM42 5h1v1h-1zM54 5h1v1h-1zM58 5h1v1h-1zM120 5h1v1h-1zM142 5h1v1h-1zM185 5h1v1h-1zM30 6h1v1h-1zM46 6h1v1h-1zM157 6h1v1h-1zM182 6h1v1h-1zM205 6h1v1h-1zM213 6h1v1h-1zM231 6h1v1h-1zM242 6h1v1h-1zM98 7h1v1h-1zM146 7h1v1h-1zM181 7h1v1h-1zM202 7h1v1h-1zM213 7h1v1h-1zM244 7h1v1h-1zM267 7h1v1h-1zM9 8h1v1h-1zM42 8h1v1h-1zM53 8h1v1h-1zM68 8h1v1h-1zM90 8h1v1h-1zM161 8h1v1h-1zM222 8h1v1h-1zM266 8h1v1h-1zM27 9h1v1h-1zM36 9h1v1h-1zM127 9h1v1h-1zM130 9h1v1h-1zM151 9h1v1h-1zM179 9h1v1h-1zM196 9h1v1h-1zM245 9h1v1h-1z"/>
<path fill="#d8d8f0" d="M31 0h1v1h-1zM57 0h1v1h-1zM181 0h1v1h-1zM193 0h1v1h-1zM216 0h1v1h-1zM219 0h1v1h-1zM248 0h1v1h-1zM261 0h1v1h-1zM71 1h1v1h-1zM99 1h1v1h-1zM129 1h1v1h-1zM133 1h1v1h-1zM142 1h1v1h-1zM154 1h1v1h-1zM173 1h1v1h-1zM194 1h1v1h-1zM201 1h1v1h-1zM212 1h1v1h-1zM223 1h1v1h-1zM227 1h1v1h-1zM242 1h1v1h-1zM246 1h1v1h-1zM255 1h1v1h-1zM264 1h1v1h-1zM8 2h1v1h-1zM15 2h1v1h-1zM33 2h2v1h-2zM38 2h1v1h-1zM90 2h1v1h-1zM105 2h1v1h-1zM142 2h1v1h-1zM156 2h1v1h-1zM172 2h1v1h-1zM175 2h2v1h-2zM190 2h1v1h-1zM219 2h1v1h-1zM236 2h1v1h-1zM239 2h1v1h-1zM241 2h1v1h-1zM59 3h2v1h-2zM86 3h1v1h-1zM117 3h1v1h-1zM140 3h1v1h-1zM157 3h1v1h-1zM164 3h1v1h-1zM178 3h1v1h-1zM188 3h1v1h-1zM204 3h1v1h-1zM222 3h1v1h-1zM230 3h1v1h-1zM246 3h1v1h-1zM261 3h1v1h-1zM42 4h1v1h-1zM71 4h1v1h-1zM105 4h1v1h-1zM138 4h1v1h-1zM156 4h1v1h-1zM180 4h2v1h-2zM194 4h1v1h-1zM238 4h1v1h-1zM246 4h1v1h-1zM252 4h1v1h-1zM258 4h1v1h-1zM260 4h1v1h-1zM262 4h1v1h-1zM35 5h1v1h-1zM75 5h1v1h-1zM150 5h1v1h-1zM157 5h1v1h-1zM161 5h1v1h-1zM164 5h1v1h-1zM171 5h1v1h-1zM174 5h1v1h-1zM208 5h1v1h-1zM214 5h1v1h-1zM222 5h1v1h-1zM237 5h2v1h-2zM257 5h1v1h-1zM260 5h1v1h-1zM4 6h1v1h-1zM18 6h1v1h-1zM38 6h1v1h-1zM53 6h1v1h-1zM63 6h1v1h-1zM81 6h1v1h-1zM108 6h1v1h-1zM113 6h1v1h-1zM131 6h1v1h-1zM147 6h1v1h-1zM149 6h1v1h-1zM156 6h1v1h-1zM196 6h1v1h-1zM216 6h1v1h-1zM259 6h1v1h-1zM263 6h1v1h-1zM14 7h1v1h-1zM34 7h1v1h-1zM40 7h1v1h-1zM42 7h1v1h-1zM46 7h1v1h-1zM61 7h1v1h-1zM63 7h1v1h-1zM67 7h1v1h-1zM90 7h1v1h-1zM103 7h1v1h-1zM119 7h1v1h-1zM128 7h2v1h-2zM141 7h1v1h-1zM145 7h1v1h-1zM184 7h1v1h-1zM203 7h1v1h-1zM238 7h1v1h-1zM266 7h1v1h-1zM66 8h1v1h-1zM104 8h1v1h-1zM116 8h1v1h-1zM136 8h1v1h-1zM145 8h1v1h-1zM158 8h1v1h-1zM165 8h1v1h-1zM211 8h1v1h-1zM220 8h1v1h-1zM231 8h1v1h-1zM233 8h1v1h-1zM235 8h1v1h-1zM239 8h1v1h-1zM248 8h1v1h-1zM6 9h1v1h-1zM9 9h1v1h-1zM22 9h1v1h-1zM43 9h1v1h-1zM116 9h1v1h-1zM126 9h1v1h-1zM159 9h1v1h-1zM167 9h1v1h-1zM216 9h1v1h-1zM231 9h1v1h-1zM267 9h1v1h-1z"/>
<path fill="#d8c0a8" d="M35 0h1v1h-1zM45 0h1v1h-1zM191 0h1v1h-1zM220 0h1v1h-1zM266 0h1v1h-1zM19 1h1v1h-1zM23 1h1v1h-1zM48 1h1v1h-1zM84 1h1v1h-1zM87 1h1v1h-1zM114 1h1v1h-1zM225 1h1v1h-1zM20 2h1v1h-1zM88 2h1v1h-1zM116 2h1v1h-1zM196 2h1v1h-1zM67 3h1v1h-1zM102 3h1v1h-1zM189 3h1v1h-1zM83 4h1v1h-1zM90 4h1v1h-1zM0 5h1v1h-1zM20 5h1v1h-1zM98 5h1v1h-1zM104 5h1v1h-1zM244 5h1v1h-1zM64 6h1v1h-1zM251 6h1v1h-1zM258 6h1v1h-1zM138 7h1v1h-1zM168 7h1v1h-1zM193 7h1v1h-1zM35 8h1v1h-1zM100 8h1v1h-1zM102 8h1v1h-1zM126 8h1v1h-1zM197 8h1v1h-1zM45 9h1v1h-1zM67 9h1v1h-1zM87 9h1v1h-1zM103 9h1v1h-1z"/>
<path fill="#7884cc" d="M36 0h1v1h-1zM96 0h1v1h-1zM102 0h1v1h-1zM184 0h1v1h-1zM262 0h1v1h-1zM167 1h1v1h-1zM190 1h1v1h-1zM253 1h2v1h-2zM35 2h2v1h-2zM126 2h1v1h-1zM138 2h1v1h-1zM169 2h2v1h-2zM215 2h1v1h-1zM256 2h1v1h-1zM259 2h1v1h-1zM16 3h1v1h-1zM49 3h1v1h-1zM56 3h1v1h-1zM141 3h1v1h-1zM168 3h2v1h-2zM197 3h2v1h-2zM215 3h1v1h-1zM17 4h1v1h-1zM23 4h1v1h-1zM146 4h1v1h-1zM166 4h1v1h-1zM190 4h1v1h-1zM203 4h1v1h-1zM235 4h1v1h-1zM243 4h1v1h-1zM136 5h1v1h-1zM141 5h1v1h-1zM160 5h1v1h-1zM173 5h1v1h-1zM213 5h1v1h-1zM215 5h1v1h-1zM221 5h1v1h-1zM231 5h1v1h-1zM240 5h1v1h-1zM255 5h1v1h-1zM0 6h1v1h-1zM22 6h1v1h-1zM97 6h1v1h-1zM102 6h1v1h-1zM155 6h1v1h-1zM207 6h1v1h-1zM13 7h1v1h-1zM32 7h1v1h-1zM55 7h1v1h-1zM57 7h1v1h-1zM81 7h1v1h-1zM89 7h1v1h-1zM91 7h1v1h-1zM108 7h1v1h-1zM189 7h2v1h-2zM39 8h1v1h-1zM65 8h1v1h-1zM130 8h1v1h-1zM174 8h1v1h-1zM225 8h1v1h-1zM237 8h1v1h-1zM258 8h1v1h-1zM261 8h1v1h-1zM26 9h1v1h-1zM28 9h1v1h-1zM33 9h1v1h-1zM160 9h1v1h-1zM243 9h1v1h-1z"/>
<path fill="#a86048" d="M37 0h1v1h-1zM84 0h1v1h-1zM154 0h1v1h-1zM255 0h1v1h-1zM176 1h1v1h-1zM6 2h1v1h-1zM186 2h1v1h-1zM227 2h1v1h-1zM263 2h1v1h-1zM65 3h1v1h-1zM68 3h1v1h-1zM113 3h1v1h-1zM22 4h1v1h-1zM33 4h1v1h-1zM67 4h1v1h-1zM63 5h1v1h-1zM49 6h1v1h-1zM67 6h1v1h-1zM106 6h1v1h-1zM248 6h1v1h-1zM253 6h1v1h-1zM230 7h1v1h-1zM246 7h1v1h-1zM43 8h1v1h-1zM45 8h1v1h-1zM115 8h1v1h-1zM56 9h1v1h-1zM89 9h1v1h-1zM162 9h1v1h-1zM229 9h1v1h-1z"/>
<path fill="#cc9c90" d="M43 0h1v1h-1zM32 1h1v1h-1zM104 1h1v1h-1zM151 1h1v1h-1zM17 2h1v1h-1zM32 2h1v1h-1zM41 3h1v1h-1zM81 4h1v1h-1zM72 5h1v1h-1zM86 5h1v1h-1zM119 5h1v1h-1zM184 5h1v1h-1zM176 6h1v1h-1zM181 6h1v1h-1zM86 8h1v1h-1zM111 9h1v1h-1zM171 9h1v1h-1zM230 9h1v1h-1z"/>
<path fill="#c0c0e4" d="M47 0h1v1h-1zM90 0h1v1h-1zM127 0h1v1h-1zM144 0h1v1h-1zM204 0h1v1h-1zM236 0h1v1h-1zM239 0h1v1h-1zM31 1h1v1h-1zM95 1h1v1h-1zM113 1h1v1h-1zM127 1h1v1h-1zM149 1h1v1h-1zM163 1h2v1h-2zM172 1h1v1h-1zM174 1h1v1h-1zM192 1h1v1h-1zM217 1h1v1h-1zM229 1h1v1h-1zM236 1h1v1h-1zM42 2h2v1h-2zM68 2h1v1h-1zM89 2h1v1h-1zM130 2h1v1h-1zM133 2h1v1h-1zM162 2h1v1h-1zM189 2h1v1h-1zM205 2h1v1h-1zM211 2h1v1h-1zM81 3h1v1h-1zM103 3h1v1h-1zM185 3h1v1h-1zM232 3h1v1h-1zM249 3h1v1h-1zM0 4h1v1h-1zM19 4h1v1h-1zM46 4h1v1h-1zM137 4h1v1h-1zM177 4h1v1h-1zM228 4h1v1h-1zM116 5h1v1h-1zM127 5h1v1h-1zM169 5h1v1h-1zM179 5h1v1h-1zM201 5h1v1h-1zM217 5h1v1h-1zM229 5h1v1h-1zM234 5h1v1h-1zM14 6h1v1h-1zM32 6h1v1h-1zM75 6h1v1h-1zM83 6h1v1h-1zM98 6h1v1h-1zM111 6h1v1h-1zM133 6h1v1h-1zM168 6h1v1h-1zM180 6h1v1h-1zM208 6h1v1h-1zM214 6h1v1h-1zM225 6h1v1h-1zM236 6h1v1h-1zM265 6h1v1h-1zM20 7h1v1h-1zM38 7h1v1h-1zM52 7h3v1h-3zM68 7h1v1h-1zM101 7h1v1h-1zM123 7h1v1h-1zM174 7h1v1h-1zM178 7h1v1h-1zM185 7h1v1h-1zM187 7h1v1h-1zM200 7h1v1h-1zM239 7h1v1h-1zM32 8h1v1h-1zM89 8h1v1h-1zM124 8h1v1h-1zM131 8h1v1h-1zM185 8h1v1h-1zM265 8h1v1h-1zM176 9h1v1h-1zM203 9h1v1h-1zM210 9h2v1h-2zM262 9h2v1h-2z"/>
<path fill="#8490d8" d="M48 0h1v1h-1zM171 0h1v1h-1zM177 0h1v1h-1zM267 0h1v1h-1zM230 1h1v1h-1zM121 2h1v1h-1zM141 2h1v1h-1zM164 2h1v1h-1zM152 3h1v1h-1zM199 3h1v1h-1zM220 3h1v1h-1zM263 4h1v1h-1zM168 5h1v1h-1zM170 5h1v1h-1zM172 5h1v1h-1zM140 8h1v1h-1zM183 8h1v1h-1zM194 9h2v1h-2zM257 9h1v1h-1z"/>
<path fill="#cc9078" d="M50 0h1v1h-1zM58 0h1v1h-1zM61 0h2v1h-2zM86 0h1v1h-1zM99 0h1v1h-1zM141 0h1v1h-1zM166 0h1v1h-1zM74 1h1v1h-1zM143 1h1v1h-1zM158 1h1v1h-1zM10 2h1v1h-1zM40 2h1v1h-1zM70 2h1v1h-1zM224 2h1v1h-1zM6 3h1v1h-1zM20 3h1v1h-1zM114 3h1v1h-1zM7 4h1v1h-1zM10 4h1v1h-1zM36 4h1v1h-1zM73 4h1v1h-1zM91 4h1v1h-1zM94 4h1v1h-1zM114 5h1v1h-1zM206 6h1v1h-1zM233 6h1v1h-1zM43 7h1v1h-1zM162 7h1v1h-1zM253 7h1v1h-1zM255 7h1v1h-1zM16 8h1v1h-1zM24 8h1v1h-1zM119 8h1v1h-1zM57 9h1v1h-1zM117 9h1v1h-1zM125 9h1v1h-1zM128 9h1v1h-1zM164 9h1v1h-1zM11 10h1v1h-1zM17 10h1v1h-1zM20 10h1v1h-1zM36 10h1v1h-1zM56 10h1v1h-1zM91 10h1v1h-1zM118 10h1v1h-1zM125 10h1v1h-1zM132 10h1v1h-1zM148 10h1v1h-1zM150 10h1v1h-1zM157 10h1v1h-1zM183 10h1v1h-1zM191 10h1v1h-1z"/>
<path fill="#4860b4" d="M54 0h1v1h-1zM94 0h1v1h-1zM100 0h1v1h-1zM259 0h1v1h-1zM177 1h1v1h-1zM100 2h1v1h-1zM204 2h1v1h-1zM51 3h1v1h-1zM170 3h1v1h-1zM183 3h1v1h-1zM235 3h2v1h-2zM267 3h1v1h-1zM40 4h2v1h-2zM65 4h1v1h-1zM133 4h1v1h-1zM245 5h1v1h-1zM62 6h1v1h-1zM82 6h1v1h-1zM129 6h1v1h-1zM152 6h1v1h-1zM27 7h1v1h-1zM36 7h1v1h-1zM65 7h1v1h-1zM209 8h1v1h-1zM229 8h1v1h-1zM118 9h1v1h-1zM177 9h1v1h-1z"/>
<path fill="#c08460" d="M55 0h1v1h-1zM71 0h1v1h-1zM103 0h1v1h-1zM122 0h1v1h-1zM134 0h1v1h-1zM9 1h1v1h-1zM49 2h1v1h-1zM152 2h2v1h-2zM235 2h1v1h-1zM0 3h1v1h-1zM7 3h1v1h-1zM23 3h1v1h-1zM28 3h1v1h-1zM50 3h1v1h-1zM69 3h1v1h-1zM91 3h1v1h-1zM25 4h1v1h-1zM49 4h1v1h-1zM110 4h1v1h-1zM198 4h1v1h-1zM45 5h1v1h-1zM156 5h1v1h-1zM118 6h1v1h-1zM200 6h1v1h-1zM261 6h1v1h-1zM241 7h1v1h-1zM40 9h1v1h-1zM121 9h1v1h-1zM172 9h1v1h-1zM16 10h1v1h-1zM19 10h1v1h-1zM48 10h1v1h-1zM61 10h1v1h-1zM66 10h1v1h-1zM69 10h1v1h-1zM95 10h1v1h-1zM104 10h1v1h-1zM111 10h1v1h-1zM138 10h1v1h-1zM143 10h1v1h-1zM145 10h1v1h-1zM155 10h1v1h-1zM171 10h1v1h-1zM175 10h1v1h-1zM203 10h1v1h-1zM210 10h1v1h-1zM219 10h1v1h-1zM222 10h1v1h-1zM225 10h1v1h-1zM229 10h1v1h-1zM237 10h1v1h-1zM262 10h1v1h-1z"/>
<path fill="#e4c0b4" d="M59 0h1v1h-1zM75 0h1v1h-1zM79 0h1v1h-1zM159 0h1v1h-1zM170 0h1v1h-1zM203 0h1v1h-1zM229 0h1v1h-1zM28 1h1v1h-1zM49 1h1v1h-1zM51 1h1v1h-1zM60 1h1v1h-1zM75 1h1v1h-1zM81 1h1v1h-1zM197 1h1v1h-1zM204 1h2v1h-2zM210 1h1v1h-1zM234 1h1v1h-1zM238 1h1v1h-1zM60 2h1v1h-1zM144 2h1v1h-1zM207 2h1v1h-1zM4 3h1v1h-1zM38 3h3v1h-3zM88 3h1v1h-1zM101 3h1v1h-1zM111 3h1v1h-1zM118 3h1v1h-1zM155 3h1v1h-1zM211 3h1v1h-1zM234 3h1v1h-1zM11 4h1v1h-1zM30 4h1v1h-1zM84 4h1v1h-1zM87 4h1v1h-1zM140 4h1v1h-1zM144 4h1v1h-1zM220 4h1v1h-1zM8 5h1v1h-1zM16 5h1v1h-1zM18 5h1v1h-1zM28 5h1v1h-1zM76 5h1v1h-1zM73 6h1v1h-1zM90 6h1v1h-1zM93 6h1v1h-1zM103 6h1v1h-1zM105 6h1v1h-1zM123 6h1v1h-1zM127 6h1v1h-1zM192 6h1v1h-1zM197 6h1v1h-1zM232 6h1v1h-1zM266 6h1v1h-1zM31 7h1v1h-1zM96 7h1v1h-1zM120 7h1v1h-1zM209 7h1v1h-1zM214 7h1v1h-1zM259 7h1v1h-1zM1 8h1v1h-1zM28 8h1v1h-1zM33 8h1v1h-1zM40 8h1v1h-1zM47 8h1v1h-1zM60 8h1v1h-1zM111 8h2v1h-2zM147 8h1v1h-1zM4 9h1v1h-1zM13 9h1v1h-1zM34 9h1v1h-1zM73 9h1v1h-1zM105 9h1v1h-1zM129 9h1v1h-1zM140 9h1v1h-1zM145 9h1v1h-1zM198 9h1v1h-1zM208 9h1v1h-1zM221 9h1v1h-1zM242 9h1v1h-1zM260 9h1v1h-1z"/>
<path fill="#b47854" d="M64 0h1v1h-1zM123 0h1v1h-1zM227 0h1v1h-1zM2 1h1v1h-1zM25 1h1v1h-1zM107 1h1v1h-1zM86 2h1v1h-1zM140 2h1v1h-1zM159 2h1v1h-1zM233 2h1v1h-1zM17 3h1v1h-1zM108 3h1v1h-1zM53 4h1v1h-1zM120 4h1v1h-1zM229 4h1v1h-1zM11 5h1v1h-1zM14 5h1v1h-1zM26 5h1v1h-1zM261 5h1v1h-1zM150 6h1v1h-1zM198 6h1v1h-1zM222 6h1v1h-1zM47 7h1v1h-1zM82 7h1v1h-1zM142 7h1v1h-1zM148 7h1v1h-1zM179 7h1v1h-1zM197 7h1v1h-1zM201 7h1v1h-1zM64 8h1v1h-1zM168 8h1v1h-1zM0 10h1v1h-1zM6 10h1v1h-1zM22 10h1v1h-1zM34 10h2v1h-2zM41 10h1v1h-1zM45 10h2v1h-2zM71 10h1v1h-1zM78 10h1v1h-1zM84 10h1v1h-1zM117 10h1v1h-1zM130 10h1v1h-1zM200 10h1v1h-1zM228 10h1v1h-1zM267 10h1v1h-1z"/>
<path fill="#a8603c" d="M66 0h1v1h-1zM91 0h1v1h-1zM146 0h1v1h-1zM209 0h1v1h-1zM96 1h1v1h-1zM208 1h1v1h-1zM228 1h1v1h-1zM71 2h1v1h-1zM8 3h1v1h-1zM66 3h1v1h-1zM76 3h1v1h-1zM136 3h1v1h-1zM154 3h1v1h-1zM9 5h1v1h-1zM31 5h1v1h-1zM49 5h1v1h-1zM61 5h1v1h-1zM176 5h1v1h-1zM211 6h1v1h-1zM132 7h1v1h-1zM217 7h1v1h-1zM225 7h1v1h-1zM36 8h1v1h-1zM55 8h1v1h-1zM91 8h1v1h-1zM184 8h1v1h-1zM198 8h1v1h-1z"/>
<path fill="#9c5430" d="M67 0h1v1h-1zM15 1h1v1h-1zM66 2h1v1h-1zM9 3h1v1h-1zM15 3h1v1h-1zM221 3h1v1h-1zM202 4h1v1h-1zM37 5h1v1h-1zM79 7h1v1h-1zM152 7h1v1h-1zM250 7h1v1h-1z"/>
<path fill="#e4e4f0" d="M70 0h1v1h-1zM132 0h1v1h-1zM140 0h1v1h-1zM151 0h1v1h-1zM183 0h1v1h-1zM194 0h1v1h-1zM238 0h1v1h-1zM249 0h1v1h-1zM13 1h1v1h-1zM103 1h1v1h-1zM106 1h1v1h-1zM120 1h1v1h-1zM153 1h1v1h-1zM207 1h1v1h-1zM235 1h1v1h-1zM243 1h1v1h-1zM25 2h1v1h-1zM37 2h1v1h-1zM55 2h1v1h-1zM59 2h1v1h-1zM77 2h1v1h-1zM87 2h1v1h-1zM91 2h1v1h-1zM154 2h1v1h-1zM223 2h1v1h-1zM115 3h2v1h-2zM171 3h1v1h-1zM184 3h1v1h-1zM64 4h1v1h-1zM66 4h1v1h-1zM76 4h1v1h-1zM95 4h1v1h-1zM175 4h1v1h-1zM182 4h1v1h-1zM184 4h1v1h-1zM205 4h1v1h-1zM210 4h1v1h-1zM216 4h1v1h-1zM69 5h1v1h-1zM95 5h1v1h-1zM207 5h1v1h-1zM220 5h1v1h-1zM17 6h1v1h-1zM35 6h1v1h-1zM39 6h1v1h-1zM43 6h1v1h-1zM54 6h1v1h-1zM71 6h1v1h-1zM87 6h2v1h-2zM110 6h1v1h-1zM116 6h1v1h-1zM137 6h1v1h-1zM151 6h1v1h-1zM220 6h1v1h-1zM224 6h1v1h-1zM15 7h1v1h-1zM25 7h1v1h-1zM50 7h2v1h-2zM69 7h1v1h-1zM71 7h1v1h-1zM157 7h1v1h-1zM196 7h1v1h-1zM122 8h1v1h-1zM144 8h1v1h-1zM150 8h1v1h-1zM189 8h1v1h-1zM223 8h1v1h-1zM242 8h1v1h-1zM262 8h1v1h-1zM267 8h1v1h-1zM75 9h1v1h-1zM78 9h1v1h-1zM110 9h1v1h-1zM131 9h1v1h-1zM183 9h1v1h-1zM227 9h2v1h-2zM233 9h1v1h-1z"/>
<path fill="#cc9084" d="M74 0h1v1h-1zM80 0h1v1h-1zM30 2h1v1h-1zM215 6h1v1h-1zM151 7h1v1h-1zM249 7h1v1h-1zM22 8h1v1h-1zM25 9h1v1h-1z"/>
<path fill="#ccccf0" d="M82 0h1v1h-1zM124 0h1v1h-1zM131 0h1v1h-1zM228 0h1v1h-1zM246 0h1v1h-1zM14 1h1v1h-1zM22 1h1v1h-1zM35 1h1v1h-1zM44 1h1v1h-1zM86 1h1v1h-1zM128 1h1v1h-1zM130 1h1v1h-1zM195 1h1v1h-1zM239 1h1v1h-1zM248 1h2v1h-2zM58 2h1v1h-1zM97 2h1v1h-1zM113 2h1v1h-1zM117 2h1v1h-1zM122 2h1v1h-1zM136 2h1v1h-1zM146 2h1v1h-1zM165 2h1v1h-1zM171 2h1v1h-1zM185 2h1v1h-1zM246 2h1v1h-1zM253 2h1v1h-1zM262 2h1v1h-1zM29 3h1v1h-1zM82 3h1v1h-1zM112 3h1v1h-1zM150 3h1v1h-1zM156 3h1v1h-1zM187 3h1v1h-1zM200 3h1v1h-1zM206 3h1v1h-1zM208 3h2v1h-2zM218 3h1v1h-1zM228 3h1v1h-1zM238 3h1v1h-1zM250 3h1v1h-1zM266 3h1v1h-1zM47 4h1v1h-1zM82 4h1v1h-1zM99 4h1v1h-1zM121 4h1v1h-1zM129 4h1v1h-1zM170 4h1v1h-1zM188 4h1v1h-1zM192 4h1v1h-1zM200 4h1v1h-1zM211 4h1v1h-1zM224 4h1v1h-1zM233 4h1v1h-1zM248 4h1v1h-1zM251 4h1v1h-1zM73 5h1v1h-1zM102 5h1v1h-1zM124 5h1v1h-1zM130 5h1v1h-1zM152 5h1v1h-1zM159 5h1v1h-1zM190 5h3v1h-3zM195 5h1v1h-1zM216 5h1v1h-1zM236 5h1v1h-1zM252 5h1v1h-1zM256 5h1v1h-1zM258 5h2v1h-2zM7 6h3v1h-3zM25 6h2v1h-2zM36 6h1v1h-1zM40 6h1v1h-1zM66 6h1v1h-1zM94 6h1v1h-1zM141 6h1v1h-1zM148 6h1v1h-1zM187 6h1v1h-1zM199 6h1v1h-1zM243 6h1v1h-1zM18 7h1v1h-1zM29 7h1v1h-1zM41 7h1v1h-1zM49 7h1v1h-1zM59 7h1v1h-1zM84 7h1v1h-1zM94 7h1v1h-1zM102 7h1v1h-1zM106 7h1v1h-1zM112 7h1v1h-1zM127 7h1v1h-1zM149 7h1v1h-1zM169 7h1v1h-1zM173 7h1v1h-1zM251 7h1v1h-1zM78 8h1v1h-1zM87 8h1v1h-1zM97 8h1v1h-1zM103 8h1v1h-1zM154 8h1v1h-1zM170 8h1v1h-1zM253 8h1v1h-1zM260 8h1v1h-1zM1 9h1v1h-1zM10 9h1v1h-1zM81 9h1v1h-1zM94 9h1v1h-1zM155 9h1v1h-1zM201 9h1v1h-1zM206 9h1v1h-1zM214 9h2v1h-2zM218 9h1v1h-1zM224 9h1v1h-1zM250 9h1v1h-1z"/>
<path fill="#d8a89c" d="M83 0h1v1h-1zM202 0h1v1h-1zM47 1h1v1h-1zM132 1h1v1h-1zM135 1h1v1h-1zM202 1h2v1h-2zM218 1h1v1h-1zM76 2h1v1h-1zM106 2h1v1h-1zM120 2h1v1h-1zM125 2h1v1h-1zM137 2h1v1h-1zM245 2h1v1h-1zM35 3h1v1h-1zM74 3h1v1h-1zM110 3h1v1h-1zM121 3h1v1h-1zM124 3h1v1h-1zM146 3h1v1h-1zM162 3h1v1h-1zM214 3h1v1h-1zM2 4h1v1h-1zM56 4h1v1h-1zM168 4h1v1h-1zM2 5h1v1h-1zM60 5h1v1h-1zM64 5h1v1h-1zM79 5h1v1h-1zM100 5h1v1h-1zM165 5h1v1h-1zM185 6h1v1h-1zM204 6h1v1h-1zM137 7h1v1h-1zM153 7h1v1h-1zM222 7h1v1h-1zM245 7h1v1h-1zM10 8h1v1h-1zM29 8h1v1h-1zM58 8h1v1h-1zM67 8h1v1h-1zM81 8h1v1h-1zM178 8h1v1h-1zM12 9h1v1h-1zM24 9h1v1h-1zM120 9h1v1h-1zM123 9h1v1h-1zM182 9h1v1h-1zM212 9h1v1h-1z"/>
<path fill="#d8c0b4" d="M93 0h1v1h-1zM250 0h1v1h-1zM6 1h1v1h-1zM136 1h1v1h-1zM174 3h1v1h-1zM80 4h1v1h-1zM52 5h1v1h-1zM80 5h1v1h-1zM202 6h1v1h-1zM226 6h1v1h-1zM228 6h1v1h-1zM87 7h1v1h-1zM71 8h1v1h-1zM179 8h1v1h-1zM132 9h1v1h-1z"/>
<path fill="#b4b4e4" d="M106 0h1v1h-1zM116 0h1v1h-1zM135 0h1v1h-1zM158 0h1v1h-1zM161 0h1v1h-1zM199 0h1v1h-1zM225 0h1v1h-1zM242 0h1v1h-1zM244 0h1v1h-1zM123 1h1v1h-1zM134 1h1v1h-1zM145 1h1v1h-1zM184 1h2v1h-2zM231 1h2v1h-2zM245 1h1v1h-1zM265 1h1v1h-1zM0 2h1v1h-1zM11 2h1v1h-1zM16 2h1v1h-1zM29 2h1v1h-1zM54 2h1v1h-1zM83 2h1v1h-1zM101 2h1v1h-1zM109 2h1v1h-1zM123 2h1v1h-1zM127 2h1v1h-1zM147 2h1v1h-1zM149 2h1v1h-1zM161 2h1v1h-1zM193 2h1v1h-1zM198 2h1v1h-1zM247 2h1v1h-1zM27 3h1v1h-1zM37 3h1v1h-1zM48 3h1v1h-1zM72 3h1v1h-1zM84 3h1v1h-1zM87 3h1v1h-1zM94 3h1v1h-1zM138 3h2v1h-2zM149 3h1v1h-1zM177 3h1v1h-1zM181 3h2v1h-2zM186 3h1v1h-1zM195 3h1v1h-1zM205 3h1v1h-1zM217 3h1v1h-1zM233 3h1v1h-1zM257 3h1v1h-1zM263 3h1v1h-1zM4 4h1v1h-1zM13 4h1v1h-1zM79 4h1v1h-1zM97 4h1v1h-1zM113 4h1v1h-1zM147 4h1v1h-1zM154 4h1v1h-1zM197 4h1v1h-1zM97 5h1v1h-1zM121 5h1v1h-1zM163 5h1v1h-1zM166 5h1v1h-1zM186 5h1v1h-1zM224 5h1v1h-1zM227 5h1v1h-1zM235 5h1v1h-1zM239 5h1v1h-1zM242 5h2v1h-2zM5 6h1v1h-1zM52 6h1v1h-1zM55 6h1v1h-1zM65 6h1v1h-1zM78 6h1v1h-1zM91 6h1v1h-1zM139 6h1v1h-1zM186 6h1v1h-1zM194 6h1v1h-1zM234 6h1v1h-1zM240 6h1v1h-1zM1 7h1v1h-1zM12 7h1v1h-1zM19 7h1v1h-1zM28 7h1v1h-1zM72 7h1v1h-1zM92 7h1v1h-1zM107 7h1v1h-1zM109 7h1v1h-1zM147 7h1v1h-1zM159 7h1v1h-1zM236 7h1v1h-1zM51 8h1v1h-1zM143 8h1v1h-1zM146 8h1v1h-1zM152 8h1v1h-1zM166 8h1v1h-1zM172 8h1v1h-1zM201 8h1v1h-1zM215 8h1v1h-1zM263 8h2v1h-2zM14 9h1v1h-1zM16 9h1v1h-1zM35 9h1v1h-1zM52 9h1v1h-1zM82 9h1v1h-1zM95 9h1v1h-1zM115 9h1v1h-1zM170 9h1v1h-1zM189 9h1v1h-1zM219 9h2v1h-2zM241 9h1v1h-1zM247 9h2v1h-2zM258 9h1v1h-1zM265 9h1v1h-1z"/>
<path fill="#cca890" d="M108 0h1v1h-1zM126 0h1v1h-1zM175 0h1v1h-1zM188 0h1v1h-1zM221 0h1v1h-1zM223 0h1v1h-1zM235 0h1v1h-1zM256 0h1v1h-1zM53 1h1v1h-1zM181 1h1v1h-1zM237 1h1v1h-1zM24 2h1v1h-1zM56 2h1v1h-1zM82 2h1v1h-1zM128 2h1v1h-1zM199 2h1v1h-1zM32 3h1v1h-1zM44 3h1v1h-1zM46 3h1v1h-1zM70 3h1v1h-1zM120 3h1v1h-1zM63 4h1v1h-1zM74 4h1v1h-1zM93 4h1v1h-1zM102 4h1v1h-1zM56 5h1v1h-1zM62 5h1v1h-1zM56 6h1v1h-1zM172 6h1v1h-1zM177 6h1v1h-1zM250 6h1v1h-1zM75 7h1v1h-1zM220 7h1v1h-1zM27 8h1v1h-1zM239 9h1v1h-1zM70 10h1v1h-1zM116 10h1v1h-1zM189 10h1v1h-1z"/>
<path fill="#606cc0" d="M112 0h1v1h-1zM163 0h1v1h-1zM200 0h1v1h-1zM206 0h1v1h-1zM214 0h2v1h-2zM186 1h1v1h-1zM224 1h1v1h-1zM259 1h1v1h-1zM52 3h1v1h-1zM107 3h1v1h-1zM159 3h1v1h-1zM241 3h1v1h-1zM244 3h1v1h-1zM6 4h1v1h-1zM8 4h1v1h-1zM16 4h1v1h-1zM150 4h1v1h-1zM217 4h1v1h-1zM197 5h1v1h-1zM6 6h1v1h-1zM13 6h1v1h-1zM47 6h1v1h-1zM161 6h1v1h-1zM163 6h1v1h-1zM193 6h1v1h-1zM237 6h1v1h-1zM11 7h1v1h-1zM80 7h1v1h-1zM170 7h1v1h-1zM191 7h1v1h-1zM194 7h1v1h-1zM88 8h1v1h-1zM135 8h1v1h-1zM155 8h1v1h-1zM195 8h1v1h-1zM240 8h1v1h-1zM255 8h1v1h-1zM257 8h1v1h-1zM72 9h1v1h-1zM136 9h1v1h-1zM199 9h1v1h-1z"/>
<path fill="#a85430" d="M128 0h1v1h-1zM55 1h1v1h-1zM70 6h1v1h-1zM164 6h1v1h-1z"/>
<path fill="#fcfcfc" d="M138 0h1v1h-1zM156 0h1v1h-1zM230 0h1v1h-1zM51 2h1v1h-1zM148 2h1v1h-1zM217 2h1v1h-1zM133 3h1v1h-1zM78 4h1v1h-1zM88 4h1v1h-1zM155 4h1v1h-1zM139 7h1v1h-1zM183 7h1v1h-1zM106 8h1v1h-1zM157 8h1v1h-1zM11 9h1v1h-1zM64 9h1v1h-1zM156 9h1v1h-1zM165 9h1v1h-1z"/>
<path fill="#909cd8" d="M139 0h1v1h-1zM160 0h1v1h-1zM245 0h1v1h-1zM11 1h1v1h-1zM43 1h1v1h-1zM116 1h1v1h-1zM141 1h1v1h-1zM261 1h1v1h-1zM93 2h1v1h-1zM119 2h1v1h-1zM151 2h1v1h-1zM122 3h1v1h-1zM224 3h1v1h-1zM189 4h1v1h-1zM231 4h1v1h-1zM82 5h1v1h-1zM137 5h1v1h-1zM206 5h1v1h-1zM230 5h1v1h-1zM6 7h1v1h-1zM62 7h1v1h-1zM110 7h1v1h-1zM113 7h1v1h-1zM133 8h1v1h-1zM196 8h1v1h-1zM90 9h1v1h-1zM235 9h1v1h-1zM246 9h1v1h-1z"/>
<path fill="#546cc0" d="M145 0h1v1h-1zM196 0h1v1h-1zM257 0h1v1h-1zM4 2h1v1h-1zM7 2h1v1h-1zM85 2h1v1h-1zM206 2h1v1h-1zM207 3h1v1h-1zM253 3h1v1h-1zM183 4h1v1h-1zM244 4h1v1h-1zM188 5h1v1h-1zM265 5h1v1h-1zM37 6h1v1h-1zM239 6h1v1h-1zM24 7h1v1h-1zM33 7h1v1h-1zM52 8h1v1h-1zM188 9h1v1h-1zM217 9h1v1h-1z"/>
<path fill="#9090d8" d="M147 0h1v1h-1zM153 0h1v1h-1zM178 0h1v1h-1zM180 0h1v1h-1zM217 0h1v1h-1zM260 0h1v1h-1zM265 0h1v1h-1zM21 1h1v1h-1zM64 1h1v1h-1zM102 1h1v1h-1zM244 1h1v1h-1zM258 1h1v1h-1zM3 2h1v1h-1zM19 2h1v1h-1zM158 2h1v1h-1zM208 2h1v1h-1zM237 2h1v1h-1zM243 2h1v1h-1zM96 3h1v1h-1zM134 3h1v1h-1zM144 3h1v1h-1zM166 3h1v1h-1zM175 3h1v1h-1zM239 3h1v1h-1zM255 3h1v1h-1zM259 3h1v1h-1zM265 3h1v1h-1zM57 4h1v1h-1zM136 4h1v1h-1zM151 4h1v1h-1zM204 4h1v1h-1zM265 4h1v1h-1zM43 5h1v1h-1zM151 5h1v1h-1zM158 5h1v1h-1zM183 5h1v1h-1zM194 5h1v1h-1zM198 5h2v1h-2zM233 5h1v1h-1zM267 5h1v1h-1zM3 6h1v1h-1zM11 6h1v1h-1zM59 6h1v1h-1zM80 6h1v1h-1zM122 6h1v1h-1zM124 6h1v1h-1zM126 6h1v1h-1zM190 6h1v1h-1zM264 6h1v1h-1zM8 7h1v1h-1zM16 7h1v1h-1zM30 7h1v1h-1zM58 7h1v1h-1zM66 7h1v1h-1zM100 7h1v1h-1zM143 7h1v1h-1zM199 7h1v1h-1zM72 8h1v1h-1zM127 8h1v1h-1zM208 8h1v1h-1zM238 8h1v1h-1zM249 8h1v1h-1zM49 9h1v1h-1zM109 9h1v1h-1zM186 9h1v1h-1zM191 9h1v1h-1zM253 9h1v1h-1zM256 9h1v1h-1zM2 10h1v1h-1zM4 10h1v1h-1zM7 10h4v1h-4zM14 10h2v1h-2zM18 10h1v1h-1zM23 10h4v1h-4zM28 10h1v1h-1zM30 10h4v1h-4zM37 10h3v1h-3zM42 10h3v1h-3zM47 10h1v1h-1zM49 10h1v1h-1zM52 10h4v1h-4zM57 10h1v1h-1zM65 10h1v1h-1zM67 10h2v1h-2zM73 10h1v1h-1zM75 10h3v1h-3zM79 10h5v1h-5zM85 10h2v1h-2zM89 10h2v1h-2zM92 10h1v1h-1zM94 10h1v1h-1zM96 10h1v1h-1zM99 10h3v1h-3zM105 10h1v1h-1zM107 10h3v1h-3zM112 10h4v1h-4zM120 10h5v1h-5zM127 10h1v1h-1zM129 10h1v1h-1zM133 10h1v1h-1zM141 10h2v1h-2zM144 10h1v1h-1zM147 10h1v1h-1zM149 10h1v1h-1zM153 10h2v1h-2zM156 10h1v1h-1zM158 10h3v1h-3zM163 10h8v1h-8zM173 10h2v1h-2zM176 10h3v1h-3zM180 10h1v1h-1zM185 10h2v1h-2zM188 10h1v1h-1zM192 10h7v1h-7zM204 10h1v1h-1zM206 10h1v1h-1zM211 10h2v1h-2zM214 10h2v1h-2zM217 10h2v1h-2zM220 10h1v1h-1zM223 10h1v1h-1zM226 10h2v1h-2zM232 10h4v1h-4zM238 10h4v1h-4zM243 10h1v1h-1zM247 10h4v1h-4zM252 10h1v1h-1zM255 10h3v1h-3zM259 10h1v1h-1zM261 10h1v1h-1zM264 10h1v1h-1z"/>
<path fill="#5460b4" d="M148 0h1v1h-1zM48 2h1v1h-1zM118 2h1v1h-1zM119 3h1v1h-1zM158 3h1v1h-1zM196 3h1v1h-1zM226 3h1v1h-1zM248 3h1v1h-1zM117 4h1v1h-1zM180 5h1v1h-1zM2 7h1v1h-1zM206 7h1v1h-1zM21 8h1v1h-1zM224 8h1v1h-1zM97 9h1v1h-1zM238 9h1v1h-1zM244 9h1v1h-1z"/>
<path fill="#6078c0" d="M150 0h1v1h-1zM160 1h1v1h-1zM211 1h1v1h-1zM267 1h1v1h-1zM39 2h1v1h-1zM190 3h1v1h-1zM254 3h1v1h-1zM59 4h1v1h-1zM118 5h1v1h-1zM146 5h1v1h-1zM175 5h1v1h-1zM225 5h1v1h-1zM28 6h1v1h-1zM246 6h1v1h-1zM64 7h1v1h-1zM104 7h1v1h-1zM118 7h1v1h-1zM247 7h1v1h-1zM200 8h1v1h-1zM192 9h1v1h-1z"/>
<path fill="#f0f0fc" d="M167 0h1v1h-1zM190 0h1v1h-1zM201 0h1v1h-1zM100 1h2v1h-2zM137 1h1v1h-1zM139 1h1v1h-1zM191 1h1v1h-1zM2 2h1v1h-1zM14 2h1v1h-1zM21 2h1v1h-1zM45 2h1v1h-1zM61 2h1v1h-1zM73 2h1v1h-1zM98 2h2v1h-2zM135 2h1v1h-1zM168 2h1v1h-1zM192 2h1v1h-1zM210 2h1v1h-1zM128 3h1v1h-1zM143 3h1v1h-1zM151 3h1v1h-1zM193 3h2v1h-2zM216 3h1v1h-1zM128 4h1v1h-1zM171 4h1v1h-1zM178 4h1v1h-1zM218 4h1v1h-1zM223 4h1v1h-1zM81 5h1v1h-1zM109 5h1v1h-1zM132 5h2v1h-2zM178 5h1v1h-1zM203 5h1v1h-1zM23 6h1v1h-1zM61 6h1v1h-1zM99 6h1v1h-1zM134 6h1v1h-1zM162 6h1v1h-1zM174 6h1v1h-1zM26 7h1v1h-1zM86 7h1v1h-1zM115 7h2v1h-2zM125 7h2v1h-2zM131 7h1v1h-1zM133 7h1v1h-1zM156 7h1v1h-1zM234 7h1v1h-1zM264 7h1v1h-1zM14 8h1v1h-1zM101 8h1v1h-1zM117 8h1v1h-1zM173 8h1v1h-1zM214 8h1v1h-1zM20 9h1v1h-1zM32 9h1v1h-1zM88 9h1v1h-1zM119 9h1v1h-1zM137 9h1v1h-1zM144 9h1v1h-1zM264 9h1v1h-1zM266 9h1v1h-1z"/>
<path fill="#c0c0f0" d="M168 0h1v1h-1zM97 1h1v1h-1zM152 1h1v1h-1zM1 2h1v1h-1zM28 2h1v1h-1zM63 2h1v1h-1zM94 2h1v1h-1zM182 2h1v1h-1zM203 2h1v1h-1zM212 2h1v1h-1zM221 2h1v1h-1zM255 2h1v1h-1zM2 3h1v1h-1zM131 3h1v1h-1zM251 3h1v1h-1zM69 4h1v1h-1zM72 4h1v1h-1zM164 4h1v1h-1zM169 4h1v1h-1zM185 4h1v1h-1zM193 4h1v1h-1zM201 4h1v1h-1zM207 4h2v1h-2zM236 4h1v1h-1zM255 4h1v1h-1zM267 4h1v1h-1zM129 5h1v1h-1zM200 5h1v1h-1zM209 5h1v1h-1zM253 5h1v1h-1zM1 6h1v1h-1zM34 6h1v1h-1zM50 6h1v1h-1zM101 6h1v1h-1zM4 7h1v1h-1zM60 7h1v1h-1zM95 7h1v1h-1zM117 7h1v1h-1zM150 7h1v1h-1zM109 8h1v1h-1zM194 8h1v1h-1zM203 8h1v1h-1zM205 8h1v1h-1zM5 9h1v1h-1zM61 9h1v1h-1zM101 9h1v1h-1zM122 9h1v1h-1zM143 9h1v1h-1zM205 9h1v1h-1zM251 9h1v1h-1z"/>
<path fill="#8484cc" d="M169 0h1v1h-1zM252 0h1v1h-1zM189 1h1v1h-1zM222 1h1v1h-1zM240 1h1v1h-1zM250 1h1v1h-1zM256 1h1v1h-1zM27 2h1v1h-1zM84 2h1v1h-1zM213 4h1v1h-1zM135 5h1v1h-1zM162 5h1v1h-1zM228 5h1v1h-1zM252 6h1v1h-1zM161 7h1v1h-1zM4 8h1v1h-1zM79 8h1v1h-1zM141 8h1v1h-1zM192 8h1v1h-1zM254 8h1v1h-1z"/>
<path fill="#8490cc" d="M176 0h1v1h-1zM77 1h1v1h-1zM124 1h1v1h-1zM260 1h1v1h-1zM187 2h1v1h-1zM212 3h1v1h-1zM131 4h1v1h-1zM187 4h1v1h-1zM206 4h1v1h-1zM240 4h1v1h-1zM250 4h1v1h-1zM193 5h1v1h-1zM218 5h1v1h-1zM2 6h1v1h-1zM96 6h1v1h-1zM112 6h1v1h-1zM115 6h1v1h-1zM169 6h1v1h-1zM3 7h1v1h-1zM22 7h1v1h-1zM74 7h1v1h-1zM74 8h1v1h-1zM212 8h1v1h-1zM228 8h1v1h-1zM230 8h1v1h-1zM133 9h1v1h-1zM141 9h1v1h-1zM174 9h1v1h-1zM254 9h1v1h-1z"/>
<path fill="#b46c48" d="M179 0h1v1h-1zM212 0h1v1h-1zM197 2h1v1h-1zM245 3h1v1h-1zM6 5h1v1h-1zM83 5h1v1h-1zM210 7h1v1h-1zM31 8h1v1h-1zM105 8h1v1h-1zM139 8h1v1h-1zM12 10h1v1h-1zM21 10h1v1h-1zM29 10h1v1h-1zM40 10h1v1h-1zM58 10h1v1h-1zM106 10h1v1h-1zM119 10h1v1h-1zM179 10h1v1h-1zM182 10h1v1h-1zM187 10h1v1h-1zM205 10h1v1h-1zM221 10h1v1h-1zM230 10h2v1h-2zM236 10h1v1h-1zM246 10h1v1h-1zM253 10h1v1h-1zM260 10h1v1h-1zM266 10h1v1h-1z"/>
<path fill="#fcf0f0" d="M195 0h1v1h-1zM198 0h1v1h-1zM82 1h1v1h-1zM89 1h1v1h-1zM242 2h1v1h-1zM24 3h1v1h-1zM53 3h1v1h-1zM58 3h1v1h-1zM109 3h1v1h-1zM18 4h1v1h-1zM50 4h1v1h-1zM106 4h1v1h-1zM116 4h1v1h-1zM148 4h1v1h-1zM153 5h1v1h-1zM140 6h1v1h-1zM145 6h1v1h-1zM173 6h1v1h-1zM183 6h1v1h-1zM166 7h1v1h-1zM195 7h1v1h-1zM204 7h1v1h-1zM207 7h1v1h-1zM231 7h1v1h-1zM263 7h1v1h-1zM2 8h1v1h-1zM37 8h1v1h-1zM204 8h1v1h-1zM152 9h1v1h-1zM169 9h1v1h-1z"/>
<path fill="#6c78cc" d="M240 0h1v1h-1zM179 1h1v1h-1zM145 2h1v1h-1zM202 3h1v1h-1zM260 3h1v1h-1zM107 5h1v1h-1zM204 5h1v1h-1zM79 6h1v1h-1zM86 6h1v1h-1zM70 7h1v1h-1zM134 7h1v1h-1zM65 9h1v1h-1zM69 9h1v1h-1zM190 9h1v1h-1z"/>
<path fill="#7878cc" d="M254 0h1v1h-1zM233 1h1v1h-1zM96 2h1v1h-1zM140 5h1v1h-1zM68 6h2v1h-2zM175 8h1v1h-1zM216 8h1v1h-1zM232 9h1v1h-1z"/>
<path fill="#c07860" d="M58 1h1v1h-1zM76 1h1v1h-1zM161 1h1v1h-1zM214 2h1v1h-1zM64 3h1v1h-1zM83 3h1v1h-1zM95 3h1v1h-1zM179 4h1v1h-1zM19 5h1v1h-1zM196 5h1v1h-1zM0 7h1v1h-1zM38 8h1v1h-1zM178 9h1v1h-1zM97 10h1v1h-1zM181 10h1v1h-1zM190 10h1v1h-1z"/>
<path fill="#a8a8d8" d="M140 1h1v1h-1zM251 1h1v1h-1zM266 1h1v1h-1zM9 2h1v1h-1zM107 2h1v1h-1zM147 3h1v1h-1zM160 3h1v1h-1zM219 3h1v1h-1zM223 3h1v1h-1zM243 3h1v1h-1zM113 5h1v1h-1zM125 5h1v1h-1zM145 5h1v1h-1zM189 5h1v1h-1zM211 5h1v1h-1zM246 5h1v1h-1zM251 5h1v1h-1zM95 6h1v1h-1zM114 6h1v1h-1zM167 6h1v1h-1zM205 7h1v1h-1zM235 7h1v1h-1zM83 8h1v1h-1zM99 8h1v1h-1zM186 8h1v1h-1zM247 8h1v1h-1zM108 9h1v1h-1z"/>
<path fill="#5460c0" d="M170 1h1v1h-1zM188 2h1v1h-1zM251 2h1v1h-1z"/>
<path fill="#3c54b4" d="M215 1h1v1h-1zM81 2h1v1h-1zM108 2h1v1h-1zM200 2h1v1h-1zM196 4h1v1h-1zM123 5h1v1h-1zM155 5h1v1h-1zM76 6h1v1h-1zM21 7h1v1h-1zM96 8h1v1h-1zM163 8h1v1h-1zM188 8h1v1h-1zM222 9h1v1h-1z"/>
<path fill="#e4e4fc" d="M257 1h1v1h-1zM41 2h1v1h-1zM265 2h1v1h-1zM105 3h2v1h-2zM9 4h1v1h-1zM115 4h1v1h-1zM227 4h1v1h-1zM7 8h1v1h-1zM108 8h1v1h-1z"/>
<path fill="#fcfcf0" d="M47 2h1v1h-1zM225 2h1v1h-1z"/>
<path fill="#4854b4" d="M57 2h1v1h-1zM257 2h1v1h-1zM127 4h1v1h-1zM37 7h1v1h-1zM7 9h1v1h-1z"/>
<path fill="#3048a8" d="M252 3h1v1h-1zM159 4h1v1h-1zM237 4h1v1h-1zM212 5h1v1h-1zM248 5h1v1h-1zM44 6h2v1h-2zM217 8h1v1h-1zM227 8h1v1h-1z"/>
<path fill="#e4c0c0" d="M134 4h1v1h-1z"/>
<path fill="#3054a8" d="M241 4h1v1h-1zM241 5h1v1h-1zM88 7h1v1h-1z"/>
<path fill="#3c54a8" d="M10 7h1v1h-1zM97 7h1v1h-1z"/>
<path fill="#f0f0f0" d="M177 7h1v1h-1z"/>
<path fill="#9ca8d8" d="M69 8h1v1h-1zM169 8h1v1h-1zM197 9h1v1h-1z"/>
<path fill="#cca884" d="M3 10h1v1h-1zM74 10h1v1h-1zM152 10h1v1h-1zM265 10h1v1h-1z"/>
<path fill="#cc9c78" d="M60 10h1v1h-1zM98 10h1v1h-1zM102 10h1v1h-1zM135 10h1v1h-1zM172 10h1v1h-1zM199 10h1v1h-1zM201 10h1v1h-1zM213 10h1v1h-1zM224 10h1v1h-1zM244 10h1v1h-1z"/>
<path fill="#b47848" d="M62 10h1v1h-1zM103 10h1v1h-1zM136 10h1v1h-1zM151 10h1v1h-1zM245 10h1v1h-1z"/>
<path fill="#c07854" d="M134 10h1v1h-1zM139 10h1v1h-1zM254 10h1v1h-1z"/>
</g>
<text transform="translate(271.1 373.2) scale(0.77 1)" font-size="5.6" font-weight="bold" stroke="#000" stroke-width="0.15">Risk</text>
<text transform="translate(271.1 388.51) scale(0.86 1)" font-size="6.4" stroke="#000" stroke-width="0.18">MYADM</text>
<text transform="translate(271.1 407.94) scale(0.86 1)" font-size="6.4" stroke="#000" stroke-width="0.18">MPDZ</text>
<text transform="translate(271.1 427.38) scale(0.86 1)" font-size="6.4" stroke="#000" stroke-width="0.18">LTBP2</text>
<text transform="translate(271.1 446.81) scale(0.86 1)" font-size="6.4" stroke="#000" stroke-width="0.18">PAPSS2</text>
<text transform="translate(271.1 466.24) scale(0.86 1)" font-size="6.4" stroke="#000" stroke-width="0.18">DENND4C</text>
<text transform="translate(271.1 485.67) scale(0.86 1)" font-size="6.4" stroke="#000" stroke-width="0.18">PROK1</text>
<text transform="translate(271.1 505.1) scale(0.86 1)" font-size="6.4" stroke="#000" stroke-width="0.18">DDIT4</text>
<text transform="translate(271.1 524.52) scale(0.86 1)" font-size="6.4" stroke="#000" stroke-width="0.18">IGFBP3</text>
<text transform="translate(271.1 543.96) scale(0.86 1)" font-size="6.4" stroke="#000" stroke-width="0.18">CFD</text>
<text transform="translate(271.1 563.38) scale(0.86 1)" font-size="6.4" stroke="#000" stroke-width="0.18">MMP7</text>
<text transform="translate(271.1 582.82) scale(0.86 1)" font-size="6.4" stroke="#000" stroke-width="0.18">PIGY</text>
<defs><linearGradient id="g212" x1="0" y1="0" x2="0" y2="1"><stop offset="0" stop-color="#9c502d"/><stop offset="0.31" stop-color="#9c502d"/><stop offset="0.43" stop-color="#d4a690"/><stop offset="0.51" stop-color="#ffffff"/><stop offset="0.555" stop-color="#a2a2de"/><stop offset="0.6" stop-color="#2d4ca8"/><stop offset="1" stop-color="#2d4ca8"/></linearGradient></defs>
<rect x="301.1" y="367" width="6.6" height="119.6" fill="url(#g212)"/>
<text x="310.4" y="387" font-size="5.4">4</text>
<text x="310.4" y="408.6" font-size="5.4">2</text>
<text x="310.4" y="429.8" font-size="5.4">0</text>
<text x="310.4" y="451.1" font-size="5.4">-2</text>
<text x="310.4" y="472.4" font-size="5.4">-4</text>
<text transform="translate(314.8 371.6) scale(0.77 1)" font-size="5.6" font-weight="bold" stroke="#000" stroke-width="0.15">Risk</text>
<rect x="314.8" y="373.8" width="7" height="8.2" fill="#3a72b8"/>
<rect x="314.8" y="382" width="7" height="8.1" fill="#e55555"/>
<text transform="translate(323 380.1) scale(0.85 1)" font-size="5.4">low</text>
<text transform="translate(323 388.8) scale(0.85 1)" font-size="5.4">high</text>
<text x="370" y="357.8" font-family="Liberation Serif, serif" font-size="12" fill="#555">F</text>
<rect x="336" y="367.9" width="132.9" height="6" fill="#3a72b8"/>
<rect x="468.9" y="367.9" width="135.1" height="6" fill="#e55555"/>
<g transform="translate(336.00 375.80) scale(1.00000 19.4300)" shape-rendering="auto">
<rect y="0" width="268" height="1" fill="#b099a8"/>
<rect y="1" width="268" height="1" fill="#b59da9"/>
<rect y="2" width="268" height="1" fill="#b6a1b0"/>
<rect y="3" width="268" height="1" fill="#ac9aaf"/>
<rect y="4" width="268" height="1" fill="#b3a2b6"/>
<rect y="5" width="268" height="1" fill="#ad9eb7"/>
<rect y="6" width="268" height="1" fill="#b6a5b8"/>
<rect y="7" width="268" height="1" fill="#b3a4ba"/>
<rect y="8" width="268" height="1" fill="#b2a1b5"/>
<rect y="9" width="268" height="1" fill="#b5a5ba"/>
<rect y="10" width="268" height="1" fill="#836d8e"/>
<path fill="#c0906c" d="M0 0h1v1h-1zM115 2h1v1h-1zM207 3h1v1h-1zM199 6h1v1h-1zM22 7h1v1h-1zM209 7h1v1h-1zM10 9h1v1h-1z"/>
<path fill="#cc9078" d="M1 0h1v1h-1zM8 0h1v1h-1zM66 0h1v1h-1zM89 0h1v1h-1zM197 0h1v1h-1zM27 1h1v1h-1zM39 1h1v1h-1zM49 1h1v1h-1zM62 1h1v1h-1zM71 1h1v1h-1zM128 1h1v1h-1zM26 2h1v1h-1zM220 2h1v1h-1zM256 2h1v1h-1zM150 3h1v1h-1zM218 3h1v1h-1zM4 4h1v1h-1zM78 4h1v1h-1zM150 4h1v1h-1zM154 4h1v1h-1zM158 4h1v1h-1zM124 5h1v1h-1zM96 6h1v1h-1zM111 6h1v1h-1zM254 6h2v1h-2zM67 7h1v1h-1zM79 7h1v1h-1zM126 7h1v1h-1zM130 7h1v1h-1zM173 7h1v1h-1zM198 7h1v1h-1zM207 7h1v1h-1zM256 7h1v1h-1zM5 8h1v1h-1zM20 8h1v1h-1zM25 8h1v1h-1zM100 8h1v1h-1zM106 8h1v1h-1zM112 8h1v1h-1zM122 8h1v1h-1zM214 8h1v1h-1zM51 9h1v1h-1zM92 9h1v1h-1z"/>
<path fill="#b47860" d="M2 0h1v1h-1zM4 0h1v1h-1zM28 0h1v1h-1zM36 0h1v1h-1zM39 0h1v1h-1zM48 0h1v1h-1zM117 0h1v1h-1zM121 0h1v1h-1zM221 0h1v1h-1zM21 1h1v1h-1zM31 1h1v1h-1zM35 1h1v1h-1zM38 1h1v1h-1zM75 1h1v1h-1zM113 1h1v1h-1zM129 1h1v1h-1zM134 1h1v1h-1zM142 1h1v1h-1zM156 1h1v1h-1zM4 2h1v1h-1zM101 2h1v1h-1zM122 2h1v1h-1zM202 2h1v1h-1zM224 2h1v1h-1zM24 3h1v1h-1zM47 3h1v1h-1zM105 3h1v1h-1zM127 3h1v1h-1zM135 3h1v1h-1zM142 3h1v1h-1zM172 3h1v1h-1zM216 3h1v1h-1zM8 4h1v1h-1zM29 4h1v1h-1zM120 4h1v1h-1zM239 4h1v1h-1zM10 5h1v1h-1zM22 5h1v1h-1zM24 5h1v1h-1zM41 5h1v1h-1zM51 5h1v1h-1zM68 5h1v1h-1zM77 5h1v1h-1zM65 6h1v1h-1zM95 6h1v1h-1zM139 6h1v1h-1zM143 6h1v1h-1zM161 6h1v1h-1zM17 8h1v1h-1zM26 8h1v1h-1zM69 8h1v1h-1zM134 8h1v1h-1zM197 8h1v1h-1zM6 9h1v1h-1zM117 9h1v1h-1zM183 9h1v1h-1z"/>
<path fill="#f0d8d8" d="M3 0h1v1h-1zM5 0h1v1h-1zM79 0h1v1h-1zM29 1h1v1h-1zM76 1h1v1h-1zM107 2h1v1h-1zM117 2h1v1h-1zM43 3h1v1h-1zM72 3h1v1h-1zM100 3h1v1h-1zM143 3h1v1h-1zM2 4h1v1h-1zM58 4h1v1h-1zM62 4h1v1h-1zM106 4h1v1h-1zM109 4h1v1h-1zM228 4h1v1h-1zM9 5h1v1h-1zM19 5h1v1h-1zM57 5h1v1h-1zM22 6h1v1h-1zM42 6h1v1h-1zM100 6h1v1h-1zM217 6h1v1h-1zM220 6h1v1h-1zM92 7h1v1h-1zM251 7h1v1h-1zM14 8h1v1h-1zM73 8h1v1h-1zM128 8h1v1h-1zM144 9h1v1h-1z"/>
<path fill="#a8603c" d="M6 0h1v1h-1zM9 0h1v1h-1zM23 0h1v1h-1zM25 0h1v1h-1zM40 0h2v1h-2zM71 0h1v1h-1zM143 0h1v1h-1zM10 1h1v1h-1zM85 1h1v1h-1zM95 1h1v1h-1zM114 1h1v1h-1zM161 1h1v1h-1zM254 1h1v1h-1zM38 2h1v1h-1zM108 2h1v1h-1zM118 2h1v1h-1zM126 2h1v1h-1zM133 2h1v1h-1zM239 2h1v1h-1zM46 3h1v1h-1zM116 3h1v1h-1zM122 3h1v1h-1zM134 3h1v1h-1zM28 4h1v1h-1zM107 4h1v1h-1zM183 4h1v1h-1zM92 5h1v1h-1zM140 6h1v1h-1zM158 6h1v1h-1zM204 6h1v1h-1zM250 6h1v1h-1zM259 6h1v1h-1zM189 7h1v1h-1zM247 7h1v1h-1zM33 8h1v1h-1zM91 8h1v1h-1zM117 8h1v1h-1zM165 8h1v1h-1zM171 8h1v1h-1zM83 9h1v1h-1zM24 10h1v1h-1zM47 10h1v1h-1zM110 10h1v1h-1zM127 10h1v1h-1zM153 10h1v1h-1zM164 10h1v1h-1zM178 10h1v1h-1zM181 10h1v1h-1zM183 10h1v1h-1zM185 10h2v1h-2zM196 10h1v1h-1zM201 10h1v1h-1zM211 10h1v1h-1zM220 10h1v1h-1zM234 10h1v1h-1zM239 10h2v1h-2zM255 10h1v1h-1zM262 10h1v1h-1zM265 10h2v1h-2z"/>
<path fill="#d8a890" d="M7 0h1v1h-1zM16 0h1v1h-1zM29 0h1v1h-1zM47 0h1v1h-1zM54 0h1v1h-1zM159 0h1v1h-1zM12 1h1v1h-1zM52 1h1v1h-1zM220 1h1v1h-1zM224 1h1v1h-1zM127 2h1v1h-1zM173 2h1v1h-1zM204 2h1v1h-1zM228 2h1v1h-1zM20 3h1v1h-1zM23 3h1v1h-1zM84 3h2v1h-2zM9 4h1v1h-1zM67 4h1v1h-1zM128 4h1v1h-1zM141 4h1v1h-1zM16 5h1v1h-1zM151 5h1v1h-1zM158 5h1v1h-1zM92 6h1v1h-1zM130 6h1v1h-1zM224 6h1v1h-1zM244 6h1v1h-1zM34 7h1v1h-1zM110 7h1v1h-1zM225 7h1v1h-1zM230 7h1v1h-1zM246 7h1v1h-1zM7 8h1v1h-1zM74 8h1v1h-1zM118 8h1v1h-1zM17 9h1v1h-1zM26 9h1v1h-1zM72 9h1v1h-1zM157 9h1v1h-1zM228 9h1v1h-1zM264 9h1v1h-1z"/>
<path fill="#cc9c84" d="M10 0h1v1h-1zM13 0h1v1h-1zM51 0h2v1h-2zM55 0h1v1h-1zM103 0h1v1h-1zM246 0h1v1h-1zM6 1h1v1h-1zM41 1h1v1h-1zM43 1h1v1h-1zM67 1h1v1h-1zM98 1h1v1h-1zM108 1h1v1h-1zM115 1h1v1h-1zM123 1h1v1h-1zM136 1h1v1h-1zM144 1h1v1h-1zM196 1h1v1h-1zM239 1h1v1h-1zM12 2h1v1h-1zM31 2h1v1h-1zM70 2h1v1h-1zM86 2h1v1h-1zM124 2h1v1h-1zM130 2h1v1h-1zM132 2h1v1h-1zM137 2h1v1h-1zM160 2h1v1h-1zM192 2h1v1h-1zM4 3h1v1h-1zM8 3h1v1h-1zM57 3h1v1h-1zM138 3h1v1h-1zM0 4h1v1h-1zM15 4h1v1h-1zM19 4h1v1h-1zM77 4h1v1h-1zM98 4h1v1h-1zM126 4h1v1h-1zM151 4h1v1h-1zM155 4h1v1h-1zM160 4h1v1h-1zM216 4h1v1h-1zM45 5h1v1h-1zM50 5h1v1h-1zM80 5h1v1h-1zM88 5h1v1h-1zM90 5h1v1h-1zM96 5h1v1h-1zM143 5h1v1h-1zM150 5h1v1h-1zM189 5h1v1h-1zM115 6h1v1h-1zM180 6h1v1h-1zM39 7h1v1h-1zM59 7h1v1h-1zM97 7h1v1h-1zM171 7h1v1h-1zM213 7h1v1h-1zM236 7h2v1h-2zM250 7h1v1h-1zM263 7h1v1h-1zM22 8h1v1h-1zM29 8h1v1h-1zM44 8h1v1h-1zM58 8h1v1h-1zM65 8h1v1h-1zM70 8h1v1h-1zM76 8h1v1h-1zM87 8h1v1h-1zM101 8h1v1h-1zM113 8h1v1h-1zM125 8h1v1h-1zM142 8h1v1h-1zM2 9h1v1h-1zM53 9h1v1h-1zM57 9h1v1h-1zM59 9h1v1h-1zM65 9h1v1h-1zM93 9h1v1h-1zM150 9h1v1h-1z"/>
<path fill="#c0c0f0" d="M11 0h1v1h-1zM76 0h1v1h-1zM164 0h1v1h-1zM214 0h1v1h-1zM248 0h1v1h-1zM54 1h1v1h-1zM171 1h1v1h-1zM259 1h1v1h-1zM40 2h1v1h-1zM81 2h1v1h-1zM153 2h1v1h-1zM261 2h1v1h-1zM148 3h1v1h-1zM162 3h1v1h-1zM203 3h1v1h-1zM257 3h1v1h-1zM3 4h1v1h-1zM14 4h1v1h-1zM142 4h1v1h-1zM197 4h1v1h-1zM233 4h1v1h-1zM255 4h1v1h-1zM146 5h1v1h-1zM238 5h1v1h-1zM261 5h1v1h-1zM72 6h1v1h-1zM154 6h1v1h-1zM181 6h1v1h-1zM193 6h1v1h-1zM125 7h1v1h-1zM139 7h1v1h-1zM238 8h1v1h-1zM248 8h1v1h-1zM259 8h1v1h-1zM262 8h1v1h-1zM98 9h1v1h-1zM115 9h1v1h-1zM163 9h1v1h-1zM170 9h1v1h-1zM187 9h1v1h-1zM208 9h1v1h-1zM221 9h1v1h-1zM250 9h1v1h-1z"/>
<path fill="#b46c48" d="M12 0h1v1h-1zM115 0h1v1h-1zM132 0h1v1h-1zM16 1h1v1h-1zM104 1h1v1h-1zM6 2h1v1h-1zM195 2h1v1h-1zM1 4h1v1h-1zM11 9h1v1h-1zM78 9h1v1h-1zM131 9h1v1h-1zM191 9h1v1h-1zM76 10h1v1h-1zM103 10h1v1h-1zM131 10h1v1h-1zM136 10h1v1h-1zM138 10h1v1h-1zM147 10h1v1h-1zM152 10h1v1h-1zM167 10h1v1h-1zM174 10h1v1h-1zM205 10h1v1h-1zM229 10h1v1h-1zM245 10h1v1h-1zM254 10h1v1h-1zM258 10h1v1h-1z"/>
<path fill="#e4d8cc" d="M14 0h1v1h-1zM84 0h1v1h-1zM86 0h1v1h-1zM150 0h1v1h-1zM77 1h1v1h-1zM79 1h1v1h-1zM91 1h1v1h-1zM173 1h1v1h-1zM28 2h1v1h-1zM89 2h1v1h-1zM111 2h1v1h-1zM138 2h1v1h-1zM169 2h1v1h-1zM10 3h1v1h-1zM29 3h1v1h-1zM83 3h1v1h-1zM132 3h1v1h-1zM241 3h1v1h-1zM103 4h1v1h-1zM180 4h1v1h-1zM18 5h1v1h-1zM223 6h1v1h-1zM228 6h1v1h-1zM49 7h1v1h-1zM210 7h1v1h-1zM242 7h1v1h-1zM68 8h1v1h-1zM94 9h1v1h-1z"/>
<path fill="#d8b49c" d="M15 0h1v1h-1zM64 0h1v1h-1zM142 0h1v1h-1zM3 1h1v1h-1zM53 1h1v1h-1zM63 1h1v1h-1zM155 1h1v1h-1zM32 2h1v1h-1zM39 2h1v1h-1zM79 2h1v1h-1zM91 2h1v1h-1zM229 2h1v1h-1zM260 2h1v1h-1zM27 3h1v1h-1zM65 3h1v1h-1zM76 3h1v1h-1zM79 3h1v1h-1zM92 3h1v1h-1zM111 3h1v1h-1zM140 3h1v1h-1zM211 3h1v1h-1zM233 3h1v1h-1zM21 4h1v1h-1zM35 4h1v1h-1zM50 4h1v1h-1zM80 4h1v1h-1zM122 4h1v1h-1zM149 4h1v1h-1zM5 5h1v1h-1zM47 5h1v1h-1zM78 5h1v1h-1zM51 6h1v1h-1zM123 6h1v1h-1zM252 6h1v1h-1zM258 6h1v1h-1zM47 8h1v1h-1zM28 9h1v1h-1zM31 9h1v1h-1zM41 9h1v1h-1zM71 9h1v1h-1z"/>
<path fill="#e4c0b4" d="M17 0h1v1h-1zM59 0h1v1h-1zM62 0h1v1h-1zM67 0h1v1h-1zM78 0h1v1h-1zM102 0h1v1h-1zM131 0h1v1h-1zM22 1h1v1h-1zM55 1h1v1h-1zM100 1h1v1h-1zM117 1h1v1h-1zM215 1h1v1h-1zM72 2h1v1h-1zM88 2h1v1h-1zM106 2h1v1h-1zM114 2h1v1h-1zM240 2h1v1h-1zM250 2h1v1h-1zM80 3h1v1h-1zM98 3h1v1h-1zM17 4h1v1h-1zM43 4h1v1h-1zM55 4h1v1h-1zM71 4h1v1h-1zM97 4h1v1h-1zM135 4h1v1h-1zM185 4h1v1h-1zM3 5h1v1h-1zM15 5h1v1h-1zM17 6h1v1h-1zM73 6h1v1h-1zM162 6h1v1h-1zM164 6h1v1h-1zM197 6h1v1h-1zM232 6h1v1h-1zM237 6h1v1h-1zM251 6h1v1h-1zM256 6h1v1h-1zM48 7h1v1h-1zM53 7h1v1h-1zM107 7h1v1h-1zM223 7h1v1h-1zM228 7h1v1h-1zM40 8h1v1h-1zM104 8h2v1h-2zM147 8h2v1h-2zM157 8h1v1h-1zM188 8h1v1h-1zM228 8h1v1h-1zM29 9h1v1h-1zM69 9h1v1h-1zM87 9h1v1h-1z"/>
<path fill="#e4ccc0" d="M18 0h1v1h-1zM63 0h1v1h-1zM81 0h2v1h-2zM87 0h1v1h-1zM92 0h1v1h-1zM114 0h1v1h-1zM116 0h1v1h-1zM133 0h1v1h-1zM182 0h1v1h-1zM239 0h1v1h-1zM11 1h1v1h-1zM57 1h1v1h-1zM72 1h2v1h-2zM110 1h1v1h-1zM141 1h1v1h-1zM143 1h1v1h-1zM0 2h1v1h-1zM17 2h1v1h-1zM21 2h1v1h-1zM52 2h1v1h-1zM56 2h1v1h-1zM65 2h1v1h-1zM214 2h1v1h-1zM258 2h1v1h-1zM0 3h1v1h-1zM21 3h1v1h-1zM25 3h1v1h-1zM40 3h1v1h-1zM59 3h1v1h-1zM90 3h1v1h-1zM97 3h1v1h-1zM101 3h2v1h-2zM126 3h1v1h-1zM208 3h1v1h-1zM22 4h1v1h-1zM69 4h1v1h-1zM73 4h1v1h-1zM153 4h1v1h-1zM170 4h1v1h-1zM193 4h2v1h-2zM17 5h1v1h-1zM42 5h1v1h-1zM49 5h1v1h-1zM61 5h1v1h-1zM64 5h1v1h-1zM69 5h1v1h-1zM93 5h1v1h-1zM123 5h1v1h-1zM141 6h1v1h-1zM159 6h1v1h-1zM203 6h1v1h-1zM207 6h1v1h-1zM209 6h1v1h-1zM233 6h1v1h-1zM7 7h1v1h-1zM112 7h1v1h-1zM172 7h1v1h-1zM174 7h2v1h-2zM180 7h1v1h-1zM192 7h1v1h-1zM204 7h1v1h-1zM216 7h1v1h-1zM231 7h1v1h-1zM257 7h2v1h-2zM262 7h1v1h-1zM1 8h1v1h-1zM37 8h1v1h-1zM71 8h1v1h-1zM78 8h2v1h-2zM93 8h1v1h-1zM102 8h1v1h-1zM141 8h1v1h-1zM8 9h1v1h-1zM20 9h2v1h-2zM35 9h1v1h-1zM40 9h1v1h-1zM76 9h1v1h-1zM84 9h1v1h-1zM89 9h1v1h-1zM121 9h1v1h-1zM142 9h1v1h-1zM175 9h1v1h-1zM190 9h1v1h-1z"/>
<path fill="#c0846c" d="M19 0h1v1h-1zM31 0h1v1h-1zM45 0h1v1h-1zM77 0h1v1h-1zM80 0h1v1h-1zM95 0h1v1h-1zM169 0h1v1h-1zM220 0h1v1h-1zM9 1h1v1h-1zM13 1h1v1h-1zM15 1h1v1h-1zM33 1h1v1h-1zM60 1h1v1h-1zM102 1h1v1h-1zM105 1h1v1h-1zM116 1h1v1h-1zM139 1h1v1h-1zM147 1h1v1h-1zM174 1h1v1h-1zM69 2h1v1h-1zM103 2h1v1h-1zM139 2h1v1h-1zM159 2h1v1h-1zM178 2h1v1h-1zM203 2h1v1h-1zM227 2h1v1h-1zM6 3h1v1h-1zM9 3h1v1h-1zM11 3h1v1h-1zM18 3h1v1h-1zM50 3h1v1h-1zM67 3h1v1h-1zM75 3h1v1h-1zM39 4h1v1h-1zM48 4h2v1h-2zM59 4h1v1h-1zM81 4h1v1h-1zM84 4h1v1h-1zM101 4h1v1h-1zM157 4h1v1h-1zM59 5h1v1h-1zM122 5h1v1h-1zM130 5h1v1h-1zM175 5h1v1h-1zM43 6h1v1h-1zM108 6h1v1h-1zM152 6h1v1h-1zM155 6h1v1h-1zM169 6h1v1h-1zM171 6h1v1h-1zM200 6h1v1h-1zM202 6h1v1h-1zM213 6h1v1h-1zM46 7h1v1h-1zM82 7h1v1h-1zM96 7h1v1h-1zM149 7h1v1h-1zM169 7h1v1h-1zM8 8h1v1h-1zM24 8h1v1h-1zM46 8h1v1h-1zM49 8h1v1h-1zM77 8h1v1h-1zM139 8h1v1h-1zM47 9h1v1h-1zM74 9h1v1h-1zM139 9h1v1h-1zM207 9h1v1h-1zM210 9h1v1h-1zM248 9h1v1h-1zM262 9h1v1h-1z"/>
<path fill="#b46c54" d="M20 0h1v1h-1zM34 0h1v1h-1zM73 0h1v1h-1zM118 0h1v1h-1zM146 0h1v1h-1zM187 0h1v1h-1zM209 0h1v1h-1zM241 0h1v1h-1zM166 1h1v1h-1zM35 2h1v1h-1zM47 2h1v1h-1zM95 2h1v1h-1zM14 3h1v1h-1zM56 3h1v1h-1zM70 3h1v1h-1zM77 3h1v1h-1zM107 3h1v1h-1zM6 4h1v1h-1zM89 4h1v1h-1zM92 4h1v1h-1zM21 5h1v1h-1zM56 5h1v1h-1zM48 6h1v1h-1zM196 6h1v1h-1zM198 6h1v1h-1zM183 7h2v1h-2zM248 7h1v1h-1zM85 8h1v1h-1zM50 9h1v1h-1zM66 9h1v1h-1zM85 9h2v1h-2zM241 9h1v1h-1z"/>
<path fill="#9c5430" d="M21 0h1v1h-1zM37 0h1v1h-1zM43 0h1v1h-1zM53 0h1v1h-1zM58 0h1v1h-1zM136 0h1v1h-1zM144 0h1v1h-1zM183 0h1v1h-1zM195 0h1v1h-1zM17 1h1v1h-1zM23 1h1v1h-1zM26 1h1v1h-1zM44 1h1v1h-1zM46 1h1v1h-1zM61 1h1v1h-1zM64 1h1v1h-1zM109 1h1v1h-1zM122 1h1v1h-1zM178 1h1v1h-1zM240 1h1v1h-1zM109 2h1v1h-1zM147 2h1v1h-1zM172 2h1v1h-1zM242 2h1v1h-1zM13 3h1v1h-1zM30 3h1v1h-1zM34 3h1v1h-1zM41 3h1v1h-1zM45 3h1v1h-1zM58 3h1v1h-1zM64 3h1v1h-1zM81 3h1v1h-1zM88 3h1v1h-1zM110 3h1v1h-1zM137 3h1v1h-1zM12 4h1v1h-1zM36 4h2v1h-2zM143 4h1v1h-1zM232 4h1v1h-1zM33 5h3v1h-3zM43 5h1v1h-1zM102 5h1v1h-1zM45 6h1v1h-1zM61 6h1v1h-1zM76 6h1v1h-1zM146 6h1v1h-1zM149 6h1v1h-1zM173 6h1v1h-1zM222 6h1v1h-1zM261 6h1v1h-1zM2 7h1v1h-1zM94 7h1v1h-1zM109 7h1v1h-1zM123 7h1v1h-1zM195 7h2v1h-2zM215 7h1v1h-1zM3 8h1v1h-1zM9 8h1v1h-1zM11 8h1v1h-1zM15 8h1v1h-1zM97 8h1v1h-1zM158 8h1v1h-1zM256 8h1v1h-1zM12 9h1v1h-1zM16 9h1v1h-1zM124 9h1v1h-1zM165 9h1v1h-1zM171 9h1v1h-1zM215 9h1v1h-1zM249 9h1v1h-1zM94 10h1v1h-1zM156 10h1v1h-1zM162 10h1v1h-1zM208 10h1v1h-1zM219 10h1v1h-1zM251 10h1v1h-1z"/>
<path fill="#d8a89c" d="M22 0h1v1h-1zM56 0h1v1h-1zM60 0h1v1h-1zM65 0h1v1h-1zM83 0h1v1h-1zM91 0h1v1h-1zM264 0h1v1h-1zM4 1h1v1h-1zM20 1h1v1h-1zM30 1h1v1h-1zM69 1h1v1h-1zM84 1h1v1h-1zM88 1h1v1h-1zM90 1h1v1h-1zM99 1h1v1h-1zM141 2h1v1h-1zM151 2h1v1h-1zM157 2h1v1h-1zM189 2h1v1h-1zM249 2h1v1h-1zM251 2h1v1h-1zM36 3h1v1h-1zM42 3h1v1h-1zM18 4h1v1h-1zM33 4h1v1h-1zM44 4h1v1h-1zM61 4h1v1h-1zM66 4h1v1h-1zM76 4h1v1h-1zM82 4h1v1h-1zM102 4h1v1h-1zM115 4h1v1h-1zM215 4h1v1h-1zM11 5h1v1h-1zM27 5h1v1h-1zM30 5h2v1h-2zM37 5h1v1h-1zM44 5h1v1h-1zM65 5h1v1h-1zM106 5h1v1h-1zM160 5h1v1h-1zM164 5h1v1h-1zM178 5h1v1h-1zM205 5h1v1h-1zM170 6h1v1h-1zM183 6h1v1h-1zM236 6h1v1h-1zM80 7h1v1h-1zM156 7h1v1h-1zM159 7h1v1h-1zM170 7h1v1h-1zM0 8h1v1h-1zM32 9h1v1h-1zM52 9h1v1h-1zM73 9h1v1h-1zM125 9h1v1h-1zM186 9h1v1h-1z"/>
<path fill="#c08460" d="M24 0h1v1h-1zM50 0h1v1h-1zM125 0h1v1h-1zM0 1h1v1h-1zM93 1h1v1h-1zM140 1h1v1h-1zM223 4h1v1h-1zM70 5h1v1h-1zM5 7h1v1h-1zM267 7h1v1h-1zM63 8h1v1h-1zM136 8h2v1h-2zM180 9h1v1h-1zM9 10h1v1h-1zM137 10h1v1h-1zM213 10h1v1h-1zM250 10h1v1h-1z"/>
<path fill="#b47854" d="M26 0h1v1h-1zM106 0h1v1h-1zM109 0h1v1h-1zM186 0h1v1h-1zM66 1h1v1h-1zM80 1h1v1h-1zM250 1h1v1h-1zM2 2h1v1h-1zM158 2h1v1h-1zM3 3h1v1h-1zM5 3h1v1h-1zM7 3h1v1h-1zM17 3h1v1h-1zM19 3h1v1h-1zM38 3h1v1h-1zM55 3h1v1h-1zM112 4h1v1h-1zM130 4h1v1h-1zM162 4h1v1h-1zM191 4h1v1h-1zM222 4h1v1h-1zM14 5h1v1h-1zM28 5h1v1h-1zM32 5h1v1h-1zM62 5h1v1h-1zM74 5h1v1h-1zM79 5h1v1h-1zM94 5h1v1h-1zM52 6h1v1h-1zM147 6h1v1h-1zM218 6h1v1h-1zM203 7h1v1h-1zM27 8h1v1h-1zM53 8h1v1h-1zM60 8h1v1h-1zM177 8h1v1h-1zM13 9h1v1h-1zM30 9h1v1h-1zM49 9h1v1h-1zM99 9h1v1h-1zM161 9h1v1h-1zM14 10h1v1h-1zM59 10h1v1h-1zM75 10h1v1h-1zM81 10h1v1h-1zM104 10h1v1h-1zM113 10h1v1h-1zM122 10h1v1h-1zM126 10h1v1h-1zM132 10h1v1h-1zM141 10h1v1h-1zM157 10h1v1h-1zM160 10h1v1h-1zM163 10h1v1h-1zM169 10h1v1h-1zM180 10h1v1h-1zM195 10h1v1h-1zM215 10h1v1h-1zM231 10h1v1h-1zM247 10h1v1h-1zM256 10h2v1h-2zM263 10h1v1h-1z"/>
<path fill="#e4c0c0" d="M27 0h1v1h-1zM138 1h1v1h-1zM163 5h1v1h-1z"/>
<path fill="#f0d8cc" d="M30 0h1v1h-1zM152 0h1v1h-1zM254 0h1v1h-1zM257 0h1v1h-1zM51 2h1v1h-1zM55 2h1v1h-1zM74 2h1v1h-1zM77 2h1v1h-1zM119 2h1v1h-1zM154 2h1v1h-1zM174 2h1v1h-1zM222 2h1v1h-1zM266 2h1v1h-1zM93 3h1v1h-1zM68 4h1v1h-1zM94 4h1v1h-1zM108 4h1v1h-1zM207 4h1v1h-1zM212 4h1v1h-1zM67 5h1v1h-1zM95 5h1v1h-1zM181 5h1v1h-1zM84 6h1v1h-1zM129 6h1v1h-1zM156 6h1v1h-1zM195 6h1v1h-1zM253 6h1v1h-1zM44 7h1v1h-1zM241 7h1v1h-1zM253 7h1v1h-1zM259 7h1v1h-1zM261 7h1v1h-1zM211 8h1v1h-1zM23 9h1v1h-1zM46 9h1v1h-1zM48 9h1v1h-1z"/>
<path fill="#a86048" d="M32 0h1v1h-1zM25 1h1v1h-1zM119 1h1v1h-1zM131 1h2v1h-2zM73 2h1v1h-1zM161 2h1v1h-1zM193 2h1v1h-1zM198 2h1v1h-1zM104 3h1v1h-1zM27 4h1v1h-1zM164 4h1v1h-1zM168 4h1v1h-1zM7 5h1v1h-1zM25 5h1v1h-1zM39 5h1v1h-1zM66 5h1v1h-1zM73 5h1v1h-1zM118 5h1v1h-1zM145 6h1v1h-1zM192 6h1v1h-1zM230 6h1v1h-1zM33 7h1v1h-1zM127 7h1v1h-1zM141 7h1v1h-1zM153 7h1v1h-1zM165 7h1v1h-1zM167 7h1v1h-1zM266 7h1v1h-1zM12 8h1v1h-1zM254 8h1v1h-1zM184 9h1v1h-1z"/>
<path fill="#c09078" d="M33 0h1v1h-1zM46 0h1v1h-1zM97 0h1v1h-1zM135 0h1v1h-1zM224 0h1v1h-1zM65 1h1v1h-1zM124 1h1v1h-1zM130 1h1v1h-1zM180 1h1v1h-1zM190 1h1v1h-1zM19 2h1v1h-1zM23 2h1v1h-1zM102 2h1v1h-1zM150 2h1v1h-1zM170 2h1v1h-1zM183 2h1v1h-1zM196 2h1v1h-1zM219 2h1v1h-1zM248 2h1v1h-1zM12 3h1v1h-1zM16 3h1v1h-1zM37 3h1v1h-1zM32 4h1v1h-1zM40 4h1v1h-1zM63 4h1v1h-1zM72 4h1v1h-1zM104 4h1v1h-1zM111 4h1v1h-1zM174 4h1v1h-1zM231 4h1v1h-1zM257 4h1v1h-1zM2 5h1v1h-1zM4 5h1v1h-1zM40 5h1v1h-1zM58 5h1v1h-1zM260 5h1v1h-1zM263 5h1v1h-1zM4 6h1v1h-1zM24 6h1v1h-1zM50 6h1v1h-1zM58 6h2v1h-2zM74 6h1v1h-1zM121 6h1v1h-1zM134 6h1v1h-1zM166 6h1v1h-1zM168 6h1v1h-1zM216 6h1v1h-1zM231 6h1v1h-1zM264 6h2v1h-2zM100 7h1v1h-1zM133 7h1v1h-1zM158 7h1v1h-1zM202 7h1v1h-1zM219 7h1v1h-1zM10 8h1v1h-1zM19 8h1v1h-1zM28 8h1v1h-1zM56 8h1v1h-1zM67 8h1v1h-1zM90 8h1v1h-1zM92 8h1v1h-1zM116 8h1v1h-1zM173 8h1v1h-1zM19 9h1v1h-1zM43 9h1v1h-1zM58 9h1v1h-1zM75 9h1v1h-1zM126 9h1v1h-1zM188 9h1v1h-1zM226 9h1v1h-1z"/>
<path fill="#d8c0a8" d="M35 0h1v1h-1zM57 0h1v1h-1zM267 0h1v1h-1zM74 1h1v1h-1zM83 1h1v1h-1zM101 1h1v1h-1zM7 2h1v1h-1zM64 2h1v1h-1zM68 2h1v1h-1zM129 2h1v1h-1zM180 2h1v1h-1zM238 2h1v1h-1zM45 4h1v1h-1zM156 4h1v1h-1zM210 4h1v1h-1zM1 5h1v1h-1zM12 5h1v1h-1zM38 5h1v1h-1zM187 6h1v1h-1zM243 6h1v1h-1zM11 7h1v1h-1zM124 7h1v1h-1zM131 7h1v1h-1zM222 7h1v1h-1zM138 9h1v1h-1z"/>
<path fill="#f0e4e4" d="M38 0h1v1h-1zM74 0h1v1h-1zM104 0h2v1h-2zM137 0h1v1h-1zM94 1h1v1h-1zM149 1h1v1h-1zM181 2h1v1h-1zM235 2h1v1h-1zM267 2h1v1h-1zM68 3h1v1h-1zM94 3h1v1h-1zM114 3h1v1h-1zM124 3h1v1h-1zM129 3h1v1h-1zM91 4h1v1h-1zM161 4h1v1h-1zM0 5h1v1h-1zM211 6h1v1h-1zM267 6h1v1h-1zM90 7h1v1h-1zM161 7h1v1h-1zM178 7h1v1h-1zM190 7h1v1h-1zM197 7h1v1h-1zM201 7h1v1h-1zM221 7h1v1h-1zM243 7h1v1h-1zM52 8h1v1h-1zM61 8h1v1h-1zM115 8h1v1h-1zM234 8h1v1h-1zM42 9h1v1h-1zM108 9h1v1h-1z"/>
<path fill="#9090d8" d="M42 0h1v1h-1zM110 0h1v1h-1zM127 0h1v1h-1zM134 0h1v1h-1zM200 0h1v1h-1zM216 0h1v1h-1zM223 0h1v1h-1zM225 0h1v1h-1zM59 1h1v1h-1zM202 1h1v1h-1zM216 1h1v1h-1zM247 1h1v1h-1zM14 2h1v1h-1zM90 2h1v1h-1zM135 2h1v1h-1zM177 2h1v1h-1zM66 3h1v1h-1zM121 3h1v1h-1zM136 3h1v1h-1zM163 3h1v1h-1zM88 4h1v1h-1zM138 4h1v1h-1zM182 4h1v1h-1zM125 5h1v1h-1zM133 5h1v1h-1zM144 5h1v1h-1zM186 5h1v1h-1zM2 6h1v1h-1zM21 6h1v1h-1zM30 6h1v1h-1zM33 6h1v1h-1zM78 6h1v1h-1zM98 6h2v1h-2zM110 6h1v1h-1zM116 6h1v1h-1zM214 6h1v1h-1zM229 6h1v1h-1zM240 6h1v1h-1zM27 7h2v1h-2zM35 7h1v1h-1zM37 7h1v1h-1zM51 7h1v1h-1zM69 7h1v1h-1zM129 7h1v1h-1zM175 8h2v1h-2zM236 8h1v1h-1zM252 8h1v1h-1zM81 9h1v1h-1zM95 9h1v1h-1zM151 9h1v1h-1zM240 9h1v1h-1zM255 9h1v1h-1zM257 9h1v1h-1z"/>
<path fill="#3054a8" d="M44 0h1v1h-1zM175 0h1v1h-1zM213 5h1v1h-1zM169 8h1v1h-1zM162 9h1v1h-1zM230 9h1v1h-1z"/>
<path fill="#d8b4a8" d="M49 0h1v1h-1zM113 0h1v1h-1zM122 0h1v1h-1zM179 0h1v1h-1zM184 0h1v1h-1zM37 1h1v1h-1zM42 1h1v1h-1zM58 1h1v1h-1zM120 1h1v1h-1zM133 1h1v1h-1zM151 1h1v1h-1zM99 2h1v1h-1zM164 2h1v1h-1zM211 2h1v1h-1zM263 2h1v1h-1zM32 3h2v1h-2zM51 3h2v1h-2zM54 3h1v1h-1zM99 3h1v1h-1zM161 3h1v1h-1zM183 3h1v1h-1zM236 3h1v1h-1zM10 4h1v1h-1zM24 4h1v1h-1zM87 4h1v1h-1zM95 4h1v1h-1zM84 5h1v1h-1zM97 5h1v1h-1zM19 6h1v1h-1zM226 6h1v1h-1zM266 6h1v1h-1zM50 7h1v1h-1zM72 7h1v1h-1zM143 7h1v1h-1zM199 7h1v1h-1zM249 7h1v1h-1zM23 8h1v1h-1zM30 8h1v1h-1zM36 8h1v1h-1zM62 8h1v1h-1zM95 8h1v1h-1zM103 8h1v1h-1zM129 8h1v1h-1zM194 8h1v1h-1zM63 9h1v1h-1zM110 9h1v1h-1zM243 9h1v1h-1zM263 9h1v1h-1z"/>
<path fill="#a8a8e4" d="M61 0h1v1h-1zM188 0h1v1h-1zM190 0h1v1h-1zM210 0h1v1h-1zM215 0h1v1h-1zM240 0h1v1h-1zM1 1h1v1h-1zM70 1h1v1h-1zM135 1h1v1h-1zM158 1h1v1h-1zM187 1h1v1h-1zM207 1h1v1h-1zM242 1h1v1h-1zM246 1h1v1h-1zM256 1h3v1h-3zM263 1h1v1h-1zM1 2h1v1h-1zM11 2h1v1h-1zM22 2h1v1h-1zM29 2h1v1h-1zM80 2h1v1h-1zM105 2h1v1h-1zM145 2h1v1h-1zM167 2h1v1h-1zM207 2h1v1h-1zM217 2h1v1h-1zM226 2h1v1h-1zM257 2h1v1h-1zM118 3h1v1h-1zM131 3h1v1h-1zM144 3h1v1h-1zM174 3h1v1h-1zM176 3h1v1h-1zM214 3h1v1h-1zM219 3h2v1h-2zM242 3h1v1h-1zM246 3h2v1h-2zM254 3h1v1h-1zM53 4h1v1h-1zM65 4h1v1h-1zM165 4h1v1h-1zM225 4h1v1h-1zM234 4h1v1h-1zM246 4h1v1h-1zM251 4h1v1h-1zM258 4h1v1h-1zM260 4h1v1h-1zM263 4h1v1h-1zM72 5h1v1h-1zM86 5h1v1h-1zM89 5h1v1h-1zM149 5h1v1h-1zM157 5h1v1h-1zM162 5h1v1h-1zM183 5h1v1h-1zM191 5h1v1h-1zM207 5h1v1h-1zM218 5h1v1h-1zM3 6h1v1h-1zM26 6h1v1h-1zM69 6h1v1h-1zM81 6h1v1h-1zM114 6h1v1h-1zM124 6h1v1h-1zM176 6h1v1h-1zM239 6h1v1h-1zM247 6h1v1h-1zM4 7h1v1h-1zM13 7h1v1h-1zM19 7h1v1h-1zM41 7h1v1h-1zM54 7h1v1h-1zM70 7h1v1h-1zM147 7h1v1h-1zM240 7h1v1h-1zM51 8h1v1h-1zM86 8h1v1h-1zM88 8h1v1h-1zM109 8h1v1h-1zM114 8h1v1h-1zM146 8h1v1h-1zM156 8h1v1h-1zM183 8h2v1h-2zM212 8h1v1h-1zM107 9h1v1h-1zM133 9h1v1h-1zM140 9h2v1h-2zM145 9h1v1h-1zM160 9h1v1h-1zM192 9h1v1h-1zM198 9h1v1h-1zM214 9h1v1h-1zM231 9h1v1h-1zM258 9h1v1h-1zM265 9h1v1h-1zM267 9h1v1h-1z"/>
<path fill="#7884cc" d="M68 0h1v1h-1zM70 0h1v1h-1zM177 0h1v1h-1zM180 0h1v1h-1zM204 0h1v1h-1zM255 0h1v1h-1zM258 0h1v1h-1zM261 0h1v1h-1zM7 1h1v1h-1zM152 1h1v1h-1zM218 1h1v1h-1zM229 1h1v1h-1zM236 1h1v1h-1zM41 2h1v1h-1zM59 2h1v1h-1zM210 2h1v1h-1zM48 3h1v1h-1zM74 3h1v1h-1zM155 3h1v1h-1zM175 3h1v1h-1zM181 3h1v1h-1zM195 3h1v1h-1zM234 3h1v1h-1zM248 3h1v1h-1zM259 3h1v1h-1zM85 4h1v1h-1zM179 4h1v1h-1zM211 4h1v1h-1zM220 4h1v1h-1zM254 4h1v1h-1zM52 5h1v1h-1zM55 5h1v1h-1zM126 5h1v1h-1zM141 5h1v1h-1zM154 5h1v1h-1zM167 5h2v1h-2zM170 5h1v1h-1zM176 5h1v1h-1zM212 5h1v1h-1zM223 5h1v1h-1zM1 6h1v1h-1zM7 6h1v1h-1zM12 6h1v1h-1zM57 6h1v1h-1zM122 6h1v1h-1zM132 6h1v1h-1zM136 6h1v1h-1zM151 6h1v1h-1zM165 6h1v1h-1zM167 6h1v1h-1zM257 6h1v1h-1zM9 7h1v1h-1zM42 7h1v1h-1zM81 7h1v1h-1zM116 7h1v1h-1zM120 7h1v1h-1zM155 7h1v1h-1zM193 7h1v1h-1zM208 7h1v1h-1zM260 7h1v1h-1zM110 8h1v1h-1zM151 8h1v1h-1zM213 8h1v1h-1zM217 8h1v1h-1zM242 8h1v1h-1zM249 8h1v1h-1zM264 8h1v1h-1zM122 9h1v1h-1zM185 9h1v1h-1zM193 9h1v1h-1zM197 9h1v1h-1zM199 9h1v1h-1z"/>
<path fill="#f0f0e4" d="M69 0h1v1h-1zM99 0h1v1h-1zM24 1h1v1h-1zM71 2h1v1h-1zM171 2h1v1h-1zM47 4h1v1h-1zM26 5h1v1h-1zM36 5h1v1h-1zM60 6h1v1h-1zM191 6h1v1h-1zM206 6h1v1h-1zM38 8h1v1h-1zM250 8h1v1h-1zM33 9h1v1h-1zM37 9h1v1h-1zM195 9h1v1h-1zM238 9h1v1h-1z"/>
<path fill="#cca890" d="M72 0h1v1h-1zM196 0h1v1h-1zM86 1h1v1h-1zM96 1h1v1h-1zM127 1h1v1h-1zM33 2h1v1h-1zM152 2h1v1h-1zM221 2h1v1h-1zM15 3h1v1h-1zM31 3h1v1h-1zM71 3h1v1h-1zM125 3h1v1h-1zM184 4h1v1h-1zM63 5h1v1h-1zM109 5h1v1h-1zM70 6h1v1h-1zM219 6h1v1h-1zM242 6h1v1h-1zM103 7h1v1h-1zM136 7h1v1h-1zM177 7h1v1h-1zM181 7h1v1h-1zM6 8h1v1h-1zM45 8h1v1h-1zM127 8h1v1h-1zM152 8h1v1h-1zM198 8h1v1h-1zM67 9h1v1h-1z"/>
<path fill="#ccccf0" d="M75 0h1v1h-1zM157 0h1v1h-1zM163 0h1v1h-1zM181 0h1v1h-1zM191 0h1v1h-1zM249 0h1v1h-1zM78 1h1v1h-1zM103 1h1v1h-1zM106 1h1v1h-1zM118 1h1v1h-1zM160 1h1v1h-1zM168 1h1v1h-1zM189 1h1v1h-1zM192 1h1v1h-1zM209 1h1v1h-1zM232 1h2v1h-2zM235 1h1v1h-1zM237 1h1v1h-1zM244 1h1v1h-1zM253 1h1v1h-1zM255 1h1v1h-1zM266 1h1v1h-1zM18 2h1v1h-1zM48 2h1v1h-1zM168 2h1v1h-1zM26 3h1v1h-1zM108 3h1v1h-1zM130 3h1v1h-1zM147 3h1v1h-1zM153 3h1v1h-1zM167 3h1v1h-1zM170 3h1v1h-1zM192 3h1v1h-1zM199 3h2v1h-2zM204 3h1v1h-1zM238 3h1v1h-1zM267 3h1v1h-1zM79 4h1v1h-1zM171 4h1v1h-1zM176 4h1v1h-1zM205 4h1v1h-1zM226 4h1v1h-1zM242 4h1v1h-1zM8 5h1v1h-1zM81 5h1v1h-1zM136 5h1v1h-1zM184 5h1v1h-1zM203 5h1v1h-1zM221 5h1v1h-1zM224 5h1v1h-1zM252 5h1v1h-1zM257 5h1v1h-1zM267 5h1v1h-1zM10 6h1v1h-1zM20 6h1v1h-1zM27 6h2v1h-2zM49 6h1v1h-1zM79 6h1v1h-1zM82 6h1v1h-1zM86 6h1v1h-1zM88 6h2v1h-2zM91 6h1v1h-1zM113 6h1v1h-1zM160 6h1v1h-1zM174 6h1v1h-1zM1 7h1v1h-1zM56 7h1v1h-1zM60 7h1v1h-1zM62 7h1v1h-1zM73 7h1v1h-1zM115 7h1v1h-1zM135 7h1v1h-1zM140 7h1v1h-1zM160 7h1v1h-1zM191 7h1v1h-1zM226 7h1v1h-1zM35 8h1v1h-1zM64 8h1v1h-1zM123 8h1v1h-1zM135 8h1v1h-1zM154 8h1v1h-1zM161 8h2v1h-2zM166 8h1v1h-1zM172 8h1v1h-1zM181 8h1v1h-1zM195 8h1v1h-1zM232 8h1v1h-1zM0 9h1v1h-1zM3 9h1v1h-1zM68 9h1v1h-1zM137 9h1v1h-1zM147 9h1v1h-1zM152 9h1v1h-1zM169 9h1v1h-1zM202 9h1v1h-1zM204 9h1v1h-1zM217 9h1v1h-1zM225 9h1v1h-1zM234 9h1v1h-1zM236 9h1v1h-1zM245 9h2v1h-2zM266 9h1v1h-1z"/>
<path fill="#a86c48" d="M85 0h1v1h-1zM124 0h1v1h-1zM149 0h1v1h-1zM18 1h1v1h-1zM68 1h1v1h-1zM126 1h1v1h-1zM211 1h1v1h-1zM54 2h1v1h-1zM149 2h1v1h-1zM230 2h2v1h-2zM44 3h1v1h-1zM62 3h1v1h-1zM56 4h1v1h-1zM54 5h1v1h-1zM25 6h1v1h-1zM240 8h1v1h-1zM90 9h1v1h-1zM118 9h1v1h-1zM154 9h1v1h-1zM168 10h1v1h-1zM198 10h1v1h-1zM206 10h1v1h-1zM230 10h1v1h-1zM248 10h1v1h-1zM252 10h1v1h-1zM267 10h1v1h-1z"/>
<path fill="#d8d8f0" d="M88 0h1v1h-1zM128 0h1v1h-1zM201 0h1v1h-1zM203 0h1v1h-1zM219 0h1v1h-1zM5 1h1v1h-1zM137 1h1v1h-1zM186 1h1v1h-1zM194 1h1v1h-1zM214 1h1v1h-1zM223 1h1v1h-1zM225 1h1v1h-1zM243 1h1v1h-1zM34 2h1v1h-1zM36 2h1v1h-1zM75 2h1v1h-1zM85 2h1v1h-1zM87 2h1v1h-1zM94 2h1v1h-1zM104 2h1v1h-1zM146 2h1v1h-1zM175 2h1v1h-1zM190 2h1v1h-1zM213 2h1v1h-1zM69 3h1v1h-1zM119 3h1v1h-1zM158 3h1v1h-1zM160 3h1v1h-1zM177 3h1v1h-1zM209 3h1v1h-1zM231 3h2v1h-2zM5 4h1v1h-1zM11 4h1v1h-1zM13 4h1v1h-1zM20 4h1v1h-1zM30 4h1v1h-1zM34 4h1v1h-1zM70 4h1v1h-1zM114 4h1v1h-1zM198 4h1v1h-1zM224 4h1v1h-1zM235 4h1v1h-1zM252 4h1v1h-1zM262 4h1v1h-1zM264 4h1v1h-1zM267 4h1v1h-1zM82 5h1v1h-1zM87 5h1v1h-1zM98 5h1v1h-1zM100 5h1v1h-1zM113 5h2v1h-2zM127 5h2v1h-2zM159 5h1v1h-1zM179 5h1v1h-1zM193 5h1v1h-1zM196 5h1v1h-1zM198 5h1v1h-1zM227 5h1v1h-1zM247 5h1v1h-1zM255 5h1v1h-1zM5 6h1v1h-1zM11 6h1v1h-1zM13 6h1v1h-1zM36 6h2v1h-2zM40 6h2v1h-2zM44 6h1v1h-1zM46 6h1v1h-1zM54 6h1v1h-1zM103 6h1v1h-1zM107 6h1v1h-1zM142 6h1v1h-1zM150 6h1v1h-1zM178 6h1v1h-1zM262 6h1v1h-1zM17 7h1v1h-1zM24 7h1v1h-1zM31 7h1v1h-1zM40 7h1v1h-1zM52 7h1v1h-1zM58 7h1v1h-1zM61 7h1v1h-1zM68 7h1v1h-1zM86 7h1v1h-1zM113 7h1v1h-1zM121 7h1v1h-1zM134 7h1v1h-1zM137 7h1v1h-1zM154 7h1v1h-1zM227 7h1v1h-1zM21 8h1v1h-1zM72 8h1v1h-1zM98 8h1v1h-1zM120 8h1v1h-1zM130 8h1v1h-1zM132 8h1v1h-1zM140 8h1v1h-1zM155 8h1v1h-1zM164 8h1v1h-1zM189 8h1v1h-1zM191 8h1v1h-1zM199 8h1v1h-1zM202 8h1v1h-1zM215 8h1v1h-1zM219 8h1v1h-1zM260 8h1v1h-1zM266 8h2v1h-2zM5 9h1v1h-1zM101 9h1v1h-1zM119 9h1v1h-1zM123 9h1v1h-1zM128 9h1v1h-1zM218 9h1v1h-1zM224 9h1v1h-1z"/>
<path fill="#3048a8" d="M90 0h1v1h-1zM123 0h1v1h-1zM140 0h1v1h-1zM151 0h1v1h-1zM160 0h1v1h-1zM198 0h1v1h-1zM217 0h2v1h-2zM162 1h1v1h-1zM206 1h1v1h-1zM16 2h1v1h-1zM37 2h1v1h-1zM67 2h1v1h-1zM120 2h1v1h-1zM194 2h1v1h-1zM234 2h1v1h-1zM243 2h1v1h-1zM1 3h1v1h-1zM123 3h1v1h-1zM139 3h1v1h-1zM146 3h1v1h-1zM164 3h1v1h-1zM178 3h1v1h-1zM187 3h2v1h-2zM225 3h1v1h-1zM250 3h1v1h-1zM252 3h1v1h-1zM261 3h1v1h-1zM263 3h2v1h-2zM266 3h1v1h-1zM75 4h1v1h-1zM133 4h1v1h-1zM146 4h1v1h-1zM148 4h1v1h-1zM188 4h1v1h-1zM200 4h1v1h-1zM209 4h1v1h-1zM217 4h1v1h-1zM245 4h1v1h-1zM71 5h1v1h-1zM117 5h1v1h-1zM165 5h1v1h-1zM171 5h1v1h-1zM202 5h1v1h-1zM225 5h1v1h-1zM229 5h1v1h-1zM258 5h1v1h-1zM6 6h1v1h-1zM9 6h1v1h-1zM15 6h1v1h-1zM97 6h1v1h-1zM186 6h1v1h-1zM188 6h1v1h-1zM38 7h1v1h-1zM84 7h2v1h-2zM93 7h1v1h-1zM108 7h1v1h-1zM138 7h1v1h-1zM162 7h1v1h-1zM31 8h1v1h-1zM34 8h1v1h-1zM168 8h1v1h-1zM170 8h1v1h-1zM180 8h1v1h-1zM186 8h1v1h-1zM190 8h1v1h-1zM192 8h1v1h-1zM226 8h1v1h-1zM233 8h1v1h-1zM251 8h1v1h-1zM253 8h1v1h-1zM263 8h1v1h-1zM60 9h1v1h-1zM80 9h1v1h-1zM105 9h1v1h-1zM212 9h1v1h-1zM232 9h2v1h-2z"/>
<path fill="#fcf0f0" d="M93 0h1v1h-1zM202 0h1v1h-1zM36 1h1v1h-1zM111 1h1v1h-1zM45 2h1v1h-1zM84 2h1v1h-1zM184 2h1v1h-1zM125 4h1v1h-1zM131 4h1v1h-1zM107 5h1v1h-1zM135 5h1v1h-1zM85 6h1v1h-1zM118 6h1v1h-1zM185 6h1v1h-1zM212 6h1v1h-1zM241 6h1v1h-1zM75 7h1v1h-1zM164 7h1v1h-1zM32 8h1v1h-1zM41 8h1v1h-1zM126 8h1v1h-1zM9 9h1v1h-1zM27 9h1v1h-1zM54 9h3v1h-3zM116 9h1v1h-1z"/>
<path fill="#a85430" d="M94 0h1v1h-1zM96 0h1v1h-1zM111 0h1v1h-1zM50 1h1v1h-1zM112 2h1v1h-1zM144 2h1v1h-1zM186 2h1v1h-1zM197 2h1v1h-1zM28 3h1v1h-1zM117 3h1v1h-1zM145 3h1v1h-1zM157 3h1v1h-1zM13 5h1v1h-1zM46 5h1v1h-1zM85 5h1v1h-1zM108 8h1v1h-1zM121 8h1v1h-1zM70 9h1v1h-1zM8 10h1v1h-1zM43 10h1v1h-1zM90 10h1v1h-1zM99 10h1v1h-1zM124 10h1v1h-1zM151 10h1v1h-1zM193 10h1v1h-1zM202 10h1v1h-1zM226 10h1v1h-1z"/>
<path fill="#f0f0fc" d="M98 0h1v1h-1zM139 0h1v1h-1zM154 0h1v1h-1zM189 0h1v1h-1zM227 0h1v1h-1zM233 0h1v1h-1zM247 0h1v1h-1zM165 1h1v1h-1zM213 1h1v1h-1zM228 1h1v1h-1zM251 1h1v1h-1zM30 2h1v1h-1zM92 2h1v1h-1zM134 2h1v1h-1zM176 2h1v1h-1zM86 3h1v1h-1zM96 3h1v1h-1zM112 3h1v1h-1zM168 3h1v1h-1zM201 3h1v1h-1zM38 4h1v1h-1zM51 4h1v1h-1zM74 4h1v1h-1zM93 4h1v1h-1zM127 4h1v1h-1zM134 4h1v1h-1zM199 4h1v1h-1zM112 5h1v1h-1zM132 5h1v1h-1zM142 5h1v1h-1zM180 5h1v1h-1zM253 5h1v1h-1zM262 5h1v1h-1zM135 6h1v1h-1zM227 6h1v1h-1zM249 6h1v1h-1zM71 7h1v1h-1zM194 7h1v1h-1zM212 7h1v1h-1zM80 8h1v1h-1zM107 8h1v1h-1zM205 8h1v1h-1zM220 8h1v1h-1zM244 8h1v1h-1zM18 9h1v1h-1zM34 9h1v1h-1zM64 9h1v1h-1zM127 9h1v1h-1zM146 9h1v1h-1zM166 9h1v1h-1zM179 9h1v1h-1zM181 9h1v1h-1zM194 9h1v1h-1zM205 9h1v1h-1zM223 9h1v1h-1zM261 9h1v1h-1z"/>
<path fill="#909cd8" d="M100 0h1v1h-1zM129 0h1v1h-1zM226 0h1v1h-1zM231 0h1v1h-1zM236 0h1v1h-1zM245 0h1v1h-1zM89 1h1v1h-1zM198 1h1v1h-1zM249 1h1v1h-1zM63 2h1v1h-1zM136 2h1v1h-1zM191 2h1v1h-1zM236 2h1v1h-1zM64 4h1v1h-1zM104 5h1v1h-1zM169 5h1v1h-1zM187 5h1v1h-1zM245 5h1v1h-1zM0 6h1v1h-1zM117 6h1v1h-1zM137 6h1v1h-1zM157 6h1v1h-1zM78 7h1v1h-1zM196 8h1v1h-1zM24 9h1v1h-1zM168 9h1v1h-1zM172 9h1v1h-1zM244 9h1v1h-1z"/>
<path fill="#f0e4d8" d="M101 0h1v1h-1zM40 1h1v1h-1zM81 1h1v1h-1zM125 1h1v1h-1zM44 2h1v1h-1zM62 2h1v1h-1zM97 2h1v1h-1zM156 2h1v1h-1zM162 2h1v1h-1zM200 2h1v1h-1zM209 2h1v1h-1zM237 2h1v1h-1zM31 4h1v1h-1zM113 4h1v1h-1zM169 4h1v1h-1zM23 5h1v1h-1zM29 5h1v1h-1zM76 5h1v1h-1zM99 5h1v1h-1zM119 6h1v1h-1zM225 6h1v1h-1zM238 6h1v1h-1zM65 7h1v1h-1zM142 7h1v1h-1zM187 7h1v1h-1zM2 8h1v1h-1zM111 9h2v1h-2zM120 9h1v1h-1zM136 9h1v1h-1z"/>
<path fill="#b4b4e4" d="M107 0h2v1h-2zM138 0h1v1h-1zM145 0h1v1h-1zM155 0h1v1h-1zM165 0h1v1h-1zM199 0h1v1h-1zM222 0h1v1h-1zM229 0h1v1h-1zM232 0h1v1h-1zM252 0h1v1h-1zM256 0h1v1h-1zM146 1h1v1h-1zM167 1h1v1h-1zM175 1h1v1h-1zM182 1h1v1h-1zM200 1h1v1h-1zM203 1h2v1h-2zM264 1h1v1h-1zM5 2h1v1h-1zM8 2h1v1h-1zM24 2h1v1h-1zM66 2h1v1h-1zM121 2h1v1h-1zM179 2h1v1h-1zM187 2h1v1h-1zM206 2h1v1h-1zM212 2h1v1h-1zM244 2h1v1h-1zM253 2h1v1h-1zM259 2h1v1h-1zM262 2h1v1h-1zM103 3h1v1h-1zM141 3h1v1h-1zM149 3h1v1h-1zM165 3h1v1h-1zM171 3h1v1h-1zM173 3h1v1h-1zM206 3h1v1h-1zM217 3h1v1h-1zM243 3h1v1h-1zM96 4h1v1h-1zM118 4h1v1h-1zM121 4h1v1h-1zM123 4h1v1h-1zM136 4h1v1h-1zM159 4h1v1h-1zM172 4h1v1h-1zM175 4h1v1h-1zM196 4h1v1h-1zM203 4h1v1h-1zM237 4h1v1h-1zM60 5h1v1h-1zM101 5h1v1h-1zM103 5h1v1h-1zM119 5h1v1h-1zM138 5h1v1h-1zM147 5h1v1h-1zM182 5h1v1h-1zM208 5h1v1h-1zM241 5h1v1h-1zM14 6h1v1h-1zM47 6h1v1h-1zM55 6h1v1h-1zM77 6h1v1h-1zM90 6h1v1h-1zM125 6h2v1h-2zM245 6h1v1h-1zM15 7h1v1h-1zM102 7h1v1h-1zM104 7h1v1h-1zM114 7h1v1h-1zM144 7h1v1h-1zM152 7h1v1h-1zM238 7h1v1h-1zM13 8h1v1h-1zM57 8h1v1h-1zM89 8h1v1h-1zM159 8h1v1h-1zM178 8h1v1h-1zM201 8h1v1h-1zM204 8h1v1h-1zM227 8h1v1h-1zM241 8h1v1h-1zM15 9h1v1h-1zM45 9h1v1h-1zM62 9h1v1h-1zM96 9h1v1h-1zM129 9h1v1h-1zM158 9h1v1h-1zM174 9h1v1h-1zM216 9h1v1h-1z"/>
<path fill="#6c78c0" d="M112 0h1v1h-1zM170 0h1v1h-1zM173 0h1v1h-1zM230 0h1v1h-1zM260 0h1v1h-1zM51 1h1v1h-1zM183 1h1v1h-1zM219 1h1v1h-1zM43 2h1v1h-1zM110 2h1v1h-1zM63 3h1v1h-1zM154 3h1v1h-1zM179 3h1v1h-1zM222 3h1v1h-1zM245 3h1v1h-1zM249 3h1v1h-1zM255 3h1v1h-1zM26 4h1v1h-1zM145 4h1v1h-1zM190 4h1v1h-1zM192 4h1v1h-1zM221 4h1v1h-1zM261 4h1v1h-1zM265 4h1v1h-1zM173 5h1v1h-1zM192 5h1v1h-1zM197 5h1v1h-1zM233 5h1v1h-1zM264 5h1v1h-1zM39 6h1v1h-1zM64 6h1v1h-1zM120 6h1v1h-1zM177 6h1v1h-1zM36 7h1v1h-1zM43 7h1v1h-1zM47 7h1v1h-1zM76 7h1v1h-1zM95 7h1v1h-1zM157 7h1v1h-1zM179 7h1v1h-1zM182 7h1v1h-1zM245 7h1v1h-1zM216 8h1v1h-1zM265 8h1v1h-1zM1 9h1v1h-1zM14 9h1v1h-1zM213 9h1v1h-1zM222 9h1v1h-1z"/>
<path fill="#3c54b4" d="M119 0h1v1h-1zM185 0h1v1h-1zM212 0h1v1h-1zM251 0h1v1h-1zM197 1h1v1h-1zM261 1h1v1h-1zM267 1h1v1h-1zM10 2h1v1h-1zM46 2h1v1h-1zM229 3h1v1h-1zM46 4h1v1h-1zM201 5h1v1h-1zM54 8h1v1h-1zM159 9h1v1h-1zM253 9h1v1h-1z"/>
<path fill="#606cc0" d="M120 0h1v1h-1zM141 0h1v1h-1zM147 0h2v1h-2zM162 0h1v1h-1zM207 0h1v1h-1zM234 0h1v1h-1zM107 1h1v1h-1zM145 1h1v1h-1zM188 1h1v1h-1zM191 1h1v1h-1zM208 1h1v1h-1zM27 2h1v1h-1zM58 2h1v1h-1zM61 2h1v1h-1zM165 2h2v1h-2zM241 2h1v1h-1zM255 2h1v1h-1zM264 2h1v1h-1zM49 3h1v1h-1zM166 3h1v1h-1zM180 3h1v1h-1zM189 3h1v1h-1zM193 3h1v1h-1zM202 3h1v1h-1zM230 3h1v1h-1zM239 3h1v1h-1zM262 3h1v1h-1zM54 4h1v1h-1zM163 4h1v1h-1zM206 4h1v1h-1zM218 4h1v1h-1zM229 4h1v1h-1zM177 5h1v1h-1zM210 5h1v1h-1zM242 5h1v1h-1zM29 6h1v1h-1zM185 7h1v1h-1zM239 7h1v1h-1zM119 8h1v1h-1zM131 8h1v1h-1zM143 8h1v1h-1zM145 8h1v1h-1zM231 8h1v1h-1zM36 9h1v1h-1zM100 9h1v1h-1zM103 9h1v1h-1zM182 9h1v1h-1zM196 9h1v1h-1zM260 9h1v1h-1zM0 10h8v1h-8zM10 10h4v1h-4zM15 10h9v1h-9zM25 10h6v1h-6zM32 10h1v1h-1zM34 10h9v1h-9zM44 10h3v1h-3zM48 10h11v1h-11zM61 10h9v1h-9zM71 10h4v1h-4zM77 10h4v1h-4zM82 10h8v1h-8zM91 10h3v1h-3zM95 10h4v1h-4zM102 10h1v1h-1zM105 10h2v1h-2zM108 10h2v1h-2zM111 10h2v1h-2zM114 10h3v1h-3zM118 10h4v1h-4zM125 10h1v1h-1zM128 10h2v1h-2zM133 10h3v1h-3zM139 10h1v1h-1zM142 10h5v1h-5zM148 10h2v1h-2zM154 10h1v1h-1zM159 10h1v1h-1zM161 10h1v1h-1zM165 10h2v1h-2zM171 10h3v1h-3zM175 10h3v1h-3zM179 10h1v1h-1zM182 10h1v1h-1zM184 10h1v1h-1zM187 10h1v1h-1zM189 10h3v1h-3zM194 10h1v1h-1zM197 10h1v1h-1zM200 10h1v1h-1zM203 10h2v1h-2zM207 10h1v1h-1zM210 10h1v1h-1zM212 10h1v1h-1zM214 10h1v1h-1zM218 10h1v1h-1zM221 10h3v1h-3zM225 10h1v1h-1zM227 10h2v1h-2zM232 10h2v1h-2zM235 10h3v1h-3zM241 10h4v1h-4zM249 10h1v1h-1zM253 10h1v1h-1zM260 10h2v1h-2zM264 10h1v1h-1z"/>
<path fill="#cc9c90" d="M126 0h1v1h-1zM244 0h1v1h-1zM2 1h1v1h-1zM56 1h1v1h-1zM76 2h1v1h-1zM233 2h1v1h-1zM252 2h1v1h-1zM73 3h1v1h-1zM120 3h1v1h-1zM166 4h1v1h-1zM48 5h1v1h-1zM148 5h1v1h-1zM80 6h1v1h-1zM246 6h1v1h-1zM111 7h1v1h-1zM66 8h1v1h-1zM84 8h1v1h-1zM38 9h1v1h-1z"/>
<path fill="#c0c0e4" d="M130 0h1v1h-1zM168 0h1v1h-1zM205 0h1v1h-1zM238 0h1v1h-1zM266 0h1v1h-1zM112 1h1v1h-1zM195 1h1v1h-1zM227 1h1v1h-1zM265 1h1v1h-1zM3 2h1v1h-1zM78 2h1v1h-1zM100 2h1v1h-1zM131 2h1v1h-1zM218 2h1v1h-1zM35 3h1v1h-1zM159 3h1v1h-1zM198 3h1v1h-1zM226 3h3v1h-3zM240 3h1v1h-1zM256 3h1v1h-1zM258 3h1v1h-1zM16 4h1v1h-1zM41 4h1v1h-1zM177 4h1v1h-1zM219 4h1v1h-1zM236 4h1v1h-1zM256 4h1v1h-1zM266 4h1v1h-1zM129 5h1v1h-1zM134 5h1v1h-1zM214 5h2v1h-2zM228 5h1v1h-1zM248 5h2v1h-2zM251 5h1v1h-1zM75 6h1v1h-1zM87 6h1v1h-1zM109 6h1v1h-1zM184 6h1v1h-1zM205 6h1v1h-1zM210 6h1v1h-1zM234 6h1v1h-1zM8 7h1v1h-1zM20 7h1v1h-1zM45 7h1v1h-1zM55 7h1v1h-1zM57 7h1v1h-1zM66 7h1v1h-1zM74 7h1v1h-1zM89 7h1v1h-1zM99 7h1v1h-1zM118 7h1v1h-1zM146 7h1v1h-1zM206 7h1v1h-1zM211 7h1v1h-1zM218 7h1v1h-1zM229 7h1v1h-1zM233 7h1v1h-1zM94 8h1v1h-1zM133 8h1v1h-1zM144 8h1v1h-1zM167 8h1v1h-1zM221 8h2v1h-2zM224 8h1v1h-1zM261 8h1v1h-1zM167 9h1v1h-1z"/>
<path fill="#9c9cd8" d="M153 0h1v1h-1zM172 0h1v1h-1zM206 0h1v1h-1zM253 0h1v1h-1zM262 0h1v1h-1zM19 1h1v1h-1zM148 1h1v1h-1zM159 1h1v1h-1zM185 1h1v1h-1zM205 1h1v1h-1zM245 1h1v1h-1zM262 1h1v1h-1zM83 2h1v1h-1zM113 2h1v1h-1zM185 2h1v1h-1zM201 2h1v1h-1zM205 2h1v1h-1zM133 3h1v1h-1zM152 3h1v1h-1zM191 3h1v1h-1zM210 3h1v1h-1zM253 3h1v1h-1zM25 4h1v1h-1zM60 4h1v1h-1zM117 4h1v1h-1zM124 4h1v1h-1zM129 4h1v1h-1zM140 4h1v1h-1zM152 4h1v1h-1zM178 4h1v1h-1zM186 4h1v1h-1zM201 4h1v1h-1zM230 4h1v1h-1zM259 4h1v1h-1zM75 5h1v1h-1zM91 5h1v1h-1zM105 5h1v1h-1zM120 5h1v1h-1zM139 5h1v1h-1zM209 5h1v1h-1zM211 5h1v1h-1zM216 5h1v1h-1zM250 5h1v1h-1zM254 5h1v1h-1zM56 6h1v1h-1zM71 6h1v1h-1zM221 6h1v1h-1zM0 7h1v1h-1zM18 7h1v1h-1zM30 7h1v1h-1zM64 7h1v1h-1zM83 7h1v1h-1zM101 7h1v1h-1zM188 7h1v1h-1zM224 7h1v1h-1zM232 7h1v1h-1zM50 8h1v1h-1zM99 8h1v1h-1zM138 8h1v1h-1zM150 8h1v1h-1zM163 8h1v1h-1zM174 8h1v1h-1zM185 8h1v1h-1zM193 8h1v1h-1zM203 8h1v1h-1zM207 8h1v1h-1zM218 8h1v1h-1zM225 8h1v1h-1zM229 8h2v1h-2zM77 9h1v1h-1zM88 9h1v1h-1zM104 9h1v1h-1zM176 9h1v1h-1zM201 9h1v1h-1zM203 9h1v1h-1zM209 9h1v1h-1zM239 9h1v1h-1zM242 9h1v1h-1zM247 9h1v1h-1zM252 9h1v1h-1z"/>
<path fill="#3c54a8" d="M156 0h1v1h-1zM213 0h1v1h-1zM263 0h1v1h-1zM28 1h1v1h-1zM82 3h1v1h-1zM116 5h1v1h-1zM172 5h1v1h-1zM243 5h1v1h-1zM263 6h1v1h-1zM244 7h1v1h-1zM254 7h1v1h-1zM59 8h1v1h-1zM210 8h1v1h-1zM177 9h1v1h-1z"/>
<path fill="#8484cc" d="M158 0h1v1h-1zM178 0h1v1h-1zM265 0h1v1h-1zM252 1h1v1h-1zM125 2h1v1h-1zM140 2h1v1h-1zM232 2h1v1h-1zM245 2h1v1h-1zM235 3h1v1h-1zM260 3h1v1h-1zM86 4h1v1h-1zM90 4h1v1h-1zM173 4h1v1h-1zM204 4h1v1h-1zM238 4h1v1h-1zM137 5h1v1h-1zM166 5h1v1h-1zM204 5h1v1h-1zM244 5h1v1h-1zM148 7h1v1h-1zM42 8h1v1h-1zM55 8h1v1h-1zM208 8h1v1h-1zM130 9h1v1h-1zM153 9h1v1h-1zM235 9h1v1h-1z"/>
<path fill="#5460c0" d="M161 0h1v1h-1zM193 1h1v1h-1zM201 1h1v1h-1zM260 1h1v1h-1zM57 2h1v1h-1zM93 6h1v1h-1zM168 7h1v1h-1zM217 7h1v1h-1zM44 9h1v1h-1zM109 9h1v1h-1zM173 9h1v1h-1z"/>
<path fill="#e4e4fc" d="M166 0h1v1h-1zM230 1h1v1h-1zM20 2h1v1h-1zM215 2h1v1h-1zM185 3h1v1h-1zM215 3h1v1h-1zM99 4h1v1h-1zM189 4h1v1h-1zM239 5h1v1h-1zM62 6h1v1h-1zM172 6h1v1h-1zM190 6h1v1h-1zM105 7h1v1h-1zM186 7h1v1h-1zM149 8h1v1h-1zM97 9h1v1h-1zM132 9h1v1h-1zM149 9h1v1h-1zM164 9h1v1h-1zM206 9h1v1h-1z"/>
<path fill="#e4e4f0" d="M167 0h1v1h-1zM192 0h1v1h-1zM259 0h1v1h-1zM34 1h1v1h-1zM170 1h1v1h-1zM176 1h1v1h-1zM212 1h1v1h-1zM238 1h1v1h-1zM241 1h1v1h-1zM13 2h1v1h-1zM96 2h1v1h-1zM39 3h1v1h-1zM78 3h1v1h-1zM95 3h1v1h-1zM106 3h1v1h-1zM128 3h1v1h-1zM194 3h1v1h-1zM196 3h1v1h-1zM105 4h1v1h-1zM110 4h1v1h-1zM195 4h1v1h-1zM247 4h1v1h-1zM249 4h1v1h-1zM6 5h1v1h-1zM20 5h1v1h-1zM108 5h1v1h-1zM153 5h1v1h-1zM194 5h1v1h-1zM232 5h1v1h-1zM246 5h1v1h-1zM265 5h1v1h-1zM8 6h1v1h-1zM16 6h1v1h-1zM38 6h1v1h-1zM83 6h1v1h-1zM105 6h1v1h-1zM112 6h1v1h-1zM133 6h1v1h-1zM179 6h1v1h-1zM182 6h1v1h-1zM201 6h1v1h-1zM6 7h1v1h-1zM21 7h1v1h-1zM26 7h1v1h-1zM87 7h1v1h-1zM200 7h1v1h-1zM214 7h1v1h-1zM264 7h1v1h-1zM43 8h1v1h-1zM83 8h1v1h-1zM111 8h1v1h-1zM124 8h1v1h-1zM179 8h1v1h-1zM237 8h1v1h-1zM239 8h1v1h-1zM245 8h1v1h-1zM7 9h1v1h-1zM82 9h1v1h-1zM102 9h1v1h-1zM148 9h1v1h-1zM200 9h1v1h-1zM219 9h1v1h-1zM256 9h1v1h-1z"/>
<path fill="#8490cc" d="M171 0h1v1h-1zM82 1h1v1h-1zM163 1h2v1h-2zM177 1h1v1h-1zM15 2h1v1h-1zM123 2h1v1h-1zM128 2h1v1h-1zM142 2h1v1h-1zM186 3h1v1h-1zM224 3h1v1h-1zM244 3h1v1h-1zM251 3h1v1h-1zM250 4h1v1h-1zM185 5h1v1h-1zM195 5h1v1h-1zM219 5h2v1h-2zM236 5h1v1h-1zM18 6h1v1h-1zM31 6h1v1h-1zM63 6h1v1h-1zM66 6h3v1h-3zM101 6h1v1h-1zM148 6h1v1h-1zM16 7h1v1h-1zM88 7h1v1h-1zM106 7h1v1h-1zM150 7h1v1h-1zM166 7h1v1h-1zM182 8h1v1h-1zM200 8h1v1h-1zM209 8h1v1h-1zM91 9h1v1h-1zM237 9h1v1h-1z"/>
<path fill="#c07860" d="M174 0h1v1h-1zM242 0h1v1h-1zM45 1h1v1h-1zM47 1h1v1h-1zM121 1h1v1h-1zM150 1h1v1h-1zM179 1h1v1h-1zM148 2h1v1h-1zM208 2h1v1h-1zM60 3h1v1h-1zM115 3h1v1h-1zM42 4h1v1h-1zM144 6h1v1h-1zM189 6h1v1h-1zM260 6h1v1h-1zM205 7h1v1h-1zM16 8h1v1h-1zM158 10h1v1h-1zM224 10h1v1h-1z"/>
<path fill="#6078c0" d="M176 0h1v1h-1zM194 0h1v1h-1zM211 0h1v1h-1zM237 0h1v1h-1zM153 1h1v1h-1zM210 1h1v1h-1zM217 1h1v1h-1zM222 1h1v1h-1zM9 2h1v1h-1zM98 2h1v1h-1zM221 3h1v1h-1zM223 3h1v1h-1zM147 4h1v1h-1zM208 4h1v1h-1zM259 5h1v1h-1zM194 6h1v1h-1zM132 7h1v1h-1zM160 8h1v1h-1zM246 8h1v1h-1zM39 9h1v1h-1zM61 9h1v1h-1zM143 9h1v1h-1zM211 9h1v1h-1z"/>
<path fill="#4860b4" d="M193 0h1v1h-1zM235 0h1v1h-1zM243 0h1v1h-1zM8 1h1v1h-1zM172 1h1v1h-1zM248 1h1v1h-1zM49 2h1v1h-1zM93 2h1v1h-1zM216 2h1v1h-1zM213 3h1v1h-1zM237 3h1v1h-1zM265 3h1v1h-1zM83 4h1v1h-1zM132 4h1v1h-1zM139 4h1v1h-1zM214 4h1v1h-1zM240 4h2v1h-2zM243 4h1v1h-1zM115 5h1v1h-1zM121 5h1v1h-1zM155 5h2v1h-2zM199 5h1v1h-1zM217 5h1v1h-1zM222 5h1v1h-1zM226 5h1v1h-1zM235 5h1v1h-1zM237 5h1v1h-1zM240 5h1v1h-1zM256 5h1v1h-1zM266 5h1v1h-1zM23 6h1v1h-1zM34 6h2v1h-2zM106 6h1v1h-1zM175 6h1v1h-1zM215 6h1v1h-1zM29 7h1v1h-1zM63 7h1v1h-1zM91 7h1v1h-1zM145 7h1v1h-1zM176 7h1v1h-1zM235 7h1v1h-1zM82 8h1v1h-1zM96 8h1v1h-1zM223 8h1v1h-1zM247 8h1v1h-1zM257 8h1v1h-1zM254 9h1v1h-1z"/>
<path fill="#8490d8" d="M208 0h1v1h-1zM250 0h1v1h-1zM157 1h1v1h-1zM199 1h1v1h-1zM116 2h1v1h-1zM155 2h1v1h-1zM247 2h1v1h-1zM111 5h1v1h-1zM145 5h1v1h-1zM152 5h1v1h-1zM161 5h1v1h-1zM190 5h1v1h-1zM234 5h1v1h-1zM127 6h1v1h-1zM25 7h1v1h-1zM255 7h1v1h-1zM187 8h1v1h-1zM243 8h1v1h-1zM258 8h1v1h-1zM156 9h1v1h-1z"/>
<path fill="#4854b4" d="M228 0h1v1h-1zM253 4h1v1h-1zM128 7h1v1h-1zM39 8h1v1h-1z"/>
<path fill="#e4cccc" d="M14 1h1v1h-1zM60 2h1v1h-1zM182 2h1v1h-1zM252 7h1v1h-1z"/>
<path fill="#6c78cc" d="M32 1h1v1h-1zM184 1h1v1h-1zM221 1h1v1h-1zM226 1h1v1h-1zM234 1h1v1h-1zM109 3h1v1h-1zM213 4h1v1h-1zM53 5h1v1h-1zM83 5h1v1h-1zM200 5h1v1h-1zM230 5h1v1h-1zM53 6h1v1h-1zM128 6h1v1h-1zM131 6h1v1h-1zM14 7h1v1h-1zM77 7h1v1h-1zM220 7h1v1h-1zM255 8h1v1h-1zM4 9h1v1h-1zM251 9h1v1h-1z"/>
<path fill="#cc9084" d="M48 1h1v1h-1zM254 2h1v1h-1zM87 3h1v1h-1zM134 9h1v1h-1z"/>
<path fill="#d8c0b4" d="M87 1h1v1h-1zM97 1h1v1h-1zM231 1h1v1h-1zM50 2h1v1h-1zM246 2h1v1h-1zM22 3h1v1h-1zM190 3h1v1h-1zM7 4h1v1h-1zM52 4h1v1h-1zM137 4h1v1h-1zM140 5h1v1h-1zM117 7h1v1h-1zM4 8h1v1h-1zM18 8h1v1h-1zM75 8h1v1h-1zM81 8h1v1h-1zM113 9h1v1h-1zM227 9h1v1h-1z"/>
<path fill="#546cc0" d="M92 1h1v1h-1zM181 1h1v1h-1zM25 2h1v1h-1zM42 2h1v1h-1zM188 2h1v1h-1zM223 2h1v1h-1zM225 2h1v1h-1zM265 2h1v1h-1zM89 3h1v1h-1zM151 3h1v1h-1zM169 3h1v1h-1zM182 3h1v1h-1zM205 3h1v1h-1zM212 3h1v1h-1zM23 4h1v1h-1zM100 4h1v1h-1zM116 4h1v1h-1zM181 4h1v1h-1zM187 4h1v1h-1zM244 4h1v1h-1zM231 5h1v1h-1zM102 6h1v1h-1zM163 6h1v1h-1zM208 6h1v1h-1zM119 7h1v1h-1zM151 7h1v1h-1zM265 7h1v1h-1zM22 9h1v1h-1zM155 9h1v1h-1z"/>
<path fill="#fcfcfc" d="M154 1h1v1h-1zM163 2h1v1h-1zM119 4h1v1h-1zM110 5h1v1h-1zM138 6h1v1h-1zM235 6h1v1h-1zM248 6h1v1h-1zM98 7h1v1h-1zM122 7h1v1h-1zM163 7h1v1h-1zM25 9h1v1h-1zM106 9h1v1h-1z"/>
<path fill="#7878cc" d="M169 1h1v1h-1zM82 2h1v1h-1zM61 3h1v1h-1zM91 3h1v1h-1zM167 4h1v1h-1zM32 6h1v1h-1zM3 7h1v1h-1zM189 9h1v1h-1zM220 9h1v1h-1z"/>
<path fill="#a8a8d8" d="M53 2h1v1h-1zM2 3h1v1h-1zM113 3h1v1h-1zM197 3h1v1h-1zM57 4h1v1h-1zM248 4h1v1h-1zM32 7h1v1h-1zM153 8h1v1h-1zM206 8h1v1h-1zM135 9h1v1h-1zM178 9h1v1h-1z"/>
<path fill="#5460b4" d="M143 2h1v1h-1zM199 2h1v1h-1zM156 3h1v1h-1zM184 3h1v1h-1zM202 4h1v1h-1zM227 4h1v1h-1zM188 5h1v1h-1zM94 6h1v1h-1zM104 6h1v1h-1zM10 7h1v1h-1zM12 7h1v1h-1zM23 7h1v1h-1zM48 8h1v1h-1zM235 8h1v1h-1zM79 9h1v1h-1zM259 9h1v1h-1z"/>
<path fill="#a8543c" d="M53 3h1v1h-1zM131 5h1v1h-1zM114 9h1v1h-1z"/>
<path fill="#fcfcf0" d="M144 4h1v1h-1zM153 6h1v1h-1zM234 7h1v1h-1z"/>
<path fill="#9ca8d8" d="M174 5h1v1h-1zM206 5h1v1h-1zM229 9h1v1h-1z"/>
<path fill="#a86030" d="M31 10h1v1h-1zM33 10h1v1h-1zM70 10h1v1h-1zM107 10h1v1h-1zM117 10h1v1h-1zM140 10h1v1h-1zM188 10h1v1h-1zM199 10h1v1h-1zM209 10h1v1h-1zM216 10h2v1h-2z"/>
<path fill="#c07854" d="M60 10h1v1h-1zM100 10h1v1h-1zM170 10h1v1h-1zM246 10h1v1h-1z"/>
<path fill="#b47848" d="M101 10h1v1h-1zM130 10h1v1h-1zM150 10h1v1h-1zM155 10h1v1h-1zM192 10h1v1h-1zM259 10h1v1h-1z"/>
<path fill="#a86c3c" d="M123 10h1v1h-1zM238 10h1v1h-1z"/>
</g>
<text transform="translate(606.7 373.2) scale(0.77 1)" font-size="5.6" font-weight="bold" stroke="#000" stroke-width="0.15">Risk</text>
<text transform="translate(606.7 388.51) scale(0.86 1)" font-size="6.4" stroke="#000" stroke-width="0.18">MYADM</text>
<text transform="translate(606.7 407.94) scale(0.86 1)" font-size="6.4" stroke="#000" stroke-width="0.18">MPDZ</text>
<text transform="translate(606.7 427.38) scale(0.86 1)" font-size="6.4" stroke="#000" stroke-width="0.18">LTBP2</text>
<text transform="translate(606.7 446.81) scale(0.86 1)" font-size="6.4" stroke="#000" stroke-width="0.18">PAPSS2</text>
<text transform="translate(606.7 466.24) scale(0.86 1)" font-size="6.4" stroke="#000" stroke-width="0.18">DENND4C</text>
<text transform="translate(606.7 485.67) scale(0.86 1)" font-size="6.4" stroke="#000" stroke-width="0.18">PROK1</text>
<text transform="translate(606.7 505.1) scale(0.86 1)" font-size="6.4" stroke="#000" stroke-width="0.18">DDIT4</text>
<text transform="translate(606.7 524.52) scale(0.86 1)" font-size="6.4" stroke="#000" stroke-width="0.18">IGFBP3</text>
<text transform="translate(606.7 543.96) scale(0.86 1)" font-size="6.4" stroke="#000" stroke-width="0.18">CFD</text>
<text transform="translate(606.7 563.38) scale(0.86 1)" font-size="6.4" stroke="#000" stroke-width="0.18">MMP7</text>
<text transform="translate(606.7 582.82) scale(0.86 1)" font-size="6.4" stroke="#000" stroke-width="0.18">PIGY</text>
<defs><linearGradient id="g3700" x1="0" y1="0" x2="0" y2="1"><stop offset="0" stop-color="#9c502d"/><stop offset="0.31" stop-color="#9c502d"/><stop offset="0.43" stop-color="#d4a690"/><stop offset="0.51" stop-color="#ffffff"/><stop offset="0.555" stop-color="#a2a2de"/><stop offset="0.6" stop-color="#2d4ca8"/><stop offset="1" stop-color="#2d4ca8"/></linearGradient></defs>
<rect x="636.7" y="367" width="6.6" height="119.6" fill="url(#g3700)"/>
<text x="646" y="376.8" font-size="5.4">4</text>
<text x="646" y="403.2" font-size="5.4">2</text>
<text x="646" y="429.9" font-size="5.4">0</text>
<text x="646" y="456.5" font-size="5.4">-2</text>
<text x="646" y="483.1" font-size="5.4">-4</text>
<text transform="translate(650.2 371.6) scale(0.77 1)" font-size="5.6" font-weight="bold" stroke="#000" stroke-width="0.15">Risk</text>
<rect x="650.2" y="373.8" width="7" height="8.2" fill="#3a72b8"/>
<rect x="650.2" y="382" width="7" height="8.1" fill="#e55555"/>
<text transform="translate(658.4 380.1) scale(0.85 1)" font-size="5.4">low</text>
<text transform="translate(658.4 388.8) scale(0.85 1)" font-size="5.4">high</text>
</svg></body></html>
